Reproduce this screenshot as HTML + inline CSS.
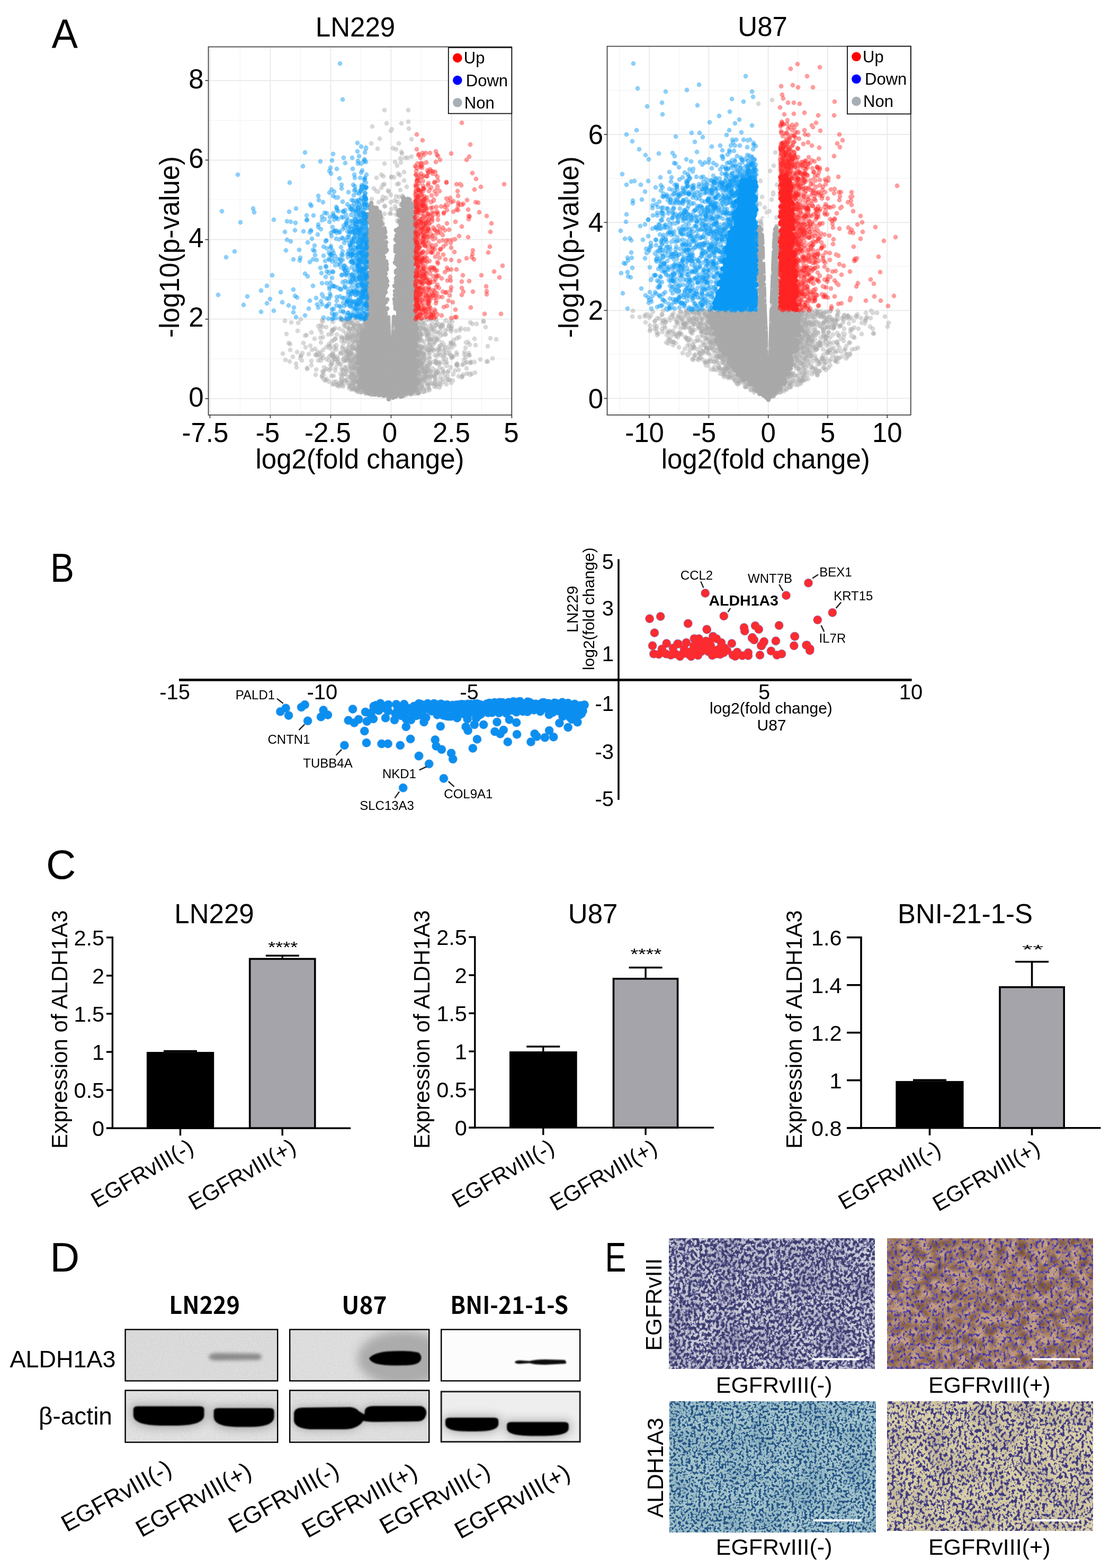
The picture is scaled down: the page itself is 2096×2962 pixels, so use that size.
<!DOCTYPE html>
<html><head><meta charset="utf-8"><title>Figure</title>
<style>html,body{margin:0;padding:0;background:#fff;}svg{display:block;}</style></head>
<body><svg width="2096" height="2962" viewBox="0 0 2096 2962" font-family="'Liberation Sans', Arial, sans-serif" fill="#000">
<defs><filter id="blur1" x="-20%" y="-50%" width="140%" height="200%"><feGaussianBlur stdDeviation="1.2"/></filter>
<filter id="blur2" x="-20%" y="-80%" width="140%" height="260%"><feGaussianBlur stdDeviation="3"/></filter>
<filter id="blur6" x="-30%" y="-100%" width="160%" height="300%"><feGaussianBlur stdDeviation="9"/></filter>
<filter id="grain" x="0" y="0" width="100%" height="100%"><feTurbulence type="fractalNoise" baseFrequency="0.35" numOctaves="1" seed="4" result="n"/><feColorMatrix in="n" type="matrix" values="0 0 0 0 0  0 0 0 0 0  0 0 0 0 0  0 0 0 0.18 -0.05" result="a"/><feFlood flood-color="#000"/><feComposite in2="a" operator="in" result="g"/><feMerge><feMergeNode in="SourceGraphic"/><feMergeNode in="g"/></feMerge></filter></defs>
<text x="97.5" y="90.9" font-size="78" text-anchor="start" textLength="49.5" lengthAdjust="spacingAndGlyphs">A</text>
<rect x="393.5" y="88.5" width="572.8" height="695.5" fill="#fff"/>
<line x1="453.4" y1="88.5" x2="453.4" y2="784" stroke="#f3f3f3" stroke-width="1.2"/>
<line x1="567.4" y1="88.5" x2="567.4" y2="784" stroke="#f3f3f3" stroke-width="1.2"/>
<line x1="681.4" y1="88.5" x2="681.4" y2="784" stroke="#f3f3f3" stroke-width="1.2"/>
<line x1="795.4" y1="88.5" x2="795.4" y2="784" stroke="#f3f3f3" stroke-width="1.2"/>
<line x1="909.4" y1="88.5" x2="909.4" y2="784" stroke="#f3f3f3" stroke-width="1.2"/>
<line x1="393.5" y1="677.9" x2="966.3" y2="677.9" stroke="#f3f3f3" stroke-width="1.2"/>
<line x1="393.5" y1="527.7" x2="966.3" y2="527.7" stroke="#f3f3f3" stroke-width="1.2"/>
<line x1="393.5" y1="377.5" x2="966.3" y2="377.5" stroke="#f3f3f3" stroke-width="1.2"/>
<line x1="393.5" y1="227.3" x2="966.3" y2="227.3" stroke="#f3f3f3" stroke-width="1.2"/>
<line x1="396.4" y1="88.5" x2="396.4" y2="784" stroke="#ebebeb" stroke-width="2"/>
<line x1="510.4" y1="88.5" x2="510.4" y2="784" stroke="#ebebeb" stroke-width="2"/>
<line x1="624.4" y1="88.5" x2="624.4" y2="784" stroke="#ebebeb" stroke-width="2"/>
<line x1="738.4" y1="88.5" x2="738.4" y2="784" stroke="#ebebeb" stroke-width="2"/>
<line x1="852.4" y1="88.5" x2="852.4" y2="784" stroke="#ebebeb" stroke-width="2"/>
<line x1="966.4" y1="88.5" x2="966.4" y2="784" stroke="#ebebeb" stroke-width="2"/>
<line x1="393.5" y1="753.0" x2="966.3" y2="753.0" stroke="#ebebeb" stroke-width="2"/>
<line x1="393.5" y1="602.8" x2="966.3" y2="602.8" stroke="#ebebeb" stroke-width="2"/>
<line x1="393.5" y1="452.6" x2="966.3" y2="452.6" stroke="#ebebeb" stroke-width="2"/>
<line x1="393.5" y1="302.4" x2="966.3" y2="302.4" stroke="#ebebeb" stroke-width="2"/>
<line x1="393.5" y1="152.2" x2="966.3" y2="152.2" stroke="#ebebeb" stroke-width="2"/>
<path d="M696.8 603.7 L689.8 619.1 L683.1 648.5 L678.6 693.0 L680.8 729.0 L688.2 738.8 L714.3 743.9 L738.4 751.1 L762.4 743.9 L782.6 738.6 L784.6 722.7 L783.7 611.2 L780.0 603.7 L780.0 389.9 L774.2 380.3 L766.8 375.0 L761.1 379.7 L756.0 400.7 L752.4 430.4 L749.7 482.8 L748.8 565.3 L746.9 625.9 L738.4 661.1 L729.9 625.9 L728.0 565.3 L727.1 482.8 L724.4 438.2 L716.4 408.9 L707.2 388.2 L702.0 386.4 L696.8 400.7 L696.8 603.7Z" fill="#a9a9a9"/>
<path d="M699 389h0m1 6h0m1 2h0m0-13h0m1 6h0m5 8h0m1-1h0m0-4h0m3 0h0m42 6h0m2-2h0m1 0h0m3-12h0m2 3h0m1-14h0m0 5h0m6-2h0m2-1h0m3 11h0m0-10h0m4 8h0m0 6h0m1 0h0m5-1h0m-90 25h0m0-10h0m3 2h0m0 0h0m0 12h0m1-2h0m0 19h0m0-28h0m0 31h0m0-2h0m2-34h0m1 11h0m2 4h0m0-10h0m11-2h0m0-2h0m0-4h0m1 4h0m0 10h0m2-8h0m0-5h0m1 1h0m0-1h0m1 33h0m0-27h0m1 11h0m0-8h0m0 0h0m1 14h0m1-1h0m5 14h0m0-5h0m1 7h0m0-2h0m21-2h0m3 3h0m1-33h0m1 27h0m1-25h0m0 11h0m3 10h0m2-20h0m16 20h0m1-19h0m1-5h0m1 33h0m1-6h0m0-27h0m0 33h0m0-17h0m0-17h0m1-3h0m1 9h0m1 28h0m0-30h0m1 32h0m0 0h0m0-22h0m1 11h0m-91 30h0m1 2h0m1-15h0m0 13h0m0 4h0m0-20h0m1 29h0m0-25h0m0 28h0m0 5h0m1-31h0m3-7h0m1 4h0m1-5h0m20 15h0m1 8h0m0 16h0m0-8h0m0 4h0m0 1h0m1-6h0m0-4h0m1-20h0m0 29h0m1-8h0m0-5h0m0-14h0m1 28h0m1-3h0m0-8h0m0 9h0m0-26h0m1 10h0m1 15h0m0-1h0m17-20h0m0 18h0m0 5h0m0-10h0m1-11h0m0 10h0m1 8h0m0-27h0m1 1h0m0 30h0m1-9h0m0-6h0m0 13h0m1-23h0m1 20h0m0 1h0m1-5h0m0 12h0m0-33h0m1 27h0m0-11h0m1-22h0m19 10h0m1 19h0m0-17h0m4 18h0m0-23h0m0-6h0m1 15h0m1 18h0m0-14h0m0 11h0m0 6h0m0-22h0m0 11h0m1 4h0m-90 36h0m1-24h0m2 34h0m0-21h0m1-12h0m0 35h0m0-22h0m1 23h0m0-4h0m0 0h0m0-12h0m0-12h0m1 26h0m0-30h0m0 3h0m1 8h0m0 6h0m0-10h0m0-5h0m1 29h0m1-5h0m20-31h0m2 10h0m0 21h0m1-27h0m2 18h0m1 13h0m0-20h0m1-3h0m0 8h0m1-3h0m0 7h0m0-7h0m0 10h0m16-13h0m1 1h0m1-8h0m0 26h0m0-3h0m1-28h0m0 27h0m1 5h0m1-15h0m0 11h0m2-5h0m1 9h0m0-1h0m0-8h0m21-26h0m1 10h0m0 17h0m0-18h0m1 11h0m0 2h0m0-6h0m1 20h0m0-9h0m1 3h0m0-14h0m0 5h0m0 12h0m0-23h0m2-9h0m0 16h0m1 11h0m1-18h0m-90 58h0m0-7h0m0-14h0m2-8h0m0 23h0m0 16h0m1-39h0m0 13h0m0 23h0m2-35h0m0-1h0m0 5h0m1 3h0m1 23h0m1-29h0m0 32h0m23 5h0m1-27h0m0 23h0m1-17h0m0-16h0m0 5h0m1 22h0m1 3h0m1-9h0m0-17h0m2 5h0m0 8h0m14 1h0m1 17h0m0-7h0m1-9h0m1-9h0m0-6h0m1 0h0m0 9h0m0-11h0m1 19h0m0-9h0m1 7h0m1 13h0m0-26h0m1 14h0m1-17h0m21 19h0m1 12h0m0-7h0m0-23h0m0 6h0m1 27h0m1-16h0m1 5h0m0 8h0m1-17h0m0 14h0m0-31h0m1 37h0m0-13h0m1-18h0m1 13h0m1-4h0m-91 40h0m0 20h0m1-27h0m0-1h0m1-9h0m1 15h0m0 20h0m0-26h0m1 13h0m0-16h0m1 15h0m0 5h0m1-23h0m0 28h0m0-5h0m0-9h0m0-17h0m1 27h0m24-4h0m1 16h0m2-16h0m0 2h0m0 0h0m1-14h0m0 21h0m0 7h0m0-13h0m3-20h0m0 17h0m13 16h0m1-34h0m1 9h0m0-4h0m0 3h0m1 2h0m0 8h0m0-17h0m0 14h0m1-9h0m0-2h0m4-4h0m0 34h0m0-11h0m0 10h0m1-26h0m23 5h0m1 17h0m0-28h0m0 22h0m1 5h0m0-31h0m0 18h0m1-16h0m0 22h0m0 9h0m1-3h0m1-29h0m1 33h0m0-28h0m0 14h0m1 0h0m0 2h0m0 4h0m-101 50h0m2-7h0m0-2h0m2-3h0m3 12h0m0-14h0m1 15h0m0-12h0m0 2h0m2-2h0m0-12h0m0-6h0m1 0h0m1 13h0m0-10h0m1-1h0m2 1h0m0-8h0m1 6h0m3-10h0m24 4h0m1 4h0m0 10h0m0-2h0m1 10h0m0-21h0m1 25h0m0 6h0m0-12h0m3-14h0m1 14h0m0-24h0m0 30h0m0-11h0m0 10h0m0 10h0m0-6h0m1-22h0m0-9h0m0 1h0m1 15h0m2 17h0m7-3h0m2-31h0m0 8h0m1-6h0m0 3h0m1 22h0m2-4h0m0-9h0m1-14h0m1 24h0m1-6h0m0-11h0m23-5h0m1 2h0m1 2h0m0-2h0m0-1h0m0 3h0m2 17h0m1-12h0m0 1h0m0-2h0m0 9h0m1-7h0m0 8h0m2-17h0m0 17h0m0-12h0m1 5h0m0-1h0m0 11h0m1 9h0m0 2h0m0-8h0m0-10h0m1 12h0m1-8h0m0 12h0m-110 40h0m1-16h0m1 14h0m1-3h0m0-5h0m1-9h0m0 24h0m1-10h0m0-23h0m0 14h0m0 6h0m1-23h0m0 37h0m1-7h0m1-10h0m47-15h0m0 3h0m2-4h0m1 5h0m1-10h0m1 3h0m0 7h0m2-10h0m2 1h0m2 8h0m0-9h0m1 2h0m1-3h0m0 2h0m1 5h0m0-3h0m34 12h0m0-5h0m1 14h0m0-3h0m1 13h0m0-3h0m2-25h0m1 18h0m0-11h0m0-12h0m0 25h0m1-14h0m0-12h0m1 26h0m1 3h0m0-30h0m0 26h0m-111 20h0m0-3h0m1 13h0m0 3h0m0 3h0m1-17h0m1 15h0m0 18h0m1-20h0m1 15h0m0-8h0m0-20h0m0 17h0m1-7h0m1 15h0m1-29h0m95 29h0m0-19h0m2 26h0m0-14h0m1 1h0m0 5h0m1-2h0m0 1h0m0-24h0m1 2h0m0-6h0m0 16h0m2 21h0m0-35h0m1 10h0m-111 29h0m3 10h0m2-4h0m0-7h0m0 4h0m2 5h0m0 3h0m3 1h0m0 0h0m7 8h0m2-1h0m0 3h0m2-3h0m7-3h0m3 8h0m1-1h0m3-3h0m5 3h0m0 2h0m1-3h0m7 4h0m1-4h0m1 2h0m0 1h0m1-1h0m6 5h0m0 4h0m8-3h0m1-1h0m4-1h0m8-6h0m2 6h0m0-7h0m0 5h0m1-7h0m2 8h0m1-3h0m0-1h0m4-1h0m1 0h0m3-4h0m2 2h0m2 0h0m3 2h0m0-2h0m0-5h0m1 1h0m3-12h0m0 8h0m1 3h0m1 1h0m0-6h0m0 7h0m0-4h0m0 4h0m1-8h0m0-8h0m2-1h0m0 6h0m3-5h0" stroke="#a9a9a9" stroke-opacity="1" stroke-width="8.8" stroke-linecap="round" fill="none"/>
<path d="M730 233h0m-13 29h0m55-19h0m-30 37h0m4 26h0m4 7h0m15-15h0m-45 32h0m19 4h0m11 14h0m5-17h0m-40 51h0m39-10h0m-41 55h0m1-2h0m6 0h0m40-15h0m0 28h0m5-14h0m4-18h0m12 17h0m-82 51h0m12-33h0m7 35h0m2-6h0m6 2h0m1 3h0m31-29h0m6-5h0m0 34h0m-69 13h0m21 13h0m3 3h0m2-7h0m30-5h0m2-8h0m4 31h0m11-24h0m-70 50h0m8 16h0m9-6h0m1-4h0m4 5h0m6-32h0m24 26h0m5 11h0m4-6h0m8-11h0m4 16h0m-74 11h0m5 29h0m63-13h0m-135 39h0m16-17h0m2 34h0m6-1h0m10-27h0m2 20h0m9-1h0m2 6h0m1-13h0m1-4h0m0 11h0m9-4h0m2-23h0m3 22h0m5 6h0m1-19h0m1-12h0m1 26h0m0 8h0m2-18h0m0 14h0m1-9h0m3-11h0m1 26h0m1-7h0m1-2h0m0-6h0m1 17h0m1-11h0m1 5h0m1-12h0m0 15h0m0 2h0m9-19h0m1-4h0m0-1h0m1 10h0m2-17h0m2 24h0m2 2h0m0-10h0m2-6h0m1 20h0m0-23h0m3-13h0m1 14h0m2-14h0m0 12h0m1 15h0m0-22h0m8 31h0m2 1h0m2-27h0m2 17h0m2 5h0m0-28h0m3 1h0m4 7h0m3 6h0m5-16h0m0 7h0m5 30h0m1-25h0m1-11h0m1 34h0m3-3h0m1-17h0m1 1h0m0 8h0m0-13h0m1 24h0m1-27h0m4 13h0m1 3h0m1 5h0m2-18h0m0 5h0m9-2h0m0 6h0m12 2h0m7 13h0m2-10h0m7-8h0m4-5h0m1 18h0m4-1h0m8-15h0m18 21h0m25-25h0m34 27h0m-378 22h0m19 16h0m30-6h0m9-24h0m10 9h0m10-11h0m6 34h0m0-39h0m3 20h0m2 14h0m9-16h0m1 8h0m6-2h0m4-18h0m1 30h0m3-8h0m2 7h0m1-1h0m1-20h0m1 25h0m4-34h0m1 14h0m0-19h0m3 31h0m2-11h0m1 15h0m1-8h0m0-14h0m2 20h0m0 0h0m2 4h0m0 0h0m1-31h0m0 15h0m2 9h0m1-13h0m1 16h0m0-9h0m2-17h0m1 11h0m1-9h0m2-1h0m1 20h0m0-10h0m0-4h0m1-11h0m2 7h0m0 11h0m1 12h0m0-29h0m1 22h0m0 13h0m1-3h0m2-17h0m1-16h0m2 36h0m4 0h0m2-1h0m1-13h0m1 10h0m0-3h0m1-11h0m2 1h0m0-14h0m1 25h0m1-2h0m1-28h0m0 22h0m2 2h0m0 0h0m2-8h0m4 5h0m0 1h0m1-2h0m1-18h0m0 26h0m1-5h0m0-22h0m3 24h0m1-26h0m2 14h0m1-10h0m0 23h0m2-17h0m3 5h0m1-13h0m1 17h0m1 8h0m0-22h0m2 3h0m0-5h0m0 2h0m0 20h0m1 5h0m0-1h0m0-14h0m0 14h0m1-26h0m1 9h0m0 16h0m1-13h0m0 0h0m1 17h0m0-34h0m1 1h0m0 34h0m0 2h0m0-37h0m1 3h0m1 30h0m1-25h0m1 20h0m1-3h0m1-6h0m1-19h0m3 1h0m1 0h0m1 2h0m0 31h0m1 0h0m2-19h0m1-4h0m1 9h0m1-13h0m0 21h0m1-13h0m1 7h0m2-12h0m0 3h0m0-8h0m4 8h0m6 11h0m1-4h0m3 2h0m3-3h0m1 6h0m1 1h0m1-11h0m2 1h0m12 6h0m2-20h0m0 12h0m0-5h0m2 2h0m4-9h0m3 3h0m4 15h0m6 2h0m0 5h0m19 1h0m4 8h0m4-34h0m23 5h0m3-1h0m2 21h0m-338 16h0m23-2h0m31 0h0m20 0h0m3 9h0m20-2h0m3 11h0m1 4h0m0 1h0m3 15h0m1-12h0m11-11h0m0-13h0m0-1h0m1 32h0m2-18h0m4-8h0m1 27h0m5-18h0m1-7h0m1 0h0m0 8h0m2-14h0m1 0h0m2 25h0m0-7h0m1-1h0m3 10h0m1-14h0m1-2h0m0 17h0m3 5h0m4-29h0m0-2h0m3 27h0m1 1h0m2 1h0m0-29h0m1 15h0m5-17h0m0 0h0m0 6h0m1 3h0m2-12h0m1 8h0m0 8h0m0 20h0m1-22h0m2-5h0m4 7h0m0 3h0m7 19h0m0-29h0m4 17h0m1-8h0m0-5h0m3-5h0m1-7h0m0 30h0m0-23h0m0 15h0m2 7h0m0-29h0m1 9h0m2-11h0m5 27h0m1-4h0m1 12h0m3-4h0m0-29h0m4 32h0m3-26h0m0 17h0m1-21h0m0-3h0m2 1h0m1 4h0m2 2h0m3 9h0m4 21h0m3-10h0m1 3h0m1-7h0m0 9h0m2 6h0m1-25h0m1-14h0m4 5h0m1 2h0m1 17h0m1-1h0m1-20h0m1 24h0m0 11h0m1-26h0m4 8h0m1-19h0m2 11h0m1-5h0m0 11h0m1-13h0m0 1h0m3 17h0m3-1h0m2 10h0m0-20h0m2 11h0m6 0h0m1 7h0m8-5h0m13-8h0m15-3h0m5 13h0m7-20h0m11 21h0m7-24h0m0 12h0m-253 30h0m12-2h0m4-2h0m10-2h0m7 4h0m1 1h0m4-1h0m4 8h0m1 2h0m3 5h0m2 1h0m1-11h0m1 2h0m5 10h0m4-5h0m0-14h0m1 0h0m1 1h0m2 16h0m1-9h0m3 5h0m1-4h0m1 4h0m4-6h0m4 0h0m0 1h0m3-6h0m0-4h0m1 14h0m1-13h0m1 11h0m0 12h0m8-22h0m1 8h0m1 12h0m1-14h0m1 20h0m2-14h0m0 0h0m2 6h0m1-18h0m7-2h0m2 28h0m0-19h0m1-5h0m2 2h0m0-3h0m4 22h0m3-1h0m4 2h0m1-5h0m3-20h0m2 3h0m4 10h0m0 13h0m5-14h0m3 6h0m1-8h0m0-7h0m4 13h0m0-14h0m2 9h0m2 5h0m1 2h0m0-16h0m1 6h0m2 7h0m0 1h0m4 0h0m2-13h0m0 4h0m0 9h0m3 3h0m1-5h0m0-13h0m0 20h0m8-2h0m7-12h0m2 4h0m21-7h0" stroke="#a9a9a9" stroke-opacity="0.45" stroke-width="8.8" stroke-linecap="round" fill="none"/>
<path d="M771 208h0m-18 63h0m24 25h0m-14 45h0m-61 35h0m9-15h0m3 1h0m20 0h0m5 33h0m6-16h0m6 19h0m26 0h0m-66 26h0m3-17h0m4 17h0m4-11h0m4-9h0m12 0h0m16 28h0m1 4h0m-44 35h0m14-13h0m1-2h0m0 17h0m0-32h0m27 18h0m2 4h0m2 11h0m8-28h0m3 2h0m6 26h0m-57 41h0m35-28h0m7-6h0m1 33h0m2 3h0m3-14h0m1 14h0m-66 41h0m10-14h0m7-14h0m3 8h0m1-5h0m2 1h0m3-7h0m27 28h0m4-1h0m2 4h0m3-36h0m1 0h0m4-1h0m3 25h0m8 13h0m-62 15h0m4-6h0m2 26h0m2-17h0m45-9h0m-228 63h0m66-3h0m22-5h0m25-6h0m0-4h0m3 5h0m2 8h0m7-16h0m0 11h0m0 14h0m2-22h0m3 11h0m3 11h0m2-31h0m1 0h0m1 28h0m1-18h0m3 17h0m2 0h0m0-7h0m0-3h0m2 8h0m2-26h0m4 25h0m3 11h0m1-21h0m3-6h0m2 24h0m3 0h0m0-16h0m1-4h0m1 8h0m1 4h0m2-4h0m1-17h0m3 11h0m0-14h0m2 19h0m1 0h0m5-21h0m0 25h0m3 0h0m3 7h0m1 2h0m2-11h0m1-24h0m2 36h0m3 1h0m0-20h0m0 5h0m2 4h0m3-11h0m0 17h0m1-5h0m3-22h0m1 1h0m3-6h0m1 21h0m0-7h0m3 21h0m1-5h0m1-30h0m5 18h0m0-9h0m1-6h0m2 13h0m1 15h0m5-28h0m1 0h0m0 13h0m0-8h0m1 25h0m1-10h0m1-24h0m3 16h0m1 20h0m0-12h0m1-3h0m4 12h0m0 4h0m3-10h0m4-14h0m0 17h0m2 8h0m1-6h0m1-18h0m1 12h0m3-4h0m1-11h0m6 15h0m1 3h0m9-7h0m3-2h0m6-6h0m9 12h0m1-10h0m19 4h0m-318 48h0m14-18h0m21 21h0m2-4h0m6-11h0m6 13h0m20-1h0m2 6h0m11 4h0m13-5h0m22-30h0m7 22h0m1 6h0m4-1h0m1-2h0m2-9h0m0-14h0m1 27h0m7-11h0m2 12h0m0 4h0m1-3h0m0-30h0m1 6h0m1-1h0m0-5h0m2 20h0m1-23h0m1 21h0m0-1h0m1-4h0m1-17h0m0 23h0m0 10h0m0-16h0m4 8h0m1-18h0m0 19h0m3-13h0m0 19h0m0 0h0m1-29h0m2 25h0m0-23h0m1 26h0m4-24h0m5-5h0m0 19h0m2 0h0m0 0h0m0 15h0m1-3h0m1-1h0m0-26h0m2 28h0m1-5h0m1 6h0m3-30h0m3 24h0m1-11h0m5 5h0m1-15h0m1 25h0m0-9h0m0 11h0m1 2h0m0-37h0m3 6h0m0 5h0m1 20h0m1 3h0m1-11h0m1-7h0m0 5h0m1-10h0m1 19h0m1 3h0m1-4h0m0-11h0m1-9h0m0-3h0m2 31h0m1-20h0m1 20h0m5-27h0m2 1h0m0 5h0m0-9h0m2 25h0m1-13h0m0 16h0m3-3h0m2-10h0m2 2h0m1-19h0m4 18h0m0-5h0m2-5h0m1 17h0m0-25h0m2 19h0m1 5h0m0-15h0m2 8h0m0 8h0m2 6h0m0 1h0m0 1h0m2-26h0m2 12h0m0-11h0m3 9h0m0 12h0m0-14h0m2-18h0m4 17h0m0 13h0m2 7h0m0-36h0m1 22h0m1 0h0m1-8h0m2-14h0m5 19h0m1-9h0m22 20h0m5-14h0m7 14h0m3-17h0m11-9h0m2 28h0m1-19h0m4-4h0m40 0h0m32 25h0m7-36h0m-398 39h0m20 7h0m21 10h0m17 1h0m17 21h0m27-31h0m7 12h0m4 6h0m1-25h0m4 1h0m0 19h0m0-21h0m3 17h0m0 15h0m2-24h0m0 8h0m4 11h0m4 5h0m5-31h0m1 31h0m2-29h0m0 21h0m0-24h0m0 34h0m1-34h0m1 35h0m0-4h0m1-25h0m1 15h0m1-13h0m2 8h0m1 17h0m1-4h0m1 6h0m1-31h0m0 0h0m0 31h0m1-8h0m0-17h0m2 28h0m1-15h0m0-13h0m1 4h0m1 18h0m0-16h0m1-10h0m1 7h0m0 10h0m0-20h0m0 13h0m0 0h0m2 7h0m0-2h0m1-3h0m3-17h0m2 26h0m0-23h0m2 32h0m1-23h0m0 0h0m2 10h0m2 6h0m0 10h0m0-35h0m3-4h0m0 21h0m1-1h0m1-11h0m0 29h0m1-18h0m0-10h0m0 6h0m2-9h0m2 3h0m0 5h0m2 0h0m2 23h0m1-32h0m1 27h0m2-28h0m0 13h0m4 5h0m1 3h0m1 2h0m2 7h0m1-1h0m4 3h0m3-4h0m0-14h0m0-16h0m0 29h0m1-32h0m1 25h0m0-23h0m1 22h0m0 2h0m1-23h0m1 33h0m2-24h0m0-3h0m0 5h0m2 8h0m3 6h0m1 5h0m1-30h0m0 25h0m0-23h0m1 12h0m1 4h0m1-20h0m2 14h0m0 16h0m2-3h0m0 4h0m1-14h0m2-1h0m1-17h0m0 6h0m1 2h0m1-2h0m0 7h0m1 4h0m0 5h0m0 10h0m1 3h0m2-6h0m0-23h0m1 5h0m1 23h0m2-13h0m1-20h0m0 31h0m1-29h0m1 24h0m0-26h0m1 7h0m0 25h0m1-3h0m2 1h0m0-30h0m0 20h0m1-12h0m1 26h0m0-23h0m1 18h0m0-26h0m3 4h0m0 30h0m1-28h0m3 26h0m2-19h0m1 20h0m2-3h0m0-6h0m1 4h0m2-21h0m1 17h0m0-11h0m5 22h0m0-34h0m2 17h0m6 8h0m2 7h0m5-15h0m17 16h0m1-8h0m2-9h0m15-11h0m4 9h0m6 14h0m4-33h0m10 26h0m2 2h0m31-25h0m-284 44h0m11-4h0m14 5h0m6 6h0m2-4h0m1 4h0m3-13h0m2 14h0m4-1h0m0-6h0m5 9h0m2-8h0m0-2h0m1 8h0m1-13h0m2 12h0m0 6h0m3 0h0m4 3h0m0-23h0m1 12h0m4-9h0m1 21h0m5-21h0m4 18h0m0-13h0m0 1h0m1 10h0m0 2h0m0-5h0m0-2h0m1 9h0m4-11h0m0 12h0m2-12h0m2 7h0m0-7h0m2 12h0m0-18h0m1 11h0m0-8h0m2 1h0m5-3h0m2 1h0m0 15h0m2 0h0m0-6h0m1 4h0m0-16h0m0 14h0m2 3h0m1-14h0m0-1h0m1 10h0m1-8h0m3-1h0m1 0h0m2 21h0m0-15h0m4 2h0m4-12h0m1 16h0m1-16h0m1 0h0m1 1h0m2 11h0m1-9h0m0 7h0m2 5h0m2-10h0m1-1h0m2-8h0m4 22h0m1-15h0m4 15h0m8-10h0m1-2h0m3 12h0m0-4h0m1-3h0m1-8h0m1 7h0m3-3h0m10 7h0m0-16h0m2 3h0m2 9h0m6-10h0" stroke="#a9a9a9" stroke-opacity="0.45" stroke-width="8.8" stroke-linecap="round" fill="none"/>
<path d="M756 359h0m7-34h0m-64 70h0m3 4h0m20-20h0m16 3h0m8 8h0m13-2h0m4-4h0m14-3h0m2 9h0m-54 48h0m11-35h0m14 14h0m7 7h0m9-6h0m3 9h0m-62 23h0m8 18h0m8-22h0m0 18h0m1 1h0m1 9h0m34-18h0m11 5h0m6-6h0m-67 56h0m48 5h0m4-19h0m0 9h0m2-20h0m4 14h0m10-10h0m4 6h0m-85 47h0m6-6h0m18-14h0m7 20h0m28-21h0m1 8h0m9 26h0m1-18h0m0 11h0m-73 17h0m0 33h0m19-19h0m4 19h0m6-20h0m3 20h0m26-18h0m6-10h0m4 14h0m-199 40h0m1-15h0m25 18h0m17 10h0m3-33h0m19 19h0m6-4h0m13-16h0m9 34h0m4-6h0m2 7h0m2 0h0m9-28h0m0 1h0m3 10h0m4 10h0m0 1h0m2-17h0m2 6h0m3 5h0m3 1h0m0 3h0m0-20h0m2 20h0m1 4h0m2-11h0m0-15h0m1 21h0m0-20h0m1-6h0m0-3h0m0 9h0m0 5h0m4 16h0m0-9h0m2 10h0m1-10h0m3-12h0m1 8h0m1 9h0m1-14h0m4 19h0m0-14h0m1 3h0m3-8h0m1 2h0m1 24h0m1-12h0m12 6h0m2-12h0m0 2h0m1-18h0m1 7h0m1-10h0m1 34h0m0-7h0m3-7h0m2-10h0m1-8h0m2 19h0m5 6h0m5-9h0m1-13h0m5-6h0m1 16h0m4 6h0m1-8h0m6 20h0m1 3h0m3-11h0m1-12h0m2-8h0m1 9h0m3-11h0m1 17h0m7 14h0m1-16h0m0-14h0m5 14h0m1-14h0m6 29h0m2 4h0m1-35h0m2 28h0m1 0h0m5 4h0m3-15h0m12 13h0m9-10h0m12-8h0m1-9h0m24 15h0m6 0h0m-331 52h0m8-9h0m12-17h0m22 11h0m1 11h0m32-1h0m1 6h0m9 3h0m5-10h0m5 11h0m2-7h0m3-6h0m5 2h0m2-8h0m5-2h0m0 9h0m1-14h0m2 5h0m1 21h0m8-33h0m1 7h0m0 11h0m1-11h0m2 3h0m2 15h0m1-10h0m1-14h0m7 24h0m0-15h0m3-15h0m0 7h0m4 30h0m0-25h0m1-5h0m0 7h0m1-2h0m0 22h0m0 4h0m3-8h0m0-8h0m3 1h0m0 4h0m0 5h0m3-8h0m0 11h0m5-23h0m0-7h0m2 25h0m1 2h0m0-25h0m0 14h0m4-11h0m1 18h0m0 6h0m1-12h0m0 0h0m1 11h0m0 4h0m0-5h0m1 0h0m3 5h0m0-2h0m0-9h0m0 4h0m4-12h0m2 15h0m1-9h0m0-10h0m1-12h0m1 25h0m2-13h0m1-8h0m2 3h0m0 27h0m1-20h0m3 1h0m1 20h0m0-34h0m1 7h0m0 26h0m2-20h0m1-8h0m3 27h0m2-3h0m1-18h0m2 16h0m4-14h0m1-2h0m2-7h0m3 20h0m0 0h0m0 8h0m1-4h0m3-20h0m1 5h0m0 3h0m1 2h0m0 3h0m1-15h0m1 15h0m1-20h0m4 14h0m2-13h0m1-4h0m2 30h0m0-22h0m1 21h0m1 3h0m0-10h0m1-14h0m1 4h0m0 15h0m1-27h0m0-1h0m3 16h0m2 16h0m2-4h0m0 10h0m2-2h0m0-20h0m10 10h0m3-26h0m0 22h0m3-12h0m6-9h0m11 5h0m3 17h0m0-13h0m9 10h0m5-11h0m4 23h0m6-7h0m15-1h0m2-8h0m0 18h0m-271 36h0m3-3h0m11-9h0m4-12h0m2-5h0m2 28h0m14 6h0m1-20h0m0 15h0m3-31h0m3 1h0m1 12h0m1 4h0m6-17h0m3 13h0m0-13h0m1 28h0m0 3h0m2 6h0m3-24h0m3 2h0m0-12h0m2 31h0m1-1h0m5-30h0m1-1h0m2 35h0m4 1h0m0-25h0m1-4h0m2 20h0m0-4h0m1-1h0m1-11h0m1 26h0m1-6h0m3-2h0m0-31h0m1 5h0m0 6h0m1 16h0m0-18h0m1-9h0m2 3h0m0 10h0m3 18h0m0-10h0m4-2h0m0-3h0m2 8h0m0-3h0m1 11h0m1-27h0m1 0h0m1 29h0m1-24h0m1 0h0m1 12h0m0 16h0m1-24h0m3-7h0m1 18h0m1-17h0m1 16h0m0 14h0m1-8h0m0-22h0m1 13h0m1-21h0m1 11h0m0-6h0m2 16h0m0-4h0m0 13h0m1-23h0m1 19h0m2-16h0m1 16h0m0-24h0m1 1h0m1 3h0m1 1h0m1 11h0m2 4h0m3-3h0m1 7h0m2 1h0m2 5h0m0-25h0m2-1h0m0 25h0m0-28h0m1-3h0m0 39h0m1-28h0m0 4h0m3-6h0m1 16h0m0-9h0m0-7h0m2 9h0m1-10h0m0 0h0m1 13h0m0-19h0m1 8h0m1 3h0m0 12h0m0 11h0m0-13h0m0-10h0m4-10h0m1 1h0m2-3h0m2 2h0m1 4h0m0 10h0m2 10h0m0 8h0m0-28h0m3 6h0m0 9h0m1-4h0m0 15h0m2-23h0m1-3h0m4 27h0m0-11h0m1-2h0m2-20h0m0-1h0m1 37h0m1-31h0m0 28h0m0-8h0m2-8h0m0-7h0m2 0h0m0 20h0m2-9h0m0-17h0m3 10h0m3 12h0m2-3h0m18-4h0m1-16h0m0 23h0m7-22h0m5 31h0m1-14h0m0-17h0m2-2h0m1 29h0m3-28h0m4 33h0m8 2h0m8-30h0m10 22h0m-252 10h0m19 9h0m22 2h0m2-5h0m2 7h0m3-1h0m2 4h0m3-17h0m3 2h0m2 11h0m0-7h0m3 14h0m4-3h0m0-7h0m10 9h0m2-3h0m2 6h0m0-15h0m0-1h0m0 7h0m7-2h0m0-8h0m6 6h0m0 7h0m4-4h0m1-7h0m7 2h0m1 5h0m2 16h0m1-11h0m4-6h0m1 18h0m0-1h0m1-12h0m0 5h0m3-6h0m2-2h0m2 10h0m0 0h0m1 5h0m0-17h0m2-5h0m4 11h0m3 1h0m3-17h0m1 25h0m4-21h0m4 15h0m6-10h0m0 5h0m0 6h0m2-7h0m3-6h0m3 15h0m1-21h0m3 22h0m1-15h0m7 13h0m1-11h0m1-10h0m0 2h0m1 14h0m1-8h0m1-4h0m1 3h0m4-7h0m5 3h0m4 3h0m11-3h0m4 7h0m8-4h0m11-1h0m9-3h0" stroke="#a9a9a9" stroke-opacity="0.45" stroke-width="8.8" stroke-linecap="round" fill="none"/>
<path d="M726 208h0m45 22h0m-70 41h0m37-24h0m2-3h0m37 19h0m-29 19h0m11 8h0m11 8h0m-47 51h0m29-21h0m1 19h0m15 6h0m-46 23h0m1-4h0m3 17h0m22-18h0m5 28h0m2-1h0m-40 33h0m8-9h0m1 7h0m1 3h0m29-18h0m0-11h0m5 3h0m1 1h0m4 27h0m-12 42h0m1-21h0m4-5h0m21 14h0m-57 39h0m2-2h0m2-9h0m27 9h0m13-12h0m5 27h0m7-24h0m-80 40h0m20-1h0m2 15h0m39 10h0m5-24h0m1 5h0m-65 35h0m10 21h0m9-24h0m0 22h0m4-12h0m11 20h0m21-28h0m14 9h0m1-1h0m12-17h0m-243 44h0m71 11h0m1-10h0m16 24h0m10 1h0m6-29h0m8 13h0m5 18h0m2-14h0m1-12h0m3 26h0m2-27h0m0 20h0m3 1h0m2 1h0m0 9h0m1-35h0m0 13h0m0 18h0m2-6h0m1 2h0m4-3h0m8-7h0m0-3h0m2 1h0m1-1h0m1 21h0m1-10h0m0-20h0m5 25h0m0 0h0m6 5h0m1-17h0m2 6h0m3-25h0m1 15h0m1 0h0m2 17h0m1-15h0m2 9h0m0 8h0m4-6h0m3-19h0m3 12h0m1 3h0m0 10h0m2-7h0m4-18h0m5 10h0m1 16h0m1 1h0m2-17h0m1 2h0m0-14h0m4-1h0m0 7h0m1 23h0m4-32h0m2 29h0m0-34h0m1 38h0m0-1h0m0-28h0m2-6h0m1 28h0m0-24h0m3 24h0m0-23h0m1-1h0m0 30h0m5-26h0m3 13h0m0-8h0m1 22h0m0-33h0m0 22h0m1-2h0m2 6h0m0-27h0m1 10h0m0 15h0m3-19h0m6-5h0m3 8h0m1 12h0m6 10h0m0-1h0m1-2h0m2 0h0m0 5h0m13-4h0m8-16h0m10-9h0m16-3h0m0 26h0m1-27h0m6 4h0m4 17h0m18-6h0m18-11h0m25-3h0m-368 42h0m23 24h0m42-11h0m14-7h0m5 15h0m0-3h0m1-23h0m1 12h0m0 3h0m2 20h0m1-38h0m13 14h0m2-6h0m5 11h0m1 14h0m0 6h0m1-39h0m4 11h0m0-10h0m2 1h0m1 37h0m5-32h0m4 27h0m0-2h0m2-11h0m0 6h0m0-18h0m4 22h0m0-5h0m4-12h0m0 14h0m1 3h0m5 3h0m1-22h0m1 12h0m0-13h0m1 12h0m2-15h0m0 30h0m2-12h0m1-9h0m3 16h0m0-19h0m2 2h0m1-16h0m0 11h0m1 28h0m0-7h0m1-18h0m1-4h0m0 22h0m1-26h0m4 1h0m1 31h0m1-4h0m0-15h0m3-1h0m7-5h0m4 15h0m1 1h0m0-20h0m1 13h0m0-5h0m1-15h0m0 23h0m4-22h0m0 35h0m1-22h0m1-12h0m0 29h0m0-22h0m0 8h0m5 8h0m0 11h0m2-23h0m0 5h0m1 5h0m0-24h0m0 31h0m1-1h0m1-11h0m6-18h0m0-1h0m0 15h0m0-15h0m1 1h0m0-2h0m0 0h0m0 34h0m2-7h0m1-7h0m1 13h0m0-12h0m1 18h0m0-18h0m2-7h0m2-13h0m0 2h0m4 30h0m0 3h0m2-6h0m6-5h0m1 11h0m1-27h0m2 10h0m0-11h0m1 31h0m2-6h0m1 5h0m1-9h0m1 10h0m0-29h0m1 12h0m3-10h0m5 3h0m1 10h0m3 14h0m0-24h0m3 14h0m0 9h0m1-32h0m6-4h0m3 15h0m1 4h0m0-20h0m1 12h0m0 7h0m8 2h0m12-8h0m1 17h0m1-19h0m5 26h0m1-8h0m3 8h0m5-23h0m5-7h0m33 23h0m11-31h0m-336 54h0m28-4h0m8 18h0m16-14h0m1 4h0m12-2h0m1 14h0m8-16h0m3-7h0m1-4h0m7 32h0m2-6h0m6-14h0m1 5h0m1 18h0m2-6h0m1 3h0m3-2h0m1-1h0m0 6h0m1-1h0m3-10h0m1-22h0m2 12h0m0-7h0m1 6h0m1-5h0m0 10h0m4-17h0m2 13h0m1 11h0m1-3h0m0 2h0m1-5h0m0 1h0m2-6h0m4 12h0m1 3h0m1-19h0m3-13h0m3 36h0m3-32h0m0 10h0m1 0h0m1 14h0m1-20h0m2 25h0m0-2h0m1-13h0m1-16h0m4 15h0m0 17h0m1-21h0m2 20h0m1-3h0m0-29h0m0 21h0m1 5h0m1-24h0m4 23h0m0-20h0m0 33h0m0-24h0m6 9h0m2 7h0m0-27h0m2-3h0m0 32h0m1-12h0m1 4h0m1 6h0m1-6h0m0-8h0m1 17h0m0-20h0m0-12h0m0 3h0m1 3h0m2 22h0m1-1h0m1-4h0m1-12h0m1 19h0m1-3h0m5-21h0m0 13h0m2-21h0m1 12h0m2 8h0m1 9h0m0-7h0m2 7h0m1-16h0m0 24h0m1-12h0m0-21h0m2 9h0m4 17h0m2-15h0m1 8h0m3-5h0m1-6h0m2-4h0m0 10h0m2 17h0m2-12h0m1-5h0m3 16h0m2-9h0m0 4h0m4-28h0m2 19h0m2-12h0m2 30h0m3-38h0m1 26h0m1 11h0m2-32h0m1 1h0m1 29h0m0-32h0m0 12h0m2 10h0m0-12h0m0 18h0m3-19h0m1-3h0m2 26h0m0-28h0m1 25h0m1-27h0m1 4h0m11 24h0m1-31h0m0 3h0m6 3h0m16 15h0m43-17h0m33-3h0m-291 38h0m0 4h0m7 3h0m1-2h0m6 0h0m0-3h0m1-3h0m3 10h0m20-6h0m1-2h0m7 18h0m1-6h0m2-4h0m1 11h0m3-17h0m4 1h0m4 18h0m5-8h0m3-6h0m1 5h0m2 12h0m1-16h0m2 8h0m2 7h0m1-5h0m1-10h0m5 9h0m0 6h0m1-13h0m1 10h0m1-9h0m0 11h0m1-12h0m1 1h0m1 11h0m0 0h0m0-10h0m1 1h0m2-13h0m2 7h0m4-4h0m2 3h0m2-7h0m4 11h0m1 6h0m1 2h0m3-18h0m1 27h0m0-16h0m1-6h0m0-1h0m6-2h0m0-1h0m3 25h0m3-19h0m1 3h0m1 11h0m5-5h0m2 9h0m1-9h0m1 3h0m0-21h0m2 6h0m0-1h0m1 19h0m1-2h0m4 3h0m1-3h0m4-15h0m1-4h0m5 12h0m2 8h0m2-19h0m1-3h0m20 16h0m9-7h0m10 2h0m7-10h0" stroke="#a9a9a9" stroke-opacity="0.45" stroke-width="8.8" stroke-linecap="round" fill="none"/>
<path d="M713 281h0m-2 55h0m9 19h0m4-22h0m3 57h0m2-16h0m4-14h0m5 8h0m10 27h0m9-8h0m4-15h0m-63 62h0m15-13h0m10 16h0m24-31h0m16 31h0m11-20h0m-63 54h0m4 5h0m4-18h0m0 10h0m1 1h0m3-2h0m28-6h0m7 3h0m-45 33h0m4 0h0m36 22h0m2-23h0m3 0h0m1 6h0m15-18h0m-77 64h0m10 5h0m8-21h0m58 7h0m-73 50h0m13-4h0m4 1h0m7-9h0m26-15h0m1 10h0m6-3h0m-189 34h0m11 30h0m22-17h0m9 21h0m6-19h0m4 14h0m7-6h0m14-5h0m3 15h0m2 1h0m2-12h0m5-18h0m5 29h0m2-14h0m1-15h0m6 13h0m2 14h0m8-18h0m10 15h0m1-17h0m0 14h0m2-7h0m0-14h0m4 9h0m2 3h0m1-6h0m1-13h0m1 37h0m1-16h0m0-6h0m2-3h0m3-5h0m2 18h0m0-23h0m3 33h0m1-11h0m3 1h0m3-3h0m1-21h0m0 0h0m1 27h0m2-8h0m0 3h0m1-11h0m2 12h0m3-14h0m2 21h0m3-22h0m1 23h0m3-30h0m1 28h0m1-5h0m2-20h0m3 25h0m0 2h0m3-27h0m0 16h0m2 17h0m0-27h0m4-1h0m4 23h0m1-16h0m3 18h0m1-29h0m8 17h0m0-15h0m2 25h0m0-9h0m4 3h0m0-25h0m1 23h0m1-3h0m2-4h0m1 8h0m6 12h0m2-29h0m0 10h0m11 12h0m1-11h0m2-9h0m3 19h0m2-2h0m0-25h0m0 19h0m9-16h0m0 5h0m4 17h0m3-13h0m1-11h0m4 25h0m3-12h0m4-4h0m1 4h0m10 5h0m17 17h0m54-21h0m-317 47h0m0 6h0m5-5h0m4 5h0m12-21h0m1 23h0m35-10h0m1-8h0m2 17h0m2-12h0m5-4h0m5-1h0m2-12h0m0 35h0m1-34h0m1 8h0m0 15h0m2-7h0m2 9h0m0 4h0m0-15h0m2 20h0m6-34h0m1 32h0m0-6h0m0-3h0m1 8h0m1-28h0m3-3h0m1 23h0m0-5h0m1 9h0m0-17h0m1 23h0m1-33h0m1 26h0m1 6h0m1-4h0m0-1h0m2-20h0m1 21h0m0-22h0m1-10h0m1 16h0m1-6h0m0 11h0m1 0h0m2 14h0m1-15h0m1 16h0m1-34h0m4 26h0m0-1h0m4-2h0m0-10h0m1 0h0m2 7h0m3 8h0m0-17h0m2-13h0m0 24h0m1-23h0m1 30h0m2 7h0m0-37h0m2 37h0m1-12h0m2-20h0m0 12h0m1 12h0m1-9h0m1 18h0m0-17h0m1 8h0m1-5h0m1 11h0m0-13h0m0-17h0m0 26h0m1-32h0m2 29h0m2-21h0m0 17h0m0-13h0m0 22h0m5-28h0m0 20h0m2 10h0m0-25h0m1-7h0m4 5h0m3-7h0m2 4h0m1 26h0m1-32h0m2 31h0m4-19h0m1-2h0m0 17h0m1 3h0m1-18h0m2 3h0m1-11h0m1-3h0m1 22h0m4 2h0m0 0h0m1-19h0m0 6h0m2-8h0m1 28h0m8 0h0m2-4h0m1 5h0m6 4h0m0-16h0m2 0h0m2-14h0m0 27h0m2-13h0m1-20h0m2 17h0m9-18h0m3 21h0m2-7h0m13 13h0m13-18h0m30 1h0m1 1h0m20 28h0m-327 16h0m26-14h0m2 29h0m3-8h0m6 14h0m0-19h0m10-10h0m11-4h0m22 7h0m2-5h0m2 9h0m0 8h0m1 1h0m1-3h0m2-20h0m0 26h0m0-10h0m1 10h0m1 2h0m1-13h0m2-10h0m2 22h0m2-9h0m1-1h0m4 1h0m2-6h0m2-5h0m1 28h0m2-21h0m2 16h0m1-25h0m0 28h0m0-15h0m3-5h0m0 15h0m1-20h0m1 25h0m1 4h0m3-32h0m2 1h0m1 30h0m0-12h0m1-17h0m0 12h0m1 7h0m1-20h0m1 28h0m2-7h0m0-6h0m2 16h0m1-1h0m2-30h0m0 2h0m0-7h0m0 28h0m2-21h0m0-2h0m1 28h0m1-7h0m1-21h0m0 12h0m5-5h0m2-8h0m0 22h0m0-3h0m3 2h0m0 1h0m1-23h0m3-2h0m1 28h0m1-23h0m1 31h0m1-5h0m0 3h0m1-27h0m2 6h0m1-10h0m0-5h0m4 0h0m1 38h0m0-5h0m0-33h0m1 16h0m2-15h0m1 36h0m1-1h0m1 3h0m1-25h0m0-8h0m2 12h0m0 1h0m0-17h0m2 37h0m2-26h0m1 10h0m5-7h0m4 14h0m1-17h0m1 19h0m1-13h0m0-13h0m1 13h0m3 4h0m0 0h0m4-17h0m1 11h0m2-5h0m0 15h0m1 9h0m0-26h0m1 9h0m1 13h0m3-7h0m2-25h0m3 7h0m2 26h0m2 2h0m5-35h0m1 19h0m0-19h0m6 15h0m1-8h0m1 25h0m4-16h0m0-12h0m5-2h0m9 24h0m0 8h0m0 5h0m5-14h0m2-1h0m35-15h0m15-5h0m-253 37h0m26 9h0m4 4h0m0-9h0m4-4h0m4 15h0m1-3h0m1-1h0m0 1h0m5-11h0m1-1h0m4 3h0m3 2h0m1 12h0m1-16h0m3 17h0m0-7h0m1 2h0m1 6h0m2-7h0m2-9h0m1 21h0m0-1h0m2-12h0m0 0h0m2 2h0m1-2h0m3-8h0m1 20h0m1-3h0m1-19h0m3 25h0m4-11h0m2-10h0m0 0h0m2 11h0m3-1h0m1 3h0m1-19h0m1 12h0m3 0h0m3 0h0m2-8h0m1-1h0m0-2h0m1 27h0m0-27h0m1 24h0m0 3h0m1-20h0m0 8h0m1-7h0m5 7h0m2 11h0m0-8h0m1-5h0m1-4h0m0 7h0m3-9h0m2-4h0m2 19h0m3-8h0m0 7h0m3-11h0m2 10h0m0-18h0m16 5h0m1-1h0m4-1h0m0 9h0m4-15h0m7 7h0m1 8h0m2 5h0m1-4h0m12-11h0m9-5h0m0 6h0" stroke="#a9a9a9" stroke-opacity="0.45" stroke-width="8.8" stroke-linecap="round" fill="none"/>
<path d="M703 239h0m55-6h0m-32 76h0m30-10h0m1 1h0m0 7h0m1-20h0m-52 69h0m20-8h0m13-13h0m5 0h0m-31 62h0m37-16h0m10-11h0m0 3h0m6 26h0m-67 23h0m7-12h0m9-3h0m1 18h0m37-4h0m6 10h0m10 3h0m-70 40h0m3-28h0m15 23h0m0 4h0m8-1h0m0-25h0m27-5h0m1 20h0m3 15h0m18-9h0m5-15h0m1 19h0m-58 45h0m32-22h0m8 16h0m21-27h0m-86 71h0m22-28h0m5 26h0m27 5h0m2-19h0m0-11h0m6 19h0m23 1h0m-87 51h0m63-14h0m1-22h0m5 11h0m15 4h0m-229 31h0m26 25h0m28-12h0m2-8h0m23-6h0m16 31h0m5-27h0m3-8h0m0 26h0m5-21h0m2 2h0m1 9h0m0 18h0m7-23h0m1 1h0m1 3h0m1-2h0m5 17h0m0-23h0m1 23h0m0-3h0m1-7h0m3 1h0m4 13h0m0-24h0m2 4h0m1-2h0m1 4h0m2-3h0m0-8h0m1 28h0m0 0h0m0-17h0m0-17h0m1 20h0m2-22h0m0 33h0m0 3h0m1 1h0m6-14h0m0-8h0m1-13h0m0 9h0m0 27h0m1-32h0m0 19h0m2 13h0m2 0h0m0-16h0m0-16h0m2 27h0m3-22h0m1 12h0m1-6h0m1 13h0m3-14h0m2 6h0m5-5h0m2-13h0m1 26h0m1 2h0m3 4h0m5-3h0m1-4h0m2-15h0m4-10h0m0 33h0m0-36h0m2 3h0m1 21h0m0-25h0m1 36h0m1-8h0m4-4h0m1 0h0m3-12h0m2 7h0m1 16h0m1-5h0m6-21h0m0 0h0m1-3h0m0 24h0m2-28h0m1 1h0m3 21h0m2-11h0m1-1h0m2 17h0m2-21h0m3 29h0m2-20h0m4-15h0m1 25h0m0 11h0m4-7h0m8-8h0m4 2h0m1 8h0m0-5h0m3-14h0m17-2h0m18 3h0m5 6h0m9 3h0m7-1h0m32-12h0m13-4h0m-327 45h0m3 8h0m5-21h0m15 36h0m12-22h0m2 4h0m2 13h0m6 2h0m4-21h0m0 2h0m8 12h0m2-22h0m4 34h0m1-17h0m4 14h0m2-7h0m7-1h0m8 8h0m2-33h0m1 14h0m1 4h0m0-15h0m1 32h0m1-32h0m2 22h0m0-5h0m1 14h0m1-21h0m0 22h0m3-5h0m2 7h0m0-27h0m1 5h0m1-9h0m2 1h0m1 11h0m2-16h0m1 10h0m0 10h0m2 11h0m3-23h0m3-8h0m0 20h0m2 8h0m1-1h0m1 3h0m3-3h0m7 2h0m1-23h0m2-9h0m2 4h0m2 25h0m2-15h0m0 23h0m6-4h0m0-13h0m1 1h0m0-6h0m0 18h0m1-17h0m0-9h0m0 10h0m1 12h0m1-19h0m0 20h0m5-17h0m1 14h0m1 8h0m1-2h0m5-23h0m2 14h0m0 8h0m2 2h0m3-10h0m0 1h0m2 9h0m0-9h0m2-4h0m0 1h0m3-19h0m2 34h0m1-37h0m3 22h0m1 14h0m1-3h0m1-18h0m1 7h0m2-18h0m4 11h0m6 15h0m2-17h0m0 13h0m1-13h0m5-13h0m0 29h0m3-7h0m3 13h0m4-6h0m7-3h0m2 10h0m4-18h0m6 12h0m0-24h0m5 22h0m2-27h0m11 18h0m11 11h0m4 2h0m9-3h0m14 0h0m10 1h0m34-17h0m-333 28h0m21 20h0m1 13h0m4 2h0m19-17h0m10 6h0m7-24h0m1 36h0m12-14h0m5 14h0m1-9h0m1-21h0m1 31h0m0-24h0m1-2h0m0 20h0m1-6h0m1-8h0m1-14h0m4 25h0m0-20h0m1 2h0m0 0h0m1 24h0m0-10h0m1-13h0m3 7h0m1-2h0m1 8h0m0-8h0m0-18h0m1 34h0m1-26h0m0 23h0m3-5h0m1-26h0m2 16h0m2-5h0m0 26h0m3-11h0m0-12h0m0-13h0m1 12h0m0 0h0m0 0h0m0 16h0m4 0h0m1-11h0m0 9h0m0-11h0m2-16h0m0 16h0m4 10h0m2 8h0m0-34h0m1 7h0m4-6h0m0 23h0m1 8h0m0-15h0m8 8h0m2 3h0m0 2h0m1-17h0m4 8h0m4-10h0m0 10h0m0-21h0m2 38h0m2-37h0m0 4h0m1 15h0m2 0h0m1 7h0m0 1h0m0-12h0m1-12h0m3 30h0m6-13h0m1-18h0m1 20h0m4-6h0m0 18h0m1-6h0m0-8h0m1 3h0m0-16h0m1 6h0m1 20h0m1-12h0m1 5h0m0 9h0m1-27h0m0 0h0m0 17h0m1-22h0m3 30h0m0 3h0m2-8h0m1-27h0m0 18h0m0 9h0m0-8h0m1-18h0m1 9h0m2-3h0m1 21h0m1-30h0m3 27h0m6-17h0m2 12h0m1-16h0m0 10h0m1 22h0m4 1h0m2-17h0m2 11h0m5-15h0m1 3h0m3 9h0m6 1h0m4-8h0m1-16h0m2 16h0m3-18h0m1 10h0m1 0h0m12-4h0m0-4h0m1 3h0m5 28h0m10-18h0m4-12h0m1 3h0m2 20h0m9-23h0m4-2h0m2 20h0m10 0h0m0-22h0m5 0h0m1 20h0m-253 24h0m3-1h0m8-3h0m4 9h0m3 2h0m1 1h0m4-1h0m5-12h0m0 2h0m0 0h0m2-3h0m1 15h0m4-15h0m0-2h0m2 6h0m1 4h0m8 13h0m4-13h0m5-1h0m2 7h0m1 6h0m0-12h0m2 14h0m4-11h0m4 4h0m0-3h0m1 0h0m3-3h0m2 4h0m1-11h0m0 2h0m0 7h0m4-11h0m1 11h0m4 6h0m0-10h0m3-7h0m1 19h0m2 2h0m2-22h0m0 8h0m1 8h0m3-12h0m2 21h0m2 0h0m1-20h0m1 1h0m0 2h0m1 13h0m0-6h0m1 8h0m1-13h0m5 3h0m3 3h0m1-1h0m1 0h0m1 9h0m1-20h0m6 18h0m0-13h0m0-7h0m1 22h0m1-2h0m0-1h0m5-22h0m2 5h0m0 19h0m2-19h0m0 0h0m3 16h0m1-16h0m0 7h0m1 5h0m4 0h0m2 6h0m11-10h0m25-8h0" stroke="#a9a9a9" stroke-opacity="0.45" stroke-width="8.8" stroke-linecap="round" fill="none"/>
<path d="M647 188h0m28 82h0m7 7h0m-33 21h0m-4 51h0m38 4h0m2 4h0m2-4h0m4 1h0m-60 8h0m5 31h0m24-2h0m4-13h0m6 14h0m2-1h0m1 5h0m5-1h0m0-14h0m3-3h0m7-6h0m-146 46h0m4-18h0m3 19h0m9 2h0m21-5h0m8 19h0m14-6h0m7-20h0m15 1h0m6-7h0m9 11h0m3 25h0m12-34h0m2 6h0m12 26h0m0 2h0m4-23h0m2 9h0m1-2h0m0 5h0m0-3h0m2-6h0m2-13h0m1 28h0m1-16h0m2-1h0m0 20h0m0-36h0m5 21h0m1-13h0m1 5h0m1-7h0m1 3h0m-142 46h0m76 9h0m3 8h0m7-22h0m1-11h0m4 12h0m10 7h0m12 7h0m0 4h0m7-2h0m0-17h0m4 6h0m0-7h0m1 19h0m2-28h0m1 32h0m3-25h0m0-8h0m1 24h0m0-5h0m3 11h0m2-24h0m1 5h0m1-4h0m2 2h0m2 11h0m1-6h0m-78 49h0m6 13h0m0-2h0m0-25h0m2-8h0m10 3h0m9 5h0m2 5h0m2 25h0m1-28h0m3 16h0m1-5h0m6-16h0m5 9h0m2 10h0m2 13h0m1-22h0m3-14h0m0 31h0m4-10h0m1-20h0m2 28h0m0-16h0m3-2h0m1-13h0m0 14h0m1 16h0m2 7h0m3-32h0m0 32h0m1-34h0m0 24h0m2-26h0m1 4h0m1 18h0m-280 54h0m210-11h0m31-26h0m10 13h0m2-12h0m3 30h0m10-27h0m1 2h0m3-2h0m1 11h0m1-11h0m1 22h0m2-21h0m0 33h0m1-9h0m1 0h0m2-14h0m0-15h0m1 16h0m0 23h0m0-24h0m1 0h0m-200 54h0m52-12h0m31 19h0m9-28h0m42 16h0m27-9h0m8 0h0m5-5h0m2 11h0m0-12h0m3 8h0m2 9h0m2-14h0m4 27h0m1-3h0m1-26h0m0-10h0m6 13h0m0 3h0m0 4h0m0-20h0m2 39h0m1-16h0m1 1h0m1-6h0m0-14h0m-48 39h0m27-3h0m14 0h0m5 1h0" stroke="#0a9af5" stroke-opacity="0.47" stroke-width="8.8" stroke-linecap="round" fill="none"/>
<path d="M622 323h0m4 35h0m19-2h0m24-26h0m1 22h0m10-16h0m3 17h0m3 0h0m-267 46h0m167-13h0m72-23h0m9 33h0m1-27h0m1-9h0m3 39h0m1-20h0m9-5h0m5 5h0m0 18h0m1-26h0m0 14h0m2-20h0m1 10h0m2 13h0m-136 47h0m16 2h0m28-13h0m30-9h0m3-4h0m14-11h0m3 30h0m5 7h0m5-8h0m3-1h0m0 11h0m1-21h0m4 10h0m2 6h0m1-30h0m1 26h0m2-29h0m2 18h0m0-14h0m0 31h0m3-29h0m1-3h0m1 15h0m3-18h0m0 4h0m1 21h0m0 8h0m1-10h0m0-20h0m3 14h0m1 8h0m-97 38h0m6-21h0m25-3h0m23 11h0m10 23h0m4-7h0m1-1h0m0 0h0m3-8h0m0 4h0m3-13h0m3 27h0m3-8h0m1-10h0m3 3h0m1 2h0m0-9h0m1 13h0m3 10h0m0-21h0m3-9h0m1-1h0m1 33h0m3-23h0m0-16h0m0 28h0m1-2h0m-126 21h0m9 30h0m15-27h0m25 14h0m9-23h0m8 20h0m5-1h0m6-9h0m1-10h0m7 36h0m4-37h0m0 35h0m7-32h0m1 10h0m2 2h0m0 2h0m0-17h0m7 14h0m0-5h0m1 8h0m1-12h0m2 18h0m1-11h0m0 22h0m3-10h0m1 4h0m0-14h0m1-14h0m1 13h0m5 16h0m1 7h0m0-10h0m0 13h0m2-23h0m0 9h0m1-24h0m-179 39h0m113 5h0m25 6h0m10 25h0m2-26h0m1 23h0m10 0h0m1-20h0m1 24h0m1-33h0m1 32h0m2-25h0m0-8h0m1 33h0m2-17h0m1 17h0m0-3h0m2-14h0m3 16h0m0-7h0m2 6h0m-137 27h0m6-19h0m60 12h0m15-6h0m13 22h0m1-12h0m5-9h0m7-1h0m4 14h0m1 8h0m3-18h0m1 0h0m0 14h0m2 12h0m5-33h0m1 8h0m1 24h0m0-33h0m0 9h0m3 11h0m4 12h0m1-4h0m3-15h0m-62 24h0m31-1h0m25 0h0m3 1h0" stroke="#0a9af5" stroke-opacity="0.47" stroke-width="8.8" stroke-linecap="round" fill="none"/>
<path d="M572 314h0m4-26h0m48 29h0m5-26h0m37 28h0m10-10h0m12-8h0m3 5h0m-144 39h0m135-19h0m1 24h0m5-10h0m-59 30h0m10 29h0m13-2h0m11-2h0m6-10h0m5-21h0m2 28h0m1-14h0m3-15h0m0 28h0m9-3h0m1 2h0m1-13h0m2 16h0m-239 27h0m26-19h0m99 6h0m1 8h0m12-8h0m38 0h0m1 30h0m4-26h0m1 25h0m18-13h0m6 14h0m3-31h0m6 3h0m0 27h0m2-12h0m5 10h0m0-12h0m3 8h0m0-11h0m0 8h0m3-9h0m0 8h0m1 3h0m0-18h0m3 6h0m4 9h0m2-21h0m0 24h0m-150 24h0m52 21h0m22-20h0m14 24h0m29-30h0m1 14h0m0-3h0m1 19h0m2-25h0m0 25h0m3-5h0m0 0h0m5-32h0m2 26h0m3 12h0m0-15h0m6 10h0m4-22h0m1 20h0m1-30h0m1 27h0m1-1h0m0-9h0m-95 23h0m12 34h0m15-25h0m5-3h0m1 25h0m19-31h0m7 24h0m22 12h0m2-27h0m1 28h0m1-21h0m0 17h0m4-5h0m2 2h0m0-29h0m1 22h0m2 12h0m1-29h0m2 31h0m0-25h0m0 20h0m-188 26h0m77-18h0m48 18h0m8 3h0m6 3h0m4-13h0m15 0h0m6-9h0m1 10h0m1 13h0m1 10h0m1-16h0m13-9h0m0 5h0m0 19h0m2-7h0m0-10h0m2-3h0m0-5h0m1 21h0m0-26h0m0-3h0m-230 53h0m123 7h0m18-2h0m7-6h0m9-11h0m14 31h0m19-32h0m5 33h0m1 1h0m0-28h0m2-1h0m4 29h0m9 0h0m0-14h0m2-8h0m2 2h0m1 6h0m0-17h0m7 9h0m1-15h0m5 1h0m3 15h0m0 7h0m1 11h0m0 1h0m-59 6h0m21 1h0m24-1h0" stroke="#0a9af5" stroke-opacity="0.47" stroke-width="8.8" stroke-linecap="round" fill="none"/>
<path d="M642 120h0m49 159h0m-26 19h0m24 5h0m2-22h0m-50 56h0m26 12h0m3-13h0m11 23h0m10-5h0m1-24h0m-90 48h0m20-14h0m12 9h0m2 24h0m2-24h0m24 22h0m5-16h0m11 7h0m3 10h0m1-35h0m2 32h0m3-15h0m1-8h0m3 13h0m-69 36h0m26-8h0m22 26h0m0-23h0m2 4h0m0-5h0m11 23h0m0-3h0m1 1h0m2-25h0m1 2h0m0-7h0m3 6h0m0 29h0m-125 33h0m26 0h0m20-6h0m10 11h0m5-31h0m20 3h0m10-1h0m11 10h0m0 15h0m1-24h0m1-1h0m1-2h0m7-1h0m1 2h0m0 15h0m0 4h0m2-12h0m0 24h0m0-23h0m2-14h0m2 4h0m1-2h0m0 18h0m1-9h0m1 21h0m1-2h0m2-27h0m0 16h0m1-9h0m1 16h0m-138 23h0m44 1h0m13-8h0m17 11h0m1 20h0m13-15h0m2 6h0m4 2h0m14-26h0m1 2h0m1 36h0m1-39h0m1 13h0m10 7h0m0 8h0m0 3h0m1-19h0m1 7h0m1 4h0m1-15h0m2 0h0m4 20h0m2-11h0m0-8h0m2 10h0m2-4h0m-135 64h0m66-4h0m6-14h0m13 5h0m2 1h0m7-4h0m6-10h0m1 23h0m1-1h0m5-5h0m0-9h0m8-16h0m0 3h0m0 29h0m3-4h0m1-14h0m0 1h0m1-13h0m2 1h0m3 23h0m0-12h0m3 6h0m0 7h0m2-24h0m0 31h0m2-14h0m1-21h0m2-4h0m0 5h0m-225 35h0m50 27h0m16-16h0m66 4h0m19 3h0m12 6h0m12-24h0m1 28h0m0-8h0m12-9h0m2-11h0m0 31h0m4-13h0m3-6h0m2 24h0m7-2h0m3-21h0m1-6h0m8 25h0m1 0h0m0-30h0m1 36h0m1-4h0m2-33h0m1 34h0m1-23h0m0-8h0m-72 38h0m23-2h0m40 3h0m1-2h0m4 2h0m0 0h0" stroke="#0a9af5" stroke-opacity="0.47" stroke-width="8.8" stroke-linecap="round" fill="none"/>
<path d="M627 303h0m9 16h0m16-11h0m26-13h0m4 14h0m4-3h0m3-18h0m-18 70h0m13-36h0m4 25h0m1-9h0m0 19h0m2-12h0m-132 49h0m29-5h0m22-7h0m37-1h0m9 5h0m8 3h0m2 10h0m10-1h0m0-6h0m2-26h0m6 20h0m1 0h0m4-21h0m1 7h0m2 14h0m-154 52h0m47 1h0m2-2h0m30-34h0m16 33h0m8 2h0m4-28h0m2 23h0m2-7h0m2-1h0m3-6h0m4 10h0m1 0h0m10 2h0m2-8h0m2-4h0m4 15h0m1-30h0m2 28h0m2-13h0m0-2h0m5-14h0m4 8h0m1 22h0m0-11h0m-249 53h0m181-7h0m20-1h0m14 12h0m1-36h0m4 16h0m7-18h0m5 14h0m3 22h0m2-37h0m4 26h0m0 12h0m0-24h0m1 1h0m1 22h0m0-34h0m3 24h0m1-24h0m0 25h0m2 11h0m0-11h0m-126 24h0m19 3h0m20 11h0m9-13h0m3 20h0m17-20h0m3-3h0m14 21h0m6-1h0m7-30h0m0 14h0m2-7h0m6-5h0m1 7h0m4 12h0m1 4h0m2-12h0m0-2h0m2 16h0m2-23h0m0 30h0m1-19h0m1 20h0m1-19h0m0 23h0m1-10h0m1-25h0m0 27h0m1-17h0m1-10h0m-198 65h0m61-2h0m54-12h0m7-12h0m2 12h0m5 7h0m23-22h0m12 32h0m8 3h0m1-28h0m1 0h0m0 26h0m7-2h0m5 1h0m1-32h0m2 15h0m3 5h0m0-14h0m0 13h0m1-1h0m0 21h0m1-36h0m0 29h0m0-23h0m1 18h0m4-5h0m1-19h0m-189 50h0m6-8h0m44 25h0m5 9h0m57-20h0m5-15h0m11 30h0m3-1h0m1-32h0m5 17h0m17-7h0m2 7h0m1 17h0m1 3h0m1-21h0m1-8h0m9 13h0m1 15h0m0-21h0m3 17h0m1-14h0m1 9h0m2 0h0m0 8h0m1-14h0m0-15h0m0 1h0m2 20h0m1-24h0m4 12h0m-62 27h0m57-3h0" stroke="#0a9af5" stroke-opacity="0.47" stroke-width="8.8" stroke-linecap="round" fill="none"/>
<path d="M605 305h0m70-19h0m1 18h0m-227 26h0m176-2h0m56 31h0m8-23h0m3 18h0m-214 40h0m123-24h0m34 21h0m13 8h0m26-16h0m14 3h0m1-10h0m0 11h0m1 6h0m1-17h0m-174 39h0m89 18h0m2-17h0m5-14h0m0 12h0m15 15h0m2-20h0m0 27h0m24-14h0m3-6h0m4 22h0m2-17h0m0-3h0m1 14h0m3-12h0m5-20h0m2 30h0m2-17h0m2 23h0m5-9h0m3-25h0m1 28h0m0-6h0m0-15h0m1 3h0m1 9h0m2 11h0m-151 41h0m41-15h0m8-7h0m26 5h0m1-1h0m1 14h0m30 6h0m7-21h0m7 9h0m4-8h0m11 13h0m1-27h0m2 8h0m1 17h0m1-15h0m1 25h0m1-8h0m1-8h0m5 15h0m0-13h0m0 6h0m2 4h0m1-22h0m-265 36h0m199-5h0m23 21h0m3 10h0m3 6h0m9-37h0m5 28h0m1-10h0m3 8h0m2-4h0m2 8h0m1-4h0m1 2h0m1 0h0m2-20h0m3-4h0m0 31h0m2-26h0m1 8h0m2-17h0m2 11h0m-162 60h0m61-12h0m17 16h0m16 3h0m0-25h0m8 7h0m19-1h0m1 2h0m5 4h0m4-21h0m0 0h0m0-5h0m3 30h0m5-30h0m2 8h0m2 20h0m2-9h0m1 5h0m2-4h0m0-14h0m0 29h0m3-29h0m2-1h0m1 14h0m1 1h0m0 11h0m1 1h0m3-29h0m1 25h0m0-24h0m1 13h0m0 2h0m-94 24h0m9 6h0m4-9h0m17 32h0m8-15h0m12-14h0m1 9h0m0 16h0m8-21h0m2 24h0m3-30h0m5 34h0m5-25h0m2 6h0m3-1h0m0 22h0m1 1h0m1-5h0m4-32h0m0 7h0m2-3h0m4 11h0m2-4h0m1 18h0m2-30h0m-82 40h0m42 2h0m3 1h0m4-1h0m29 0h0" stroke="#0a9af5" stroke-opacity="0.47" stroke-width="8.8" stroke-linecap="round" fill="none"/>
<path d="M888 273h0m-88 20h0m4-4h0m19-3h0m-38 67h0m1 3h0m1-13h0m1 9h0m5-11h0m1-2h0m1-11h0m4 14h0m1 14h0m18-32h0m8 31h0m0-21h0m0 18h0m17-7h0m53 13h0m56-10h0m-167 31h0m0 5h0m1-21h0m0 7h0m0-3h0m1 5h0m0 0h0m1-4h0m0 1h0m2-9h0m1 33h0m1 4h0m3-35h0m6 14h0m16 16h0m13-31h0m14 36h0m38-19h0m21 5h0m-118 18h0m4-1h0m2 18h0m4 17h0m1-13h0m3 11h0m0-14h0m0-7h0m1 12h0m2-16h0m6 9h0m1-12h0m19 22h0m28-27h0m29 8h0m-100 67h0m1-5h0m3 2h0m0-25h0m0 9h0m1 5h0m5-6h0m3 3h0m1 19h0m1-29h0m2-3h0m4 32h0m1-11h0m2 6h0m3-6h0m2 10h0m4-24h0m4-2h0m7 6h0m3 15h0m4-17h0m12 0h0m3 5h0m-64 41h0m1-14h0m3 33h0m4-27h0m3 16h0m1-20h0m7 0h0m5 5h0m1 13h0m0 11h0m7-10h0m11-20h0m16 23h0m6-19h0m40-11h0m-107 76h0m2-5h0m2-6h0m3-12h0m1-12h0m3 24h0m2-22h0m1 2h0m1 2h0m1 25h0m1-31h0m1 4h0m1 33h0m4-26h0m7 1h0m3 15h0m0 9h0m2-25h0m-36 55h0m1-27h0m1 6h0m4 17h0m0-2h0m1-19h0m0 17h0m5 13h0m0-4h0m2 4h0m1 0h0m0-6h0m4 13h0m2-6h0m1-32h0m1 23h0m4-14h0m0-2h0m2 14h0m0 16h0m2-35h0m3 33h0m2-35h0m1 2h0m26 5h0m8 3h0m-59 30h0" stroke="#ff2424" stroke-opacity="0.45" stroke-width="8.8" stroke-linecap="round" fill="none"/>
<path d="M791 291h0m3 24h0m29-9h0m-36 35h0m3 17h0m11-1h0m4-24h0m4-7h0m5-3h0m13 18h0m-41 40h0m1 10h0m1-15h0m0 2h0m1 11h0m1 8h0m1-16h0m0-12h0m1 11h0m4-13h0m1 19h0m1 5h0m1-4h0m0-26h0m0 23h0m4-8h0m1 17h0m10-11h0m0 0h0m10-15h0m0 32h0m0-8h0m18-4h0m3 1h0m11-8h0m6 16h0m2-35h0m4 25h0m4 1h0m-88 24h0m5 14h0m2-12h0m2 1h0m3 16h0m0-27h0m0 19h0m4 17h0m1-14h0m3 12h0m4-33h0m1 28h0m7-31h0m10-1h0m10 30h0m12 4h0m-64 17h0m1-2h0m2 9h0m1 0h0m4 10h0m4 9h0m7-12h0m11 12h0m7-6h0m22-17h0m9 14h0m15-22h0m55 31h0m-136 12h0m1-8h0m0 6h0m0 28h0m0 4h0m2-37h0m0 22h0m3-10h0m5-4h0m2 13h0m4-18h0m3 10h0m9 15h0m5-4h0m75-16h0m-111 44h0m1 4h0m0 14h0m2 6h0m0-27h0m0-9h0m4 21h0m2 11h0m1 1h0m2-22h0m1-6h0m3-3h0m1-2h0m2 10h0m3-3h0m3 6h0m1 8h0m14-1h0m0-22h0m1 34h0m27-11h0m20-11h0m-86 55h0m0-24h0m1 12h0m0 16h0m1 8h0m2-18h0m1-10h0m2-1h0m0 25h0m12 3h0m4-30h0m1-1h0m1 12h0m10 6h0m8-24h0m33 38h0m53-6h0m-129 8h0" stroke="#ff2424" stroke-opacity="0.45" stroke-width="8.8" stroke-linecap="round" fill="none"/>
<path d="M798 265h0m-14 49h0m7 45h0m18-13h0m53 2h0m37-10h0m-114 41h0m1 20h0m1-4h0m3-9h0m5-5h0m3 7h0m0 11h0m21-20h0m0-2h0m14 13h0m10-15h0m3 4h0m19-9h0m10 15h0m-89 38h0m0-23h0m1 28h0m1-1h0m0 10h0m1-3h0m1 2h0m3 3h0m4-7h0m7-11h0m1 16h0m11-23h0m1-7h0m1-3h0m6-1h0m7 31h0m7-32h0m22 17h0m25-5h0m20-13h0m-119 71h0m0-23h0m0 28h0m0-1h0m1-9h0m1-25h0m0 17h0m3 8h0m10-20h0m1 16h0m2-7h0m13 14h0m0 7h0m10 2h0m4-8h0m2-30h0m3 3h0m19 9h0m4-1h0m34 21h0m-108 15h0m0 12h0m1 18h0m1-19h0m0-4h0m2 7h0m0 7h0m0-16h0m2 18h0m0-30h0m2 13h0m2 2h0m10 21h0m22-19h0m17 8h0m-59 31h0m5-16h0m2 36h0m1 0h0m2-3h0m3-18h0m6 8h0m6 15h0m0-5h0m1-7h0m1-13h0m6-12h0m5 37h0m6-15h0m7 7h0m7 1h0m6 6h0m23-14h0m2-24h0m12 11h0m7 20h0m26 5h0m24-32h0m-158 52h0m2 21h0m1-19h0m0-4h0m1 16h0m1-20h0m1 10h0m1-18h0m3 25h0m2-20h0m1 2h0m1 5h0m0 17h0m2-14h0m1 5h0m4-13h0m0 7h0m8 19h0m9-22h0m11 23h0" stroke="#ff2424" stroke-opacity="0.45" stroke-width="8.8" stroke-linecap="round" fill="none"/>
<path d="M787 254h0m11 35h0m14 0h0m15 6h0m54 7h0m-95 49h0m0-21h0m0-7h0m3 16h0m1-8h0m2 15h0m7 10h0m1-24h0m7 1h0m0-11h0m1 28h0m6 4h0m94-1h0m-124 14h0m1 14h0m0-8h0m1 18h0m0 1h0m2-12h0m0 17h0m10-8h0m1-11h0m2-7h0m0 26h0m3-7h0m1 8h0m8-5h0m2-24h0m25 22h0m10-17h0m2 8h0m13 7h0m19 7h0m-99 20h0m0 2h0m0 4h0m11-8h0m1 2h0m0 2h0m2-9h0m0 9h0m2 11h0m1-17h0m1 5h0m1 9h0m5-4h0m0 10h0m4-13h0m3-1h0m10 19h0m18-15h0m28 6h0m47-20h0m7 30h0m-141 18h0m2-16h0m2 24h0m6-21h0m3 1h0m3 14h0m7-11h0m1 11h0m6 5h0m2 4h0m20-1h0m-50 53h0m0-30h0m0 4h0m1 26h0m0-6h0m1-14h0m1 20h0m1-33h0m0 0h0m1 16h0m1 17h0m0-24h0m1 20h0m1 3h0m2-20h0m1 4h0m2 6h0m1-18h0m1 25h0m1-22h0m0 10h0m22 8h0m12-30h0m3 33h0m22-5h0m5-16h0m14-5h0m68 14h0m-164 39h0m1-18h0m1 29h0m1-23h0m1-3h0m1 32h0m0-13h0m2-17h0m0 1h0m1 16h0m0-23h0m1 9h0m3 7h0m2 7h0m1-12h0m12-4h0m6 29h0m8-20h0m15 15h0m10-23h0m21 27h0m3-6h0m-90 26h0m1 1h0m1-13h0m1 11h0m0-11h0m0 3h0m3 15h0m3 11h0m3-27h0m2-5h0m3 23h0m3 5h0m4-16h0m14 24h0m1-30h0m2 26h0m9-33h0m-46 39h0m25 0h0m0 1h0" stroke="#ff2424" stroke-opacity="0.45" stroke-width="8.8" stroke-linecap="round" fill="none"/>
<path d="M872 232h0m-86 84h0m1 1h0m0-35h0m1 27h0m1 8h0m4-7h0m1-12h0m3 19h0m2-8h0m6-2h0m26-5h0m55-6h0m-101 34h0m5 29h0m19-33h0m3-6h0m9 24h0m22 0h0m26 4h0m2 2h0m21-23h0m-107 68h0m3-24h0m4 16h0m0-13h0m2 22h0m4-7h0m1-3h0m2 13h0m2-14h0m18-24h0m77 21h0m-114 28h0m3-6h0m2 17h0m0-20h0m0 4h0m2 13h0m4 14h0m2 1h0m7-5h0m2-7h0m3 13h0m1-20h0m1 22h0m0-13h0m7 7h0m2 2h0m4 5h0m14-34h0m49 6h0m-102 31h0m1 3h0m0 15h0m1 19h0m2-10h0m1 3h0m0-28h0m5 22h0m2 14h0m1-18h0m1 15h0m0-24h0m1 11h0m8-13h0m3-1h0m0-4h0m4-1h0m8 20h0m1-22h0m3-1h0m15 21h0m16 15h0m-73 38h0m2 1h0m0-24h0m1-3h0m0 20h0m7-14h0m2 24h0m1-27h0m1 2h0m1 26h0m1-11h0m4 2h0m2 1h0m3-2h0m6-4h0m6-20h0m4 10h0m107 18h0m-147 8h0m1 25h0m4 4h0m0-3h0m4 2h0m3-1h0m6 11h0m0-7h0m2-27h0m2 10h0m1-1h0m2 1h0m10 15h0m4-27h0m9 3h0m11 4h0m64-10h0m10 30h0m-134 15h0m0 19h0m0-10h0m1 2h0m1-6h0m0 11h0m2 2h0m0-6h0m1 19h0m10-14h0m4 5h0m0-22h0m5 3h0m1 16h0m2 8h0m1-31h0m5 32h0m3-4h0m1 0h0m22-11h0m102 15h0m-161 10h0m35-2h0m32 0h0" stroke="#ff2424" stroke-opacity="0.45" stroke-width="8.8" stroke-linecap="round" fill="none"/>
<path d="M790 293h0m5 15h0m1 5h0m29-21h0m27-2h0m-67 59h0m3-13h0m1-1h0m8-1h0m2 17h0m12 8h0m6-31h0m3 17h0m2-20h0m0 4h0m-37 58h0m0-26h0m5 34h0m1-23h0m3-11h0m1 8h0m1 0h0m2 17h0m0-6h0m1-2h0m1 3h0m0 7h0m5 6h0m1-21h0m1 5h0m3-17h0m55 22h0m0 14h0m-81 28h0m1 12h0m1-9h0m1 7h0m1-33h0m0 29h0m1-4h0m6-7h0m0 2h0m12 15h0m1-29h0m5 0h0m2 2h0m5 24h0m7-27h0m0 8h0m0-11h0m13 31h0m88-13h0m-143 20h0m1 11h0m0 10h0m1 12h0m2-26h0m1 2h0m2 28h0m5-22h0m2-16h0m0 7h0m2 3h0m3-8h0m13 3h0m67 2h0m41 18h0m-141 19h0m2 13h0m1-8h0m3 14h0m6 7h0m0-25h0m1 3h0m2 23h0m0 4h0m1 1h0m22-6h0m19-21h0m11 19h0m39-23h0m-106 37h0m0 8h0m1 27h0m0-9h0m1 1h0m1 0h0m1-3h0m0-16h0m1 17h0m0-3h0m1-13h0m0 12h0m0-11h0m1 1h0m3 0h0m0 21h0m3-32h0m3 2h0m7 34h0m1-12h0m7 7h0m6-26h0m6-7h0m22 2h0m1 26h0m67-8h0m-131 32h0m1 26h0m0-35h0m1 18h0m1 17h0m6-23h0m1 8h0m12-11h0m5 16h0m4 3h0m20-12h0m21 19h0m1-14h0m29-4h0m-93 21h0m15-2h0m4 0h0" stroke="#ff2424" stroke-opacity="0.45" stroke-width="8.8" stroke-linecap="round" fill="none"/>
<path d="M738.4 636.6 L740.0 587.8 L741.1 482.6 L743.0 430.1 L745.7 407.5 L731.1 407.5 L733.8 430.1 L735.7 482.6 L736.8 587.8Z" fill="#fff"/>
<rect x="393.5" y="88.5" width="572.8" height="695.5" fill="none" stroke="#333" stroke-width="1.6"/>
<line x1="396.4" y1="784" x2="396.4" y2="790" stroke="#333" stroke-width="1.6"/>
<line x1="510.4" y1="784" x2="510.4" y2="790" stroke="#333" stroke-width="1.6"/>
<line x1="624.4" y1="784" x2="624.4" y2="790" stroke="#333" stroke-width="1.6"/>
<line x1="738.4" y1="784" x2="738.4" y2="790" stroke="#333" stroke-width="1.6"/>
<line x1="852.4" y1="784" x2="852.4" y2="790" stroke="#333" stroke-width="1.6"/>
<line x1="966.4" y1="784" x2="966.4" y2="790" stroke="#333" stroke-width="1.6"/>
<line x1="387.5" y1="753.0" x2="393.5" y2="753.0" stroke="#333" stroke-width="1.6"/>
<line x1="387.5" y1="602.8" x2="393.5" y2="602.8" stroke="#333" stroke-width="1.6"/>
<line x1="387.5" y1="452.6" x2="393.5" y2="452.6" stroke="#333" stroke-width="1.6"/>
<line x1="387.5" y1="302.4" x2="393.5" y2="302.4" stroke="#333" stroke-width="1.6"/>
<line x1="387.5" y1="152.2" x2="393.5" y2="152.2" stroke="#333" stroke-width="1.6"/>
<text x="671" y="68.5" font-size="51" text-anchor="middle" >LN229</text>
<text x="387.4" y="835" font-size="51" text-anchor="middle" >-7.5</text>
<text x="505.4" y="835" font-size="51" text-anchor="middle" >-5</text>
<text x="618.9" y="835" font-size="51" text-anchor="middle" >-2.5</text>
<text x="735.9" y="835" font-size="51" text-anchor="middle" >0</text>
<text x="852.4" y="835" font-size="51" text-anchor="middle" >2.5</text>
<text x="965.4" y="835" font-size="51" text-anchor="middle" >5</text>
<text x="384.5" y="767.5" font-size="51" text-anchor="end" >0</text>
<text x="384.5" y="617.3" font-size="51" text-anchor="end" >2</text>
<text x="384.5" y="467.1" font-size="51" text-anchor="end" >4</text>
<text x="384.5" y="316.9" font-size="51" text-anchor="end" >6</text>
<text x="384.5" y="166.7" font-size="51" text-anchor="end" >8</text>
<text x="679.5" y="884.5" font-size="51" text-anchor="middle" >log2(fold change)</text>
<text transform="translate(337.5,466.4) rotate(-90)" font-size="51" text-anchor="middle">-log10(p-value)</text>
<rect x="846.8" y="89.9" width="119.5" height="124.6" fill="#fff" stroke="#111" stroke-width="1.8"/>
<circle cx="863.8" cy="109.4" r="8.8" fill="#ff0000"/>
<text x="875.8" y="120.4" font-size="31" text-anchor="start" >Up</text>
<circle cx="863.8" cy="151.6" r="8.8" fill="#0000ff"/>
<text x="879.8" y="162.6" font-size="31" text-anchor="start" >Down</text>
<circle cx="863.8" cy="193.8" r="8.8" fill="#a7afb6"/>
<text x="876.8" y="204.8" font-size="31" text-anchor="start" >Non</text>
<rect x="1146.5" y="87.5" width="573.3" height="696.4" fill="#fff"/>
<line x1="1170.0" y1="87.5" x2="1170.0" y2="783.9" stroke="#f3f3f3" stroke-width="1.2"/>
<line x1="1282.2" y1="87.5" x2="1282.2" y2="783.9" stroke="#f3f3f3" stroke-width="1.2"/>
<line x1="1394.5" y1="87.5" x2="1394.5" y2="783.9" stroke="#f3f3f3" stroke-width="1.2"/>
<line x1="1506.9" y1="87.5" x2="1506.9" y2="783.9" stroke="#f3f3f3" stroke-width="1.2"/>
<line x1="1619.2" y1="87.5" x2="1619.2" y2="783.9" stroke="#f3f3f3" stroke-width="1.2"/>
<line x1="1146.5" y1="669.5" x2="1719.8" y2="669.5" stroke="#f3f3f3" stroke-width="1.2"/>
<line x1="1146.5" y1="503.3" x2="1719.8" y2="503.3" stroke="#f3f3f3" stroke-width="1.2"/>
<line x1="1146.5" y1="337.1" x2="1719.8" y2="337.1" stroke="#f3f3f3" stroke-width="1.2"/>
<line x1="1146.5" y1="170.9" x2="1719.8" y2="170.9" stroke="#f3f3f3" stroke-width="1.2"/>
<line x1="1226.1" y1="87.5" x2="1226.1" y2="783.9" stroke="#ebebeb" stroke-width="2"/>
<line x1="1338.4" y1="87.5" x2="1338.4" y2="783.9" stroke="#ebebeb" stroke-width="2"/>
<line x1="1450.7" y1="87.5" x2="1450.7" y2="783.9" stroke="#ebebeb" stroke-width="2"/>
<line x1="1563.0" y1="87.5" x2="1563.0" y2="783.9" stroke="#ebebeb" stroke-width="2"/>
<line x1="1675.3" y1="87.5" x2="1675.3" y2="783.9" stroke="#ebebeb" stroke-width="2"/>
<line x1="1146.5" y1="752.6" x2="1719.8" y2="752.6" stroke="#ebebeb" stroke-width="2"/>
<line x1="1146.5" y1="586.4" x2="1719.8" y2="586.4" stroke="#ebebeb" stroke-width="2"/>
<line x1="1146.5" y1="420.2" x2="1719.8" y2="420.2" stroke="#ebebeb" stroke-width="2"/>
<line x1="1146.5" y1="254.0" x2="1719.8" y2="254.0" stroke="#ebebeb" stroke-width="2"/>
<path d="M1434.6 434.8 L1432.2 445.6 L1432.2 590.4 L1341.7 590.4 L1340.3 598.7 L1346.7 622.4 L1357.7 647.0 L1371.0 671.5 L1386.5 693.7 L1404.2 714.9 L1419.6 728.8 L1435.0 741.0 L1450.5 750.3 L1461.5 742.1 L1476.5 725.4 L1489.6 697.2 L1499.6 660.3 L1507.4 619.1 L1509.3 590.4 L1469.2 590.4 L1469.2 445.6 L1466.8 434.8 L1462.5 470.4 L1459.2 536.7 L1456.5 603.2 L1453.7 660.4 L1447.7 660.4 L1444.9 603.2 L1442.2 536.7 L1438.9 470.4 L1434.6 434.8Z" fill="#a9a9a9"/>
<path d="M1431 434h0m1 1h0m2-6h0m0 10h0m3-6h0m27 0h0m2-2h0m3 8h0m-41 8h0m0 1h0m1 11h0m0-12h0m1-7h0m0 3h0m1 30h0m0 4h0m1-36h0m0 27h0m2-7h0m1-9h0m2-4h0m1 18h0m1-8h0m0-14h0m0 3h0m0 28h0m1-22h0m0 6h0m0-5h0m1 16h0m1-1h0m1 9h0m0 0h0m0-1h0m18-17h0m0 17h0m1-10h0m0-9h0m1 3h0m0-6h0m0-10h0m0 7h0m0 22h0m1-33h0m1 26h0m0 4h0m1-15h0m0 13h0m0 2h0m0-23h0m1 24h0m1-21h0m1 0h0m1 23h0m0-7h0m1-10h0m0-17h0m0 11h0m1 5h0m1 14h0m0 5h0m-45 10h0m1 29h0m0-24h0m0 18h0m1-6h0m0-22h0m1 36h0m0-5h0m1-19h0m1 10h0m1 13h0m1-5h0m0 0h0m0-14h0m1 18h0m0-31h0m1 29h0m1-4h0m1-8h0m1-15h0m1 15h0m0 6h0m1 0h0m1-7h0m0 14h0m14-8h0m1-12h0m1 5h0m1-13h0m0 6h0m0 18h0m0-25h0m0 15h0m1 14h0m0 0h0m0-14h0m1 13h0m0-7h0m0 2h0m0 5h0m0 5h0m0-24h0m1 17h0m2-10h0m0-17h0m0 32h0m0-9h0m2 12h0m0-10h0m1-25h0m2 17h0m1 14h0m0 2h0m0-6h0m1-11h0m0 1h0m0 4h0m0-6h0m1 4h0m-44 25h0m2 9h0m1 13h0m0-27h0m2-1h0m0 17h0m0-12h0m3-1h0m2 8h0m0-6h0m2 8h0m1-7h0m0 21h0m0-12h0m1 21h0m1-34h0m0 26h0m2-4h0m0 6h0m0-5h0m0 0h0m9 6h0m1-23h0m0 3h0m0 1h0m0-9h0m0 26h0m0-9h0m1-18h0m1 2h0m1 2h0m0-6h0m2 37h0m0-29h0m1 7h0m1 0h0m0-14h0m0 36h0m0-39h0m1 21h0m1 14h0m0-14h0m2 14h0m0 3h0m0 0h0m1-20h0m0-8h0m0 26h0m2-8h0m1-16h0m0 12h0m0 15h0m1-28h0m0 13h0m0 6h0m-135 47h0m3 2h0m2 0h0m1-11h0m1 6h0m8-1h0m5-2h0m3-3h0m1 6h0m4-4h0m5-2h0m0 1h0m4 1h0m0 3h0m5-3h0m1 1h0m3 4h0m0-7h0m6 3h0m10-1h0m2-2h0m1 2h0m0-2h0m2 5h0m7-6h0m2 0h0m0 7h0m6-3h0m1-4h0m8-27h0m1 33h0m0-17h0m1-5h0m0 20h0m2-19h0m1-6h0m0 4h0m2 2h0m0-3h0m1 1h0m0-7h0m1 21h0m2-1h0m1-17h0m1 2h0m1 2h0m1 12h0m0-14h0m1 29h0m1-1h0m0-16h0m1 19h0m1-21h0m1 6h0m0 8h0m0-6h0m0-7h0m0 7h0m0-3h0m7-23h0m0 35h0m1-26h0m0-5h0m0 1h0m1 22h0m0-22h0m1-4h0m2 21h0m1 9h0m4-18h0m1 18h0m2-15h0m0-1h0m0-2h0m1-4h0m0 24h0m0-14h0m0 5h0m1-21h0m0-3h0m1 7h0m1 9h0m0-2h0m6 20h0m0-4h0m1 5h0m3-9h0m2 3h0m0 5h0m7-6h0m0 6h0m3 0h0m1-7h0m0 2h0m4 4h0m1-2h0m8 7h0m4-8h0m-173 18h0m2-1h0m3 6h0m2 4h0m0-4h0m1 6h0m3 11h0m5 3h0m87-2h0m0-25h0m2 0h0m2 2h0m1 24h0m1-2h0m1 8h0m0-20h0m1 18h0m2-5h0m0 3h0m1-32h0m0 24h0m0 5h0m1 6h0m0-1h0m0-21h0m0-15h0m2 25h0m0-23h0m0 0h0m1 23h0m0-7h0m2-15h0m0 23h0m0 2h0m1-21h0m0 25h0m0-20h0m0 12h0m39 12h0m4-2h0m1-3h0m0-26h0m1 13h0m0 12h0m0-8h0m1-3h0m1-10h0m0 6h0m0 9h0m1-21h0m1 30h0m1-9h0m1-6h0m-159 25h0m1 2h0m0 0h0m2-2h0m3-1h0m1 10h0m2 7h0m1 0h0m1-10h0m1 6h0m1 8h0m1 0h0m0 5h0m1-12h0m2 9h0m1 4h0m1-3h0m0 0h0m74-19h0m2 1h0m3 1h0m2-5h0m1-1h0m2-1h0m3-1h0m34 30h0m1 3h0m1 5h0m3-22h0m1-15h0m1 22h0m2-12h0m1 1h0m0 2h0m0 2h0m1 5h0m1-15h0m0 6h0m0-8h0m1-2h0m0 7h0m-128 33h0m2 3h0m1-1h0m2 6h0m1 1h0m1-8h0m1 7h0m1 3h0m0 4h0m3 2h0m2-6h0m0-2h0m2 16h0m2-10h0m0 0h0m0 6h0m1-3h0m1 1h0m0 2h0m2 6h0m0-1h0m3 4h0m1-2h0m0 7h0m1-3h0m0-6h0m1 8h0m6-3h0m5 5h0m63-4h0m2 1h0m3-12h0m0 4h0m3-16h0m1 12h0m1-6h0m0 9h0m2-16h0m2 5h0m0-4h0m2-4h0m0-8h0m-79 44h0m0 1h0m1-2h0m1-2h0m3 4h0m2 1h0m3 2h0m4 10h0m1-1h0m4 7h0m1-1h0m2-3h0m4 6h0m0 1h0m3-3h0m2 7h0m3-4h0m1 2h0m0 6h0m3-5h0m1-3h0m4-3h0m1 1h0m2-7h0m0 4h0m2-2h0m4-4h0m1-9h0m1 0h0m3-2h0m0 9h0m1-8h0m2-1h0m2-3h0m3 0h0m0 1h0m0 1h0m1-3h0" stroke="#a9a9a9" stroke-opacity="1" stroke-width="8.8" stroke-linecap="round" fill="none"/>
<path d="M1437 420h0m29 8h0m-10 20h0m4-7h0m0 23h0m5-19h0m-23 41h0m6 0h0m4 32h0m6-23h0m1-7h0m1-2h0m11 13h0m-30 41h0m-246 47h0m57 0h0m28 12h0m4-10h0m6 4h0m3 2h0m6 1h0m30-9h0m1 2h0m10-1h0m0 3h0m3-4h0m3 1h0m0 7h0m1-2h0m2 1h0m2 3h0m9-8h0m14 7h0m7-6h0m1-2h0m2 1h0m2-2h0m2 8h0m2-4h0m7 0h0m1 2h0m1 3h0m12-1h0m0-2h0m5-6h0m10 11h0m0-10h0m4 8h0m3 0h0m2-5h0m2-5h0m2 12h0m3-4h0m2-2h0m1-6h0m1-1h0m1 13h0m0-16h0m26 17h0m2-2h0m7 0h0m2-10h0m2 7h0m3 4h0m0-9h0m0 7h0m18 3h0m21 0h0m5-3h0m10-6h0m11 7h0m1-6h0m26 4h0m13 2h0m-375 12h0m17 6h0m0-8h0m4 14h0m3 9h0m7-9h0m7-13h0m10 19h0m11-19h0m6-8h0m3 32h0m1-30h0m3 10h0m4-1h0m12 19h0m3-29h0m2 22h0m14-21h0m0 24h0m4 0h0m1 3h0m0-16h0m0 5h0m0 21h0m1-20h0m0 20h0m5-33h0m1-3h0m1 20h0m2-18h0m1-4h0m1 0h0m1 7h0m4 23h0m4-20h0m2 26h0m0-35h0m0 9h0m4 5h0m2-16h0m2 27h0m1-3h0m0 0h0m2-16h0m3 14h0m0 4h0m5 12h0m1-25h0m4 15h0m1-8h0m2-11h0m1 21h0m1-15h0m1 20h0m0-27h0m2 5h0m2 2h0m0 17h0m0 0h0m2-20h0m2-9h0m6 21h0m2-13h0m0 26h0m1-5h0m2-18h0m1 2h0m2 20h0m2-9h0m3-18h0m0 5h0m1-6h0m1 9h0m2 4h0m1-12h0m0 7h0m1 11h0m0-13h0m3 16h0m3-13h0m0 2h0m2 10h0m4-23h0m1 26h0m1-13h0m0 19h0m4-26h0m0 20h0m2-15h0m0 18h0m1-9h0m4 10h0m3-19h0m4 8h0m1-10h0m3 6h0m3 0h0m1-3h0m1-7h0m1 19h0m1-25h0m1 22h0m1 0h0m2-27h0m3 29h0m2 9h0m1-14h0m0-4h0m1-10h0m1 6h0m5-9h0m1 27h0m3-32h0m1-2h0m6 21h0m1 8h0m1-15h0m2 22h0m2-30h0m1 2h0m1 12h0m6 17h0m4-36h0m3 25h0m1-18h0m2 16h0m2 13h0m1-19h0m1-1h0m4-8h0m0 26h0m1-12h0m1-23h0m3 34h0m1-8h0m0 9h0m1 1h0m4-23h0m3-13h0m2 13h0m3 16h0m0-1h0m16-17h0m7-7h0m2 24h0m4-10h0m1-14h0m5 14h0m14-3h0m5-11h0m0 33h0m10-26h0m3 16h0m2 8h0m4 1h0m1-17h0m8 2h0m29 9h0m-388 11h0m0 8h0m5-4h0m22 22h0m4-8h0m14 19h0m6-8h0m8 5h0m10-23h0m0 12h0m3-1h0m5-4h0m6 0h0m1-11h0m1 9h0m7 18h0m0-25h0m3 9h0m1-8h0m2 4h0m2 7h0m2-21h0m2 7h0m0-8h0m1 23h0m1 5h0m1 2h0m1-20h0m1 2h0m0-12h0m0 23h0m1 1h0m2 10h0m0-24h0m1 27h0m0-24h0m2 18h0m1-5h0m0-10h0m4-11h0m1 29h0m0-2h0m2-28h0m0-1h0m4 29h0m1-20h0m0 25h0m0-23h0m2 0h0m0 14h0m1-6h0m2 15h0m1-10h0m2-21h0m0 25h0m3-9h0m0 10h0m4-28h0m2-1h0m1 25h0m1 6h0m1-4h0m2 9h0m2-35h0m1-1h0m0 27h0m2-21h0m1 18h0m3-24h0m0 14h0m1-14h0m1 29h0m0-6h0m0-1h0m5-23h0m1 18h0m3 9h0m0-8h0m0 16h0m2-17h0m1-13h0m2 2h0m1 27h0m7-2h0m4-9h0m2 7h0m1 0h0m3-7h0m0-15h0m3 23h0m2-7h0m5-10h0m4 21h0m3-4h0m1 5h0m0-26h0m2 20h0m1-29h0m2 33h0m0-30h0m2 33h0m3-24h0m0-3h0m2 22h0m4-11h0m1-12h0m5 10h0m3-3h0m0 5h0m1-1h0m2-21h0m4 20h0m1-13h0m6-5h0m2 0h0m5 10h0m1 4h0m1 1h0m2 6h0m2-21h0m1 30h0m5-33h0m1 3h0m1 30h0m0-24h0m1 3h0m1 6h0m3 4h0m5-4h0m6-6h0m0-3h0m4 29h0m6-1h0m19-2h0m0-10h0m3-17h0m0-2h0m19 23h0m1 4h0m4-5h0m15-11h0m-280 25h0m3 1h0m5 15h0m10 1h0m7-2h0m0 10h0m1-27h0m7 17h0m3-11h0m0-1h0m1 27h0m1-10h0m1-16h0m1 25h0m2-28h0m0-3h0m2 13h0m2 18h0m5-23h0m1-3h0m3 14h0m3-3h0m0 10h0m1-24h0m0 33h0m1-27h0m2 3h0m2 5h0m1 6h0m1-22h0m1 8h0m0 24h0m1-8h0m12-23h0m0 0h0m0 11h0m1 4h0m3-13h0m0 29h0m0-29h0m3 7h0m1 14h0m0-1h0m3-12h0m1 12h0m1 6h0m2-7h0m0-7h0m3-10h0m2 21h0m0 4h0m2 4h0m3-34h0m0 11h0m0 15h0m3-10h0m4 5h0m1-16h0m1 31h0m2-1h0m1-35h0m1 36h0m0-33h0m1 14h0m1 10h0m0-10h0m0-4h0m2-1h0m2-3h0m2 19h0m7 9h0m1-9h0m0-6h0m1-5h0m1-5h0m1 27h0m1-15h0m3 5h0m2-13h0m4-9h0m3 3h0m1 14h0m7 1h0m1 4h0m1 2h0m4 0h0m3-15h0m2 21h0m2 2h0m3-15h0m3 8h0m8-30h0m16 16h0m2 11h0m12-14h0m22-13h0m-186 42h0m16 7h0m3-4h0m1 1h0m2 3h0m4-4h0m7-6h0m0 13h0m9 9h0m5-13h0m0 4h0m5 9h0m0-3h0m2 1h0m5-12h0m1 11h0m2-15h0m3-3h0m8 22h0m2-18h0m3 5h0m3 6h0m3-7h0m2-4h0m1 10h0m0-9h0m1 9h0m2-16h0m9 4h0m3-1h0" stroke="#a9a9a9" stroke-opacity="0.45" stroke-width="8.8" stroke-linecap="round" fill="none"/>
<path d="M1443 426h0m9 10h0m-1 14h0m10 25h0m-16 42h0m2-36h0m7 16h0m5-14h0m6 34h0m-30 15h0m5-11h0m7 31h0m-162 47h0m11-12h0m17 2h0m6 0h0m0 1h0m13 5h0m12-4h0m1 1h0m0 1h0m6 6h0m0 0h0m10-4h0m10 4h0m1-2h0m17-1h0m4-4h0m6 5h0m5-5h0m0 3h0m3 0h0m11 1h0m9-7h0m2 10h0m2-15h0m4 9h0m1 1h0m0 0h0m3-21h0m1-6h0m0 25h0m1-5h0m1 6h0m4-4h0m3-25h0m4 29h0m1-1h0m13-6h0m0 0h0m4 6h0m1 7h0m3-3h0m2-9h0m2 0h0m4 1h0m8 3h0m2 2h0m2 1h0m2-4h0m2 6h0m7-3h0m2-2h0m3-1h0m2 4h0m10 2h0m4-9h0m8 11h0m5-11h0m0 7h0m1-1h0m9-5h0m18-1h0m13 10h0m1 2h0m-341 2h0m10 26h0m4-11h0m4 17h0m2-4h0m4-24h0m6 20h0m4-8h0m2 18h0m1-26h0m7 11h0m0 9h0m8-17h0m1 7h0m2 19h0m5-36h0m0 2h0m1 17h0m3-13h0m5 5h0m2-3h0m3-6h0m0 3h0m3 6h0m0-1h0m1 4h0m7 4h0m1-17h0m6-1h0m2 23h0m1 5h0m1-14h0m0 3h0m1-17h0m1 22h0m4 8h0m6-29h0m0 2h0m1-5h0m5 17h0m1 7h0m0 1h0m0-15h0m1 2h0m2 17h0m1 0h0m3 8h0m0-8h0m1-14h0m0-5h0m4 8h0m1 20h0m2-9h0m6-2h0m3-23h0m1 32h0m0-17h0m1-6h0m0 17h0m1-9h0m2-16h0m2 26h0m3-8h0m1-1h0m7-3h0m3 5h0m0 13h0m1-1h0m1-16h0m0 14h0m0-31h0m1 27h0m2 2h0m0-21h0m6 21h0m0-22h0m1 9h0m0-13h0m2 13h0m0-9h0m4 18h0m1-15h0m1-2h0m1 5h0m6 9h0m2-24h0m1 17h0m1-3h0m2 20h0m2-24h0m0 24h0m2 3h0m0-14h0m3-2h0m1-16h0m6-2h0m1 25h0m2-12h0m2 2h0m0 13h0m1-27h0m0 25h0m2-29h0m5 18h0m3 1h0m1-15h0m1 10h0m1-14h0m1 17h0m0-12h0m0-5h0m4 4h0m2-4h0m1 3h0m5 8h0m1-8h0m2 4h0m0 25h0m1-12h0m0 5h0m1-26h0m2 0h0m0 13h0m1-6h0m1 28h0m0-9h0m2-5h0m0-5h0m1 7h0m5-19h0m3 23h0m1-19h0m3 24h0m0-18h0m8 4h0m4 7h0m2 13h0m0-12h0m1 0h0m1-22h0m0 6h0m1 18h0m2-17h0m5-3h0m5 26h0m6-30h0m5 5h0m4 6h0m2 22h0m2-19h0m8-18h0m2 35h0m11-22h0m10-11h0m7-1h0m2 29h0m3 1h0m9-29h0m5 20h0m17-21h0m1 9h0m6 1h0m1-6h0m9 12h0m33 0h0m-378 36h0m1-9h0m8 14h0m13 9h0m1-24h0m3 25h0m3 11h0m7-22h0m0-14h0m2 24h0m1-20h0m4 4h0m2-5h0m6 4h0m4 13h0m0-14h0m2 12h0m2-2h0m0 5h0m2 9h0m2 2h0m2-35h0m1 33h0m1-23h0m5-8h0m2 28h0m3-8h0m0 3h0m2 6h0m0 7h0m1 0h0m1-8h0m2-23h0m2 24h0m0-28h0m3 7h0m3 16h0m2-13h0m1 3h0m4 19h0m0-5h0m2 5h0m7-29h0m2 31h0m0-36h0m1 19h0m5-15h0m1 27h0m0 5h0m1-14h0m1-10h0m0-10h0m3 28h0m0 2h0m2-2h0m4-28h0m2 26h0m0-7h0m2 17h0m1-38h0m2 20h0m0-7h0m3 21h0m0-17h0m0 16h0m1-24h0m0 11h0m3-19h0m1 6h0m0-8h0m3 31h0m5-4h0m1-4h0m2-9h0m2 17h0m2-15h0m1-10h0m0 32h0m0-32h0m1 2h0m1 11h0m2-3h0m0-5h0m7 24h0m2-28h0m4 27h0m0-33h0m0 9h0m7 10h0m0 19h0m1-18h0m2-8h0m2 24h0m0-4h0m0 0h0m2-1h0m3-14h0m1 11h0m3-24h0m3 9h0m2-11h0m3 0h0m0 31h0m0-26h0m2 30h0m0-16h0m3-1h0m2-13h0m1 22h0m1-17h0m0-13h0m2 17h0m2 11h0m1 6h0m2-2h0m3 1h0m3-24h0m2-9h0m4 25h0m1 7h0m0-29h0m3-1h0m4 16h0m3-3h0m7-10h0m0 8h0m5 24h0m2-7h0m7-3h0m5-6h0m7-4h0m22 2h0m2-5h0m7 16h0m4-10h0m-277 23h0m1-1h0m7-2h0m3 18h0m1 0h0m13-3h0m10-8h0m0 14h0m1 2h0m3-19h0m1 12h0m1 16h0m2 1h0m0 1h0m2-31h0m1 1h0m0 9h0m0-8h0m3 29h0m3-30h0m2 4h0m3 14h0m4 2h0m0-7h0m6 1h0m1-6h0m6 7h0m1 10h0m2-22h0m3-2h0m0 17h0m1-8h0m2 3h0m1 11h0m0-24h0m1 4h0m1-3h0m2 19h0m1-12h0m4 26h0m1-30h0m2 16h0m1 7h0m0-1h0m1-24h0m0-4h0m0-1h0m3 26h0m1 8h0m2-6h0m4-21h0m5-6h0m1 19h0m2-5h0m3 23h0m1-14h0m0-12h0m1-6h0m1 25h0m3-17h0m4 8h0m2 14h0m2-1h0m1-24h0m0-12h0m0 34h0m0-12h0m3-8h0m9 6h0m1 1h0m1-2h0m3 6h0m1 0h0m0-8h0m2-17h0m1 25h0m1-14h0m2 23h0m0-29h0m1 9h0m1 22h0m0-23h0m1 19h0m1-30h0m2 24h0m4-19h0m1-4h0m1 8h0m5 19h0m8-26h0m3 35h0m0-39h0m3 24h0m1-4h0m9-12h0m12 17h0m4-21h0m17 11h0m-168 29h0m24 0h0m1 7h0m4 6h0m1-16h0m1 0h0m3 6h0m0-3h0m1 1h0m1-4h0m2 6h0m1 10h0m7-2h0m5 12h0m0-10h0m0-11h0m6 1h0m1 19h0m0-11h0m0-3h0m1 10h0m3 0h0m1-17h0m0 15h0m1 8h0m1-28h0m1 22h0m5 0h0m11-4h0m2 1h0m1-13h0m11 1h0m2 3h0m18-5h0m0-3h0" stroke="#a9a9a9" stroke-opacity="0.45" stroke-width="8.8" stroke-linecap="round" fill="none"/>
<path d="M1432 196h0m12 196h0m19 42h0m-4 30h0m2 2h0m5 9h0m2-17h0m-39 50h0m4 11h0m4-22h0m13 5h0m7 2h0m4-12h0m5 25h0m7-13h0m-16 43h0m8 5h0m-247 43h0m32-1h0m19 4h0m34-5h0m3-3h0m2-2h0m8 9h0m3-3h0m10-1h0m2-6h0m5 6h0m2 6h0m3-1h0m1-9h0m2 6h0m4-4h0m4 6h0m6-5h0m6-2h0m3 4h0m4 3h0m6 2h0m10-12h0m1 5h0m12-3h0m3 6h0m10-5h0m3 3h0m15-4h0m1 10h0m8-7h0m4-18h0m2 11h0m7 0h0m1 0h0m3-2h0m3-10h0m3 12h0m4-2h0m6 7h0m0-2h0m3-1h0m3 5h0m3 0h0m1-5h0m4 8h0m22 3h0m1-6h0m5 2h0m17-3h0m2-1h0m4 3h0m12 0h0m14-4h0m4-1h0m15 3h0m18 5h0m15 1h0m-390 3h0m15 33h0m9-22h0m11 17h0m4-28h0m11 32h0m3-27h0m2-1h0m0 1h0m0 7h0m2 20h0m1-28h0m10 8h0m0 25h0m4-22h0m3 3h0m1-9h0m3-4h0m5 6h0m2-9h0m4 0h0m4 17h0m2-19h0m1 0h0m0 10h0m4 24h0m2-6h0m2 5h0m0-12h0m1 13h0m2-15h0m7 12h0m3-18h0m0 5h0m1 12h0m0-7h0m1 16h0m4-15h0m0 1h0m3 7h0m1-4h0m4 1h0m3-2h0m0-13h0m4-8h0m3 8h0m0 20h0m1-27h0m1 15h0m0 4h0m3 13h0m1-22h0m3 15h0m1-30h0m1 0h0m1 18h0m0-11h0m4 12h0m4 7h0m1-25h0m0 34h0m1-4h0m3-16h0m1-7h0m1-7h0m2 6h0m0-9h0m1 8h0m1 4h0m2 5h0m4-8h0m7 20h0m1-12h0m0-13h0m1 32h0m4 1h0m1-18h0m6-11h0m2 20h0m2 5h0m1 1h0m1 0h0m2-21h0m3 16h0m5-8h0m3 10h0m3-13h0m0-12h0m3 31h0m1-28h0m0 28h0m4-13h0m1-19h0m4 29h0m8-21h0m3-8h0m0 27h0m2-11h0m5-17h0m0 13h0m1-1h0m8 4h0m2-12h0m2 24h0m1-1h0m5-23h0m0 1h0m1 19h0m4-7h0m3 5h0m5-2h0m0 10h0m0-16h0m1 20h0m1-30h0m1 28h0m0-21h0m1-13h0m3 25h0m5 4h0m4-13h0m0 20h0m1-1h0m8-27h0m2 0h0m1-1h0m2 1h0m1 2h0m1-3h0m12 11h0m1 9h0m0 10h0m1-6h0m1-28h0m2 14h0m16-13h0m2 2h0m1 4h0m6 22h0m2-19h0m6-6h0m7-8h0m7 21h0m38-21h0m4 20h0m30-11h0m-402 38h0m22 21h0m1 2h0m3-3h0m2-26h0m6 16h0m1-12h0m3-2h0m25 14h0m4-2h0m0-12h0m1 13h0m0-11h0m2 32h0m0-34h0m1 7h0m3-11h0m1 9h0m6 23h0m6-30h0m0 12h0m1-14h0m0 37h0m4 1h0m0-25h0m2-13h0m2 28h0m0-6h0m4 4h0m3 9h0m1-6h0m0-3h0m7-2h0m2-16h0m1 6h0m3-9h0m0-5h0m2 3h0m1 14h0m1-1h0m2 18h0m3-7h0m2-9h0m1-6h0m0 9h0m1 8h0m0-2h0m2-2h0m2 9h0m2-30h0m2 1h0m1 19h0m0 12h0m1-26h0m2 18h0m1-2h0m2-9h0m0 6h0m1 13h0m1-20h0m1 23h0m1-8h0m3-5h0m0-6h0m2-9h0m4 26h0m0-30h0m1 15h0m1-12h0m1 14h0m1-3h0m1-18h0m3 19h0m1 15h0m0-26h0m2-7h0m1-1h0m2 8h0m3 16h0m1-25h0m1 9h0m5 8h0m1 6h0m2-19h0m2 12h0m1 19h0m1-32h0m0 24h0m1-3h0m1-9h0m0-14h0m1 24h0m2-6h0m1-3h0m0-2h0m0 12h0m2 7h0m1-28h0m1 32h0m0-9h0m0-7h0m3-14h0m3-5h0m1 30h0m8-15h0m8 14h0m1 3h0m3-32h0m1 32h0m5-29h0m3 12h0m0 16h0m1-18h0m3 2h0m1 17h0m2-10h0m1 11h0m1-19h0m1-14h0m0 2h0m3 21h0m2-6h0m12-7h0m0-7h0m1-6h0m0 7h0m1 29h0m3-18h0m5-12h0m10-7h0m7 22h0m4-3h0m3 2h0m2 3h0m8-13h0m2 26h0m3-37h0m10 29h0m1 8h0m5-29h0m-294 32h0m10 0h0m12 5h0m2 5h0m4 1h0m13-7h0m6 7h0m2 2h0m5 6h0m2 3h0m2 10h0m5-20h0m1 1h0m2 19h0m1-27h0m2 11h0m8-13h0m0 1h0m9 11h0m3-3h0m0-7h0m0 5h0m2 9h0m1 10h0m4 7h0m1-7h0m1-14h0m1-13h0m2 10h0m0 0h0m0-10h0m1-1h0m0 27h0m7-7h0m0 18h0m4-24h0m1 19h0m0-15h0m2-3h0m3 15h0m1-17h0m10-12h0m1-1h0m0-1h0m4 17h0m0 19h0m1-32h0m1 9h0m1 23h0m2-1h0m4-27h0m2 7h0m2-11h0m0 13h0m0 11h0m0-25h0m1 16h0m2-15h0m0 33h0m1-17h0m3-13h0m7-3h0m1 8h0m0 21h0m2-26h0m4 24h0m2-13h0m1 8h0m6-15h0m4 7h0m1-8h0m1 15h0m5 13h0m1-37h0m1 8h0m1 20h0m2-13h0m4-13h0m0 13h0m0 2h0m2-12h0m5 1h0m13 5h0m4 2h0m18-11h0m3-1h0m4 1h0m3 16h0m22-15h0m-184 37h0m8 4h0m1-4h0m3 9h0m2-4h0m11 2h0m2 13h0m1-8h0m0 4h0m2-7h0m4-8h0m2 19h0m1-21h0m6 22h0m4 5h0m3-26h0m0 23h0m0-11h0m6 13h0m7 3h0m0-3h0m1 1h0m4-13h0m8 7h0m2-14h0m0-6h0m15 10h0m14-11h0" stroke="#a9a9a9" stroke-opacity="0.45" stroke-width="8.8" stroke-linecap="round" fill="none"/>
<path d="M1464 288h0m-11 111h0m7-32h0m0-3h0m-20 49h0m8-12h0m-10 53h0m10-14h0m2 10h0m4-6h0m6 10h0m2-10h0m9 29h0m-34 35h0m14 1h0m5 10h0m7-19h0m1 1h0m-18 41h0m8-6h0m1-14h0m-247 77h0m10-1h0m4-4h0m7 2h0m4-7h0m17 6h0m22-3h0m22 6h0m2-11h0m2 3h0m7-1h0m6 5h0m10-6h0m0 8h0m11-2h0m16 0h0m1 0h0m10-6h0m1-1h0m2 3h0m6-2h0m9 6h0m7-1h0m1 0h0m15-6h0m0 3h0m19 3h0m20-7h0m7 11h0m4-8h0m4-20h0m3 25h0m1-11h0m5 7h0m4-19h0m5 20h0m3-2h0m10 6h0m2 3h0m5-8h0m5 9h0m8-3h0m8 3h0m14-6h0m0-1h0m17-2h0m6 6h0m3 1h0m4-5h0m10 6h0m78-11h0m3 4h0m8 0h0m15 7h0m-444 27h0m10-19h0m3 10h0m17-7h0m16 22h0m0-29h0m10 28h0m6-26h0m1 10h0m0 5h0m4-6h0m4-7h0m7 22h0m1-9h0m2 6h0m2-12h0m5-11h0m3 14h0m1-12h0m1 0h0m2 15h0m2-13h0m1 19h0m1-14h0m5 0h0m3 18h0m0-6h0m0 16h0m6-18h0m4 10h0m2-22h0m1-4h0m3 0h0m9 21h0m3-6h0m0 1h0m2-19h0m3 12h0m1 8h0m2-15h0m3 7h0m3 11h0m2 14h0m0-39h0m1 26h0m5 5h0m2-5h0m1 13h0m0-15h0m2-1h0m0-16h0m1 23h0m1-22h0m1-2h0m3 31h0m4-20h0m1 13h0m5-19h0m7 1h0m3-5h0m1 3h0m1 10h0m0-6h0m3-6h0m5 21h0m1 5h0m1-19h0m2 13h0m2 7h0m2 4h0m1-24h0m2 17h0m0 2h0m4-4h0m1 8h0m1-20h0m1-14h0m4 9h0m1 15h0m3 0h0m1-26h0m1 31h0m0-16h0m3 18h0m0-14h0m0-19h0m1 11h0m0 0h0m1 19h0m3-31h0m0 36h0m1-33h0m3 34h0m2-35h0m1 4h0m0 23h0m0-1h0m3-25h0m0-1h0m3 10h0m2 18h0m2 1h0m6-24h0m2 7h0m2-13h0m1-1h0m5 33h0m0-31h0m3-2h0m0 7h0m4 5h0m1 6h0m4 3h0m1 5h0m5-17h0m1 1h0m2 28h0m0-18h0m0 4h0m2-12h0m1 21h0m5-22h0m0-1h0m1 20h0m1-4h0m1-17h0m4 14h0m1-6h0m2 8h0m4 8h0m2-11h0m2 10h0m4-4h0m9-5h0m2-15h0m3 28h0m2-19h0m5 1h0m4-17h0m3 19h0m3-18h0m18 18h0m19 17h0m23-37h0m13 29h0m-378 22h0m11 4h0m14-16h0m12 11h0m13 16h0m6-4h0m0-16h0m15 24h0m1-23h0m5-5h0m5 30h0m2 1h0m2-1h0m5-16h0m0 7h0m1 9h0m0-26h0m1 16h0m0-14h0m2-6h0m1-2h0m5 3h0m2 22h0m1-20h0m6 5h0m0 22h0m1-30h0m1 2h0m0 3h0m0-8h0m1 39h0m1-30h0m1 6h0m2 12h0m1-6h0m0 15h0m2 3h0m0-33h0m1 16h0m0-2h0m2 10h0m2-9h0m1 5h0m4-20h0m1 3h0m5 14h0m1-15h0m2 28h0m3-7h0m1-9h0m1 4h0m0-22h0m6 27h0m2-15h0m0 12h0m4-24h0m1 12h0m3-5h0m0 26h0m1-32h0m3 8h0m0 12h0m0 13h0m0-5h0m2-25h0m0-5h0m0 30h0m4-25h0m5 28h0m0-21h0m3-3h0m2 25h0m4-8h0m0-27h0m4 27h0m2 10h0m0-20h0m2 19h0m2-8h0m3-13h0m0 21h0m1-20h0m1 14h0m1 7h0m0-15h0m0 2h0m4-21h0m2 18h0m0-1h0m1 7h0m4 5h0m1-12h0m5 2h0m0 9h0m1 7h0m0-20h0m1 12h0m1-11h0m1-3h0m2-13h0m1 31h0m3-26h0m1 5h0m1-2h0m0 5h0m2 12h0m1 7h0m0-24h0m3 13h0m4 0h0m1-5h0m1-12h0m2 13h0m1 6h0m2-13h0m6 0h0m3 3h0m2-16h0m1 14h0m4-10h0m0 23h0m6-10h0m6-5h0m7 23h0m9-22h0m3 12h0m2-19h0m3 33h0m5-32h0m11 10h0m3 7h0m1 0h0m1 10h0m5-13h0m10-14h0m10 12h0m-267 24h0m6 1h0m11 0h0m1 15h0m3 8h0m0-23h0m1 11h0m2-5h0m5-8h0m2 23h0m1-9h0m1-11h0m2-3h0m1 26h0m0-11h0m7 21h0m3-34h0m2 22h0m1-13h0m3 3h0m1-4h0m3 19h0m2-31h0m2 21h0m4-13h0m3-3h0m0 11h0m0-12h0m2 11h0m1-15h0m0 31h0m3-9h0m0-6h0m1-9h0m0 22h0m0 6h0m3-23h0m3 14h0m1 0h0m5 11h0m2-23h0m0 8h0m2-22h0m2 5h0m0 34h0m1-9h0m2-9h0m1-10h0m4 20h0m0 0h0m5-11h0m1-18h0m0 24h0m6-18h0m2 1h0m0 19h0m2-25h0m1 10h0m1 10h0m3 8h0m1-18h0m2-9h0m0 7h0m2 25h0m1-6h0m0 4h0m1 4h0m2-32h0m5 24h0m1-27h0m1 32h0m1-14h0m1-11h0m5-8h0m18 22h0m0-21h0m4 15h0m0-11h0m1 30h0m4-15h0m0 8h0m1-17h0m1 24h0m0-25h0m8 11h0m4 3h0m0 1h0m1-11h0m3 5h0m0-19h0m4 19h0m1-20h0m1 1h0m1 6h0m4 13h0m9-20h0m2 4h0m19-3h0m-190 38h0m22 3h0m7 14h0m13-15h0m1 10h0m2 3h0m3-9h0m2 2h0m1-6h0m0 5h0m3-7h0m0 18h0m2-5h0m2 14h0m0-25h0m3 24h0m2-23h0m1 27h0m0-11h0m6 4h0m3 5h0m0-26h0m4 17h0m4 2h0m1-2h0m1-19h0m1 14h0m1-2h0m1 9h0m11-14h0m2-4h0m5 0h0m0 9h0m7-12h0" stroke="#a9a9a9" stroke-opacity="0.45" stroke-width="8.8" stroke-linecap="round" fill="none"/>
<path d="M1458 189h0m3 124h0m-25 29h0m18-19h0m-15 49h0m18 5h0m-9 62h0m18-28h0m-18 43h0m9 6h0m0-18h0m2 22h0m-21 52h0m1-27h0m11-1h0m12 17h0m-25 27h0m1 2h0m1 11h0m2-21h0m3 1h0m2 31h0m15 0h0m2-8h0m-269 50h0m75-3h0m17-6h0m10 2h0m21-1h0m0-2h0m20 0h0m17 0h0m6 1h0m1 6h0m8-2h0m13 3h0m2-8h0m2 3h0m13 3h0m2-6h0m15 8h0m0 3h0m3-5h0m21-10h0m2-1h0m3 2h0m1-11h0m0 20h0m5-34h0m2 35h0m5-19h0m3 8h0m1 11h0m4-10h0m0 0h0m1 14h0m2-3h0m7-9h0m1 5h0m7 5h0m7 2h0m6-10h0m6 3h0m2 5h0m4-5h0m4 0h0m2-4h0m2 8h0m4-3h0m3-3h0m9-1h0m11 6h0m7 4h0m42 0h0m1-4h0m6 3h0m18 1h0m17-8h0m2 8h0m-409 23h0m8 0h0m9-20h0m7 5h0m4-3h0m0 16h0m8 5h0m2 12h0m1-2h0m13 2h0m11-25h0m12-10h0m4 22h0m10 13h0m7-9h0m0 6h0m0-23h0m11 9h0m4 9h0m4-10h0m1 10h0m1 0h0m4 7h0m2 1h0m6-27h0m1 5h0m1 20h0m2-4h0m4-4h0m6-23h0m0-3h0m0 17h0m1 11h0m4-27h0m0 21h0m1-2h0m5-14h0m1 11h0m1-8h0m0-5h0m0 19h0m4-11h0m1 22h0m1-23h0m1-8h0m2 27h0m0-28h0m3 35h0m0-4h0m1-33h0m0 15h0m0 3h0m0-17h0m1 37h0m0-35h0m2 23h0m0-14h0m5 1h0m1 6h0m4 14h0m3-8h0m0-11h0m1 9h0m2-2h0m1 11h0m0-8h0m4 9h0m3-31h0m1 24h0m1-25h0m3 12h0m2 6h0m0-14h0m5-3h0m1 22h0m1-9h0m10-1h0m0 4h0m6 16h0m4-20h0m8 18h0m0-23h0m2-9h0m2 16h0m1-11h0m1 33h0m3-14h0m17 5h0m3 5h0m1-19h0m1-13h0m0 17h0m0 3h0m1-9h0m4 2h0m3-9h0m1 19h0m2-11h0m1 22h0m1-21h0m2 5h0m2-21h0m1 24h0m0-21h0m3 6h0m1-5h0m0 26h0m1 0h0m2-14h0m3 19h0m3-26h0m5 4h0m2 21h0m1 0h0m2-4h0m2 1h0m4-3h0m11 6h0m0-7h0m0-16h0m1 12h0m5-15h0m2 8h0m2-4h0m0 16h0m3 9h0m4-26h0m1 21h0m2-13h0m3-7h0m1-6h0m6 11h0m22-17h0m-349 47h0m14-1h0m38 9h0m1 16h0m6-28h0m6 33h0m0-21h0m11 3h0m4-18h0m0 27h0m2-20h0m6 12h0m1 3h0m4-4h0m5-4h0m1 13h0m2-24h0m2 31h0m0 3h0m2-2h0m5 3h0m3-10h0m3 11h0m0-33h0m0 29h0m1-34h0m1 27h0m1-27h0m2 28h0m2 4h0m0 3h0m2-4h0m3-29h0m0 8h0m0 7h0m1-14h0m2-3h0m1 18h0m3-1h0m1 1h0m1-18h0m1 32h0m4-15h0m0 15h0m1 5h0m0-11h0m3-17h0m2 23h0m1-4h0m1-2h0m0-22h0m1 18h0m4-8h0m3 4h0m1-2h0m1 9h0m1 13h0m2-13h0m1-7h0m1 3h0m5 3h0m9-13h0m4-11h0m7 16h0m0 16h0m0-6h0m4-20h0m2 2h0m0 13h0m1-9h0m2 12h0m1-12h0m4-13h0m2 12h0m1 22h0m0-15h0m4-8h0m2 16h0m0-16h0m1 14h0m0 5h0m3-12h0m0-12h0m1 6h0m3 16h0m5-12h0m1 18h0m1-7h0m2-6h0m1-19h0m2 35h0m4-13h0m0-5h0m1-7h0m0 7h0m5 7h0m3-3h0m0 10h0m4-19h0m1 19h0m2-26h0m2 2h0m6 30h0m3-7h0m0-6h0m3-3h0m0-12h0m1-4h0m6-3h0m9 17h0m4-12h0m9 11h0m5-15h0m5 5h0m3 16h0m1-16h0m12-4h0m-247 39h0m27 21h0m7 2h0m5-9h0m3-12h0m1 7h0m1 13h0m2 4h0m4-20h0m0 12h0m2-18h0m1 31h0m4-6h0m0-26h0m0 1h0m3 10h0m1 18h0m0-29h0m3 18h0m0-9h0m1 14h0m1 9h0m1-10h0m1 0h0m3 5h0m1-10h0m5 9h0m2-19h0m1 25h0m0-10h0m3-15h0m2 26h0m1-27h0m0-9h0m4 15h0m0-15h0m2 10h0m1-5h0m1-2h0m1 8h0m1 15h0m0-9h0m1-7h0m0 21h0m3-3h0m3-28h0m1 2h0m2 18h0m1-5h0m0-3h0m2 15h0m5 9h0m1-35h0m0 31h0m0-28h0m1 28h0m1-13h0m3 5h0m4 12h0m2 0h0m1-22h0m3-11h0m2 2h0m2 18h0m1-22h0m6 29h0m0 0h0m11-25h0m1 15h0m1 1h0m0-14h0m2 25h0m1-19h0m1-6h0m0 16h0m1-14h0m1 19h0m13-27h0m2 37h0m1-39h0m6 39h0m0-10h0m2-19h0m1-3h0m3 20h0m3 2h0m11-15h0m8-14h0m13 15h0m1-7h0m9-6h0m-173 44h0m1-4h0m21 5h0m8-7h0m0 1h0m2 16h0m4-14h0m1-3h0m2 7h0m3 14h0m2-7h0m0 7h0m5-13h0m0 19h0m1-7h0m1-7h0m3 10h0m3 6h0m2-25h0m0-2h0m2 23h0m0 1h0m9-20h0m3-5h0m0 21h0m1-11h0m0 0h0m0 8h0m4-6h0m14 1h0m18-7h0" stroke="#a9a9a9" stroke-opacity="0.45" stroke-width="8.8" stroke-linecap="round" fill="none"/>
<path d="M1467 349h0m-32 36h0m-1 33h0m3 5h0m2 12h0m28-8h0m-33 52h0m3-24h0m5 19h0m1-26h0m8 10h0m1-14h0m12 6h0m9 24h0m-22 43h0m1-20h0m1-12h0m12-4h0m5 34h0m-31 23h0m1-17h0m21 0h0m7 8h0m-187 67h0m30-5h0m9 1h0m1-4h0m2 2h0m7 2h0m2 6h0m4-2h0m1 1h0m3-2h0m0-7h0m3 10h0m3-5h0m2 2h0m13 3h0m12-7h0m2 5h0m1-1h0m7 2h0m1-5h0m4 7h0m1-10h0m1 2h0m3 8h0m2-2h0m3 1h0m5-4h0m1 1h0m4-8h0m7 4h0m1-1h0m15-3h0m3 4h0m4-4h0m3 7h0m5-28h0m2 33h0m0-11h0m1 5h0m1 1h0m5-1h0m7-8h0m0 5h0m0-3h0m3-2h0m5-2h0m6 13h0m6-9h0m2 5h0m4-1h0m11 4h0m4-4h0m9 4h0m3-3h0m7 0h0m7 6h0m9 1h0m6-7h0m0-5h0m1 8h0m2 3h0m5-4h0m7-5h0m6 10h0m17-12h0m19 10h0m18-3h0m-392 21h0m13 13h0m12-23h0m29 24h0m8-20h0m4 9h0m8 21h0m3-13h0m4-20h0m0-5h0m3 5h0m7 4h0m2 10h0m4-4h0m0 9h0m0 1h0m11-13h0m1-7h0m2-5h0m3 38h0m2-33h0m2 17h0m2-20h0m6 30h0m4-26h0m1 17h0m3 9h0m0-32h0m2 16h0m7 17h0m2-26h0m5-6h0m0 13h0m1 9h0m1 8h0m1-32h0m0 37h0m3-34h0m3 23h0m0 12h0m2-11h0m0-9h0m9 8h0m0 1h0m4 5h0m5-6h0m0 4h0m4-10h0m3-9h0m0 11h0m4-10h0m3-8h0m1-3h0m9 10h0m0 0h0m3 1h0m0 19h0m0-6h0m2-4h0m3 5h0m10 6h0m2-11h0m0 16h0m1-17h0m1 8h0m3-23h0m3 24h0m0 8h0m2-19h0m2 21h0m2-3h0m3-36h0m0 8h0m1 24h0m1-14h0m3 0h0m1 12h0m2-6h0m0-7h0m1 11h0m3-17h0m1-4h0m1-6h0m1 37h0m0-17h0m1 3h0m1 13h0m0-22h0m2-11h0m0 30h0m3-25h0m0-6h0m1 24h0m2-12h0m1 15h0m0-30h0m1 11h0m8 12h0m3-9h0m1-1h0m1 13h0m4-5h0m2 8h0m2-3h0m1-21h0m3 13h0m2 5h0m0-7h0m2 6h0m0-18h0m0 9h0m2-13h0m4 32h0m0-21h0m4-3h0m3 3h0m1-1h0m1 11h0m1-4h0m9-1h0m1-5h0m9-11h0m2 35h0m1-30h0m4 2h0m6-3h0m4 14h0m5-13h0m1 24h0m2 4h0m29-27h0m15 25h0m7-25h0m-370 36h0m2 3h0m5 1h0m29-4h0m2 19h0m0-9h0m9 3h0m1 21h0m5-16h0m0 18h0m5-9h0m3-6h0m2 5h0m1-3h0m1-14h0m4 5h0m4 2h0m3-2h0m1-13h0m1-2h0m8 25h0m1 6h0m6 2h0m1-29h0m2 16h0m1-17h0m1 28h0m0-15h0m3-3h0m3 19h0m5 3h0m3-33h0m1 11h0m5-11h0m0 27h0m3-15h0m6-8h0m1 6h0m4 14h0m4-1h0m1-23h0m1 9h0m1 11h0m1 12h0m1-22h0m1 16h0m1 7h0m0-23h0m0 22h0m1-25h0m1 14h0m0-13h0m5 10h0m1-7h0m0-4h0m0 3h0m5 3h0m2 22h0m1-19h0m0 16h0m1-9h0m2-1h0m2 6h0m6-11h0m1-12h0m0 9h0m3 12h0m4 1h0m4 4h0m3-27h0m1 7h0m6 5h0m0-15h0m1 33h0m1-10h0m2 2h0m0 5h0m2-10h0m0 12h0m5-32h0m1 21h0m0-5h0m1 10h0m2-25h0m0 5h0m0 13h0m1 0h0m4-15h0m0 28h0m6-4h0m1 4h0m3-25h0m1-5h0m0 15h0m8-18h0m7 18h0m2-15h0m1 7h0m0 8h0m1-5h0m0 11h0m6-20h0m3-5h0m1 23h0m1-9h0m1-11h0m6 0h0m0 33h0m3-38h0m2 15h0m0 24h0m0-19h0m0 10h0m1-18h0m0 1h0m1 25h0m8-6h0m12-20h0m4-4h0m5-8h0m1 24h0m1 2h0m10 6h0m7 6h0m2-15h0m2 13h0m10-32h0m-255 40h0m11 9h0m3 6h0m1-18h0m5 14h0m1-8h0m5-3h0m1 1h0m4 10h0m2-2h0m2 9h0m5-15h0m3-3h0m6 0h0m1 34h0m2-34h0m1 6h0m1 7h0m0 20h0m3 0h0m2-27h0m0-4h0m2 14h0m0-3h0m2 0h0m0-16h0m3 18h0m0 0h0m2-13h0m0 1h0m2-3h0m2 12h0m1-3h0m1-8h0m1 22h0m1-5h0m3-16h0m1-3h0m2 16h0m1-4h0m2 22h0m0-22h0m0-7h0m1 16h0m2-18h0m5-3h0m1-1h0m0 16h0m7-1h0m2 20h0m4-32h0m1 11h0m2 13h0m2-24h0m9 14h0m0 12h0m0-4h0m4-12h0m3 24h0m1-18h0m1-18h0m0 4h0m2 15h0m1 10h0m3-7h0m1-17h0m0 20h0m2-28h0m0 15h0m1 16h0m3 4h0m0-5h0m10 0h0m1 1h0m2-2h0m0-29h0m7 10h0m8 6h0m0-5h0m1 2h0m2 22h0m4 2h0m2-21h0m0-1h0m5-9h0m3 30h0m0-31h0m3-4h0m8 23h0m3-8h0m4 12h0m3-7h0m1-13h0m20 2h0m-174 30h0m10 1h0m4 10h0m11 5h0m5-12h0m2 14h0m2-10h0m7 1h0m0-9h0m0 13h0m8 12h0m1-25h0m5 28h0m3-18h0m0 20h0m6-5h0m3-24h0m1 17h0m2-3h0m1-4h0m1 1h0m8-5h0m1 4h0m4-2h0m6-9h0m0 16h0m8-10h0m3-1h0m11 2h0m5-5h0" stroke="#a9a9a9" stroke-opacity="0.45" stroke-width="8.8" stroke-linecap="round" fill="none"/>
<path d="M1424.2 580.7 L1424.2 343.0 L1418.1 337.3 L1404.1 340.6 L1397.3 354.9 L1391.8 396.0 L1380.5 446.0 L1369.3 495.9 L1358.0 545.6 L1352.1 580.7 L1424.2 580.7Z" fill="#0a9af5"/>
<path d="M1397 350h0m1 5h0m2-12h0m0 3h0m1-5h0m0 12h0m0 5h0m3-14h0m1 2h0m3-6h0m4 1h0m2 1h0m2-6h0m5 15h0m1-6h0m2-1h0m1 12h0m0 2h0m0-8h0m1-5h0m0-2h0m2 10h0m0 0h0m-38 27h0m2 19h0m2-4h0m1-2h0m0 2h0m0-19h0m2-8h0m1 17h0m0-5h0m1-14h0m1-5h0m21 26h0m0-16h0m1 1h0m0 10h0m0-10h0m1 9h0m0 8h0m1-28h0m0-1h0m1 11h0m0 27h0m1-20h0m1-3h0m0-2h0m1 23h0m-50 43h0m3-2h0m2-5h0m2 4h0m1-25h0m1-8h0m1 7h0m0-5h0m1 11h0m0-6h0m2-10h0m0 8h0m0 13h0m1-13h0m0 8h0m1-10h0m0 4h0m1-9h0m25 30h0m1-24h0m0-1h0m2 10h0m0-11h0m1 7h0m1 10h0m0 9h0m0-13h0m1-17h0m0 6h0m0 24h0m1-7h0m0 7h0m-55 45h0m1-9h0m2 7h0m2-14h0m0-7h0m0 18h0m1 2h0m0 0h0m1-15h0m1-12h0m0 4h0m2 16h0m3-23h0m2 0h0m33 22h0m1-16h0m0 14h0m1 11h0m0-7h0m1 9h0m1-16h0m1 16h0m2-4h0m1-31h0m1 22h0m0 10h0m-64 35h0m2-14h0m0 0h0m1 0h0m1-3h0m1 3h0m0 11h0m0-6h0m1-8h0m1 16h0m1-10h0m1 4h0m0-11h0m1 0h0m1 3h0m1-11h0m0 5h0m43 8h0m1-7h0m0 26h0m0 3h0m0 1h0m1-11h0m0-11h0m0 20h0m0-35h0m0-1h0m1 25h0m0-23h0m1 19h0m0-17h0m0 24h0m0-23h0m1 11h0m1 23h0m0-22h0m1 7h0m0-21h0m1 18h0m1 9h0m0-18h0m-72 61h0m1-16h0m1 18h0m1-5h0m1-17h0m1 26h0m0-38h0m2 14h0m1 7h0m0-5h0m0-7h0m0 3h0m0-5h0m0 5h0m2-3h0m0-2h0m1-8h0m54 18h0m1 11h0m0-18h0m1 9h0m0-14h0m0 21h0m1 12h0m0-36h0m1 27h0m0-1h0m0-23h0m0 30h0m1-2h0m1 1h0m1-17h0m-79 43h0m0-8h0m1 9h0m2 0h0m0-16h0m2 5h0m1-11h0m0 15h0m0-4h0m2 7h0m1-14h0m2 19h0m0-2h0m2 2h0m2-3h0m1-2h0m1 1h0m1 0h0m2 3h0m1-4h0m2 0h0m2 4h0m3-5h0m3 1h0m2-1h0m2 0h0m1 1h0m2 5h0m0-7h0m4 2h0m2 4h0m0-4h0m3-1h0m2 0h0m0 4h0m2-4h0m0 7h0m4-7h0m3 3h0m10 4h0m0-8h0m1 3h0m3 2h0m0-8h0m2-5h0m1-4h0m0 5h0m1 6h0m0 3h0m1-1h0m1-14h0m0-1h0" stroke="#0a9af5" stroke-opacity="1" stroke-width="8.8" stroke-linecap="round" fill="none"/>
<path d="M1222 201h0m29 15h0m145 10h0m-120 32h0m45-7h0m76 24h0m26-1h0m-204 19h0m25-3h0m52 11h0m9 4h0m11-18h0m22 20h0m37 11h0m15-3h0m6-4h0m6-8h0m9-10h0m4 20h0m7-31h0m3 34h0m-215 33h0m90-16h0m6 23h0m4-6h0m5-16h0m13 9h0m5 4h0m1 7h0m9 4h0m3-3h0m2-7h0m1-4h0m1 12h0m3-19h0m6 13h0m0-4h0m1-1h0m0-25h0m3 8h0m8 8h0m3 15h0m1 6h0m3-7h0m0 2h0m2-1h0m7-17h0m0 11h0m4-13h0m0-2h0m2-1h0m3 29h0m0-8h0m1 1h0m5-3h0m4 5h0m2 4h0m2-26h0m1-8h0m3 2h0m0-4h0m3 4h0m0 20h0m1 10h0m2-31h0m2 23h0m2-22h0m0 15h0m1-8h0m3 18h0m-180 10h0m3 11h0m0 27h0m1-6h0m7-21h0m0 23h0m11 2h0m0 3h0m2-6h0m4-9h0m0-8h0m4-3h0m1 9h0m9-3h0m1-13h0m8 16h0m2-17h0m9 4h0m13 20h0m8 8h0m2 0h0m4-20h0m3 21h0m2-8h0m6 0h0m1-4h0m1 3h0m2-16h0m3-3h0m3 5h0m5 9h0m9-10h0m1 21h0m4-12h0m3-23h0m3 7h0m2 17h0m1-13h0m2 23h0m3-30h0m3 6h0m2-6h0m2 6h0m0-10h0m3 4h0m4 0h0m2-2h0m1 31h0m0-5h0m2-28h0m1 25h0m0-6h0m3 7h0m1-24h0m1 23h0m0 3h0m1 0h0m1-4h0m3-13h0m6-9h0m1 6h0m-219 59h0m9-3h0m15-17h0m5 22h0m7-4h0m2 1h0m1 6h0m14 7h0m0-24h0m0-12h0m7 9h0m19-4h0m2-3h0m1 29h0m5-33h0m4 15h0m1-9h0m4 4h0m11 25h0m0-18h0m8 6h0m1 2h0m1-2h0m7-11h0m0-3h0m2 5h0m0 18h0m4-1h0m3 5h0m1-24h0m6 11h0m2 13h0m2-14h0m2 14h0m0-12h0m2 4h0m3-4h0m3 10h0m9-29h0m2 17h0m2 6h0m1-11h0m1-15h0m0 24h0m6-22h0m5 7h0m2 10h0m3-5h0m3-7h0m1 29h0m1-10h0m1-3h0m1-23h0m0 14h0m1-10h0m0 10h0m1 3h0m1-14h0m2 2h0m2-5h0m3 5h0m6 21h0m7-26h0m3 17h0m-238 30h0m41 15h0m16-22h0m1 30h0m5-24h0m9 27h0m1-3h0m6-16h0m1-1h0m3-3h0m3 24h0m11-36h0m3 22h0m11-1h0m1-8h0m4-8h0m0 11h0m4-1h0m14-7h0m4 25h0m13-2h0m2-2h0m3 2h0m2-13h0m0-12h0m0 19h0m1 11h0m2-21h0m0 5h0m0 2h0m1 6h0m1-10h0m1-18h0m0 1h0m3 15h0m3-4h0m4-6h0m8 24h0m4-27h0m3 22h0m1-24h0m1 35h0m1-22h0m1-14h0m0 24h0m2-25h0m4 37h0m1-18h0m0 2h0m3 8h0m3-25h0m8 18h0m0-19h0m1 24h0m2 8h0m4-8h0m0 8h0m1 2h0m0-32h0m1 25h0m1-21h0m1 29h0m6-14h0m0-17h0m3 25h0m2-26h0m1 23h0m0-15h0m1 11h0m1-9h0m-255 60h0m67-22h0m3 14h0m3-19h0m1 11h0m1-2h0m3-13h0m3 19h0m2 11h0m5-11h0m4-18h0m3 17h0m4-18h0m2 14h0m0 7h0m5-23h0m7 31h0m0-15h0m1 12h0m1-10h0m13-15h0m4 7h0m2 21h0m1-21h0m9-2h0m17-11h0m14 14h0m4 3h0m6-10h0m4 7h0m2 13h0m0 1h0m1-20h0m4 30h0m0-7h0m1-30h0m1 6h0m2 8h0m3 23h0m1-31h0m3 27h0m0-33h0m6 20h0m1-10h0m0 22h0m5-27h0m3 9h0m1-13h0m1 23h0m0-1h0m1-15h0m0-5h0m1 30h0m4-21h0m1 11h0m3 9h0m2-10h0m2 16h0m0-35h0m3 22h0m1 6h0m0-14h0m4 15h0m1 2h0m1-7h0m1-21h0m1 7h0m2 22h0m3 1h0m0-30h0m-196 72h0m6-39h0m4 23h0m4-3h0m4-7h0m17 15h0m3-2h0m1-19h0m1 4h0m1 10h0m6 1h0m5-3h0m1-9h0m1-6h0m5 33h0m1-29h0m5 15h0m7-12h0m3 14h0m0-3h0m1-5h0m9-3h0m0 10h0m3-19h0m4 29h0m1-1h0m0-4h0m2-24h0m1-4h0m2 0h0m2 24h0m3-25h0m1 12h0m12 11h0m2 1h0m22 3h0m0-17h0m2 7h0m0 6h0m2 13h0m3-16h0m3-6h0m9 17h0m3-28h0m2 20h0m0-20h0m0-1h0m1 16h0m1-4h0m0 22h0m3 1h0m1 0h0m1-2h0m4 4h0m4-7h0m0-19h0m0 21h0m9-25h0m0-6h0m2 21h0m3 15h0m-201 3h0m40 21h0m22-10h0m2-1h0m13 12h0m14-5h0m8-7h0m4 4h0m1-8h0m5 3h0m2-3h0m20 4h0m0 14h0m3-25h0m3 8h0m1 1h0m7 15h0m3-7h0m5-15h0m1 20h0m3-12h0m1 15h0m3-17h0m1 0h0m2 17h0m9-2h0m4 2h0m16-20h0m1-2h0m2 4h0m0 16h0m3-21h0m4 22h0" stroke="#0a9af5" stroke-opacity="0.47" stroke-width="8.8" stroke-linecap="round" fill="none"/>
<path d="M1196 120h0m101 50h0m107 22h0m-64 39h0m18-12h0m20-8h0m-34 66h0m33-31h0m3 29h0m3-11h0m44 12h0m-220 6h0m115 24h0m4 5h0m21-3h0m16-13h0m2 5h0m13-13h0m4 16h0m5-1h0m13-1h0m7 14h0m13-6h0m3 6h0m3 4h0m-251 10h0m76 25h0m16-11h0m3 16h0m4 0h0m4-10h0m12 10h0m3-33h0m4 26h0m2-11h0m3-21h0m1 16h0m27 15h0m2 6h0m3-10h0m1 1h0m7-7h0m8-3h0m2 8h0m1-6h0m3 9h0m2-12h0m3 21h0m0 0h0m5-10h0m1 2h0m7 4h0m1 0h0m0-10h0m11 8h0m1-30h0m1 13h0m1 7h0m1-1h0m1 17h0m9-25h0m2 12h0m1 5h0m3-28h0m7 8h0m1-6h0m1 30h0m2 4h0m1-26h0m2 1h0m5-4h0m1 21h0m0-6h0m1-22h0m-210 40h0m14 26h0m34-11h0m1 5h0m3 2h0m14 10h0m9 3h0m8-30h0m15-4h0m1 30h0m6-24h0m13 23h0m6-26h0m1 21h0m2-27h0m7 0h0m0 33h0m10-14h0m3 4h0m0 3h0m2-14h0m3 14h0m10-13h0m1-10h0m1 6h0m1 15h0m1 5h0m2-19h0m1-5h0m1 20h0m1 12h0m1-27h0m3-2h0m3 3h0m0 24h0m2-4h0m0-27h0m2 4h0m4 8h0m2 6h0m0-20h0m3 11h0m3 3h0m3-7h0m1 29h0m2-27h0m1-11h0m0 36h0m0-31h0m0 20h0m2-13h0m2 13h0m1-10h0m4 14h0m-189 41h0m9-14h0m3-7h0m5 20h0m4 1h0m32-16h0m1 20h0m1-27h0m5 29h0m1-4h0m3 3h0m2-24h0m0 4h0m3-3h0m7 6h0m0-9h0m4 24h0m11 2h0m2-20h0m4-13h0m2 22h0m5 15h0m0 0h0m1-5h0m2-21h0m1 24h0m2-15h0m5-12h0m11 3h0m5 18h0m1-30h0m4 1h0m0 0h0m1 12h0m2-11h0m2 21h0m5-5h0m8 1h0m1 7h0m2-15h0m1 9h0m1 10h0m1 0h0m2-16h0m4 17h0m3-17h0m6-13h0m2 6h0m0-6h0m0 2h0m1 21h0m3-10h0m1 24h0m2-6h0m1-1h0m4-5h0m-236 27h0m32-8h0m2 26h0m12-19h0m12 9h0m1 10h0m9-6h0m10-26h0m6 31h0m1 8h0m2-31h0m4 6h0m5-11h0m8 34h0m2-5h0m10-21h0m11 14h0m6 13h0m2-5h0m0-26h0m3-5h0m1 17h0m4 15h0m4-32h0m0 26h0m4 8h0m0-9h0m9 3h0m1-20h0m1-8h0m0 6h0m3 25h0m0 2h0m2-35h0m4 3h0m5 9h0m1-8h0m6 18h0m0-6h0m4-16h0m0 24h0m2 13h0m2-31h0m1-1h0m2 16h0m0-4h0m1 5h0m5-13h0m12 21h0m1-4h0m1 6h0m1-4h0m2 10h0m0-7h0m1-20h0m2 1h0m2 16h0m7-15h0m0 19h0m3 7h0m3-31h0m-242 39h0m33 1h0m22 1h0m8 15h0m6-6h0m2 16h0m2 5h0m9-35h0m4-3h0m2 20h0m1 15h0m6-3h0m2-1h0m6-20h0m1 10h0m1 2h0m8-10h0m8-2h0m0 20h0m2-30h0m5 22h0m0-4h0m5 6h0m2-12h0m1-6h0m6 26h0m8-13h0m2-8h0m6 0h0m3 4h0m4-10h0m5 31h0m3-23h0m4 22h0m5-26h0m3 19h0m2 4h0m2 3h0m0-15h0m5 3h0m6 9h0m5-24h0m3 29h0m0-9h0m2-12h0m1 5h0m6-23h0m1 23h0m2-12h0m2-11h0m1 17h0m1-15h0m0 27h0m3-18h0m1 16h0m2-25h0m2 4h0m3-1h0m0 2h0m1-5h0m2-1h0m1 27h0m0 5h0m1-15h0m0-10h0m2 11h0m-200 53h0m12 3h0m2-25h0m6-8h0m21 6h0m1 14h0m7 5h0m3 5h0m3-3h0m11 0h0m9-21h0m10-3h0m3 30h0m8-26h0m1 12h0m1-7h0m0-10h0m3 2h0m1 12h0m2-5h0m5 23h0m2-12h0m11-22h0m6 31h0m0 0h0m7-17h0m5 9h0m2 6h0m1 4h0m4-12h0m5 14h0m3 2h0m2-16h0m1 6h0m1 6h0m2-29h0m3 21h0m2 9h0m4 1h0m3-1h0m0-23h0m0 20h0m2 6h0m4-30h0m0 27h0m1-21h0m0 14h0m1-28h0m4 1h0m1 14h0m2-16h0m0 20h0m0 1h0m1-13h0m1 25h0m1-8h0m2-16h0m0-3h0m1 2h0m1-1h0m3 28h0m1-13h0m1-6h0m0 10h0m0 13h0m-202 13h0m5-2h0m16 8h0m2 0h0m3-12h0m20-1h0m11 5h0m1-8h0m10 11h0m15-9h0m4 9h0m6 12h0m15-13h0m28-7h0m4 16h0m2-19h0m3 24h0m16-3h0m3-7h0m1 5h0m3-14h0m1 11h0m1 0h0m6-11h0m8 9h0m1 1h0m0-3h0m1-8h0m8 19h0m1-25h0m2 1h0m0 2h0m1 15h0m0-1h0m1-3h0m0-2h0m2 12h0m0 0h0m1-16h0m1 13h0" stroke="#0a9af5" stroke-opacity="0.47" stroke-width="8.8" stroke-linecap="round" fill="none"/>
<path d="M1204 167h0m218 16h0m-116 68h0m66 4h0m28-5h0m11 28h0m1-13h0m4-1h0m7 6h0m-92 37h0m13 11h0m20-34h0m7 35h0m6-35h0m9 1h0m3 28h0m9 5h0m1-20h0m16-4h0m3 16h0m1-14h0m2 11h0m3-6h0m3 10h0m-244 38h0m55 5h0m30-19h0m10 18h0m5-14h0m11 17h0m2-14h0m2 2h0m1 7h0m0-22h0m10 27h0m11-8h0m9 10h0m4-4h0m1-15h0m13-7h0m1 12h0m3 1h0m12 2h0m1 7h0m5 4h0m1-28h0m3 3h0m1 17h0m0-30h0m3 17h0m4 2h0m2-11h0m0 16h0m4-1h0m0-7h0m1 8h0m2 7h0m3-29h0m1 11h0m1 10h0m2-14h0m2 18h0m1-19h0m1 14h0m1 4h0m2-10h0m0 4h0m3 6h0m1 5h0m3-4h0m0 1h0m1-28h0m2 24h0m2 15h0m1-24h0m3 0h0m1 23h0m1-36h0m0 20h0m2 7h0m3 9h0m-232 26h0m47 7h0m3-10h0m14-13h0m2 26h0m1-23h0m0 27h0m5-21h0m6-11h0m2 15h0m8 2h0m0 1h0m2-16h0m1-3h0m14 2h0m0 22h0m8-27h0m0 11h0m2 11h0m15 15h0m5-34h0m10 18h0m3-8h0m0-14h0m1 18h0m3-6h0m1 20h0m2-20h0m7 20h0m8-16h0m10-9h0m2 5h0m5-12h0m1 6h0m2 14h0m7 12h0m1-27h0m0-3h0m1 21h0m0-22h0m1 8h0m0 2h0m2-3h0m0-1h0m2 9h0m1 3h0m2 19h0m1-1h0m6-31h0m1 22h0m0-14h0m7-6h0m0 20h0m5-3h0m2 11h0m1-5h0m1-16h0m-171 50h0m0 4h0m16-8h0m1-15h0m1 30h0m3-15h0m3-11h0m1 9h0m1-11h0m5-6h0m2 30h0m3-30h0m2 9h0m2 1h0m11 19h0m8-4h0m9-24h0m5 13h0m3 9h0m1 9h0m0-28h0m1 1h0m9 2h0m0-1h0m4 15h0m1-23h0m3 14h0m2 4h0m4-19h0m1 34h0m3-27h0m1-5h0m4 34h0m0-35h0m7 0h0m3 14h0m5-8h0m2 10h0m3-16h0m3 31h0m7-8h0m2 15h0m2-16h0m0-3h0m0 17h0m1-16h0m1 4h0m5 3h0m1 11h0m1-16h0m1-8h0m0 5h0m0 10h0m1-15h0m0-7h0m2 27h0m1-25h0m0 8h0m1 4h0m2 15h0m0-18h0m2 12h0m1-6h0m5-5h0m1 15h0m1-7h0m0-7h0m1 7h0m-235 49h0m29 1h0m3-3h0m13 4h0m2-16h0m1 13h0m13-32h0m4 9h0m3-10h0m13 0h0m4 23h0m2-11h0m8 24h0m11-10h0m2 1h0m5-2h0m5-20h0m1 8h0m10 5h0m1 7h0m2-4h0m5-1h0m3-13h0m4-8h0m6 21h0m3 5h0m3-2h0m5 7h0m2-7h0m2 8h0m4-26h0m0 29h0m2-27h0m1 5h0m5 15h0m2-12h0m2-9h0m6 6h0m1-6h0m3 25h0m1-24h0m3 6h0m1-15h0m0 17h0m2-15h0m3 31h0m5-6h0m0-26h0m0 4h0m3 32h0m7-34h0m1-2h0m1 6h0m1 23h0m3-13h0m1-9h0m0 14h0m2 6h0m2-18h0m1 19h0m0-21h0m4 21h0m1-14h0m0-10h0m1 26h0m1-18h0m1-5h0m-247 49h0m13 8h0m58-22h0m0 3h0m3 12h0m14-19h0m2 0h0m11 23h0m15 16h0m2-27h0m1-10h0m5 5h0m7 26h0m4-3h0m6-5h0m1-7h0m5-2h0m5 23h0m0-27h0m6 18h0m1-26h0m9-1h0m4 18h0m1 16h0m2-11h0m8-12h0m5-2h0m2 27h0m3-39h0m1 16h0m5 12h0m3 5h0m1-14h0m2 13h0m3 7h0m1 0h0m0-2h0m5-22h0m11 3h0m2 6h0m2 11h0m2-23h0m1 22h0m1-15h0m3 17h0m1-14h0m1-17h0m3 12h0m3-2h0m0 4h0m1-4h0m0 5h0m0-4h0m-250 58h0m61-34h0m8 23h0m0 15h0m2-34h0m15-3h0m1 8h0m2 11h0m2-11h0m11 7h0m6-16h0m9 32h0m2 3h0m5-10h0m2 11h0m1-16h0m1 17h0m7 0h0m19-10h0m3-19h0m3-6h0m4 19h0m2 18h0m1-17h0m6-18h0m2 18h0m1-10h0m8 17h0m2-27h0m5 11h0m5 1h0m2 5h0m3 17h0m7 0h0m1-2h0m10-20h0m0 4h0m4-12h0m0 17h0m0 2h0m3-20h0m6 34h0m2-17h0m1 15h0m0-23h0m2 17h0m0 6h0m1-8h0m2-21h0m4 26h0m1-30h0m0 27h0m2 6h0m1-6h0m1-31h0m0 8h0m-175 49h0m16 2h0m2-2h0m0 4h0m8-10h0m2-3h0m4-4h0m7 10h0m2-12h0m1 17h0m12-18h0m4 7h0m2 16h0m7-6h0m1-16h0m4 11h0m2 3h0m6-9h0m2-1h0m9 5h0m1-10h0m2 0h0m0 19h0m4-8h0m3 8h0m2-6h0m4-4h0m0 9h0m4-10h0m0-4h0m1 15h0m4-11h0m0 7h0m1-2h0m4 0h0m6-10h0m2 13h0m3 5h0m3-5h0m9 5h0m1-10h0m10 4h0m0 8h0m0-2h0m1-7h0m1-2h0m3-11h0m1 5h0m5 5h0" stroke="#0a9af5" stroke-opacity="0.47" stroke-width="8.8" stroke-linecap="round" fill="none"/>
<path d="M1420 237h0m-226 30h0m8-21h0m158 29h0m24-6h0m20-5h0m-130 31h0m35 24h0m56-23h0m5 20h0m3-8h0m8 1h0m2 4h0m9-18h0m7 22h0m3-10h0m12 3h0m4 1h0m1-6h0m0 5h0m4-2h0m0-1h0m2-5h0m-233 41h0m6-1h0m66 15h0m14-5h0m24-14h0m6-14h0m2 31h0m14-20h0m3 22h0m8 1h0m7-17h0m3 9h0m1-9h0m9 15h0m7-10h0m1 9h0m1-3h0m5-10h0m2 14h0m2-27h0m4 21h0m3-4h0m2-19h0m0 18h0m1-12h0m2 6h0m7 9h0m1 8h0m3-35h0m1 37h0m0-4h0m6 1h0m2-21h0m0 14h0m1-16h0m0 18h0m4-14h0m0-8h0m1 21h0m0-12h0m1 12h0m1-27h0m0 25h0m3 10h0m1 2h0m2-22h0m1 0h0m3-2h0m1-15h0m0 4h0m1 20h0m0 9h0m1 1h0m2-24h0m-233 49h0m17-2h0m27 9h0m14-20h0m2 3h0m6 9h0m9-10h0m6-3h0m7 5h0m6 15h0m3 13h0m8-35h0m2 3h0m8 33h0m9-1h0m0-27h0m1 4h0m2-12h0m4 29h0m5-11h0m2-17h0m1 31h0m0-14h0m1-17h0m3 10h0m4 10h0m2-19h0m3 23h0m1 7h0m3-3h0m0-19h0m4-7h0m14 13h0m2-19h0m4 12h0m3 2h0m2 3h0m6-8h0m0 20h0m5-24h0m2 20h0m7-20h0m1 22h0m1-23h0m1 0h0m2 21h0m5-21h0m2 17h0m0 7h0m1-1h0m0-10h0m0 12h0m1-3h0m1-15h0m0-4h0m1 26h0m6-3h0m2-9h0m0-2h0m1-4h0m2 16h0m-203 24h0m8 17h0m9 1h0m0-26h0m9-5h0m7 23h0m8-3h0m0 5h0m0 12h0m1-8h0m4-19h0m5-8h0m2 2h0m7 33h0m6-22h0m9-13h0m10 2h0m3 21h0m11-20h0m1 6h0m1 20h0m1-10h0m1 6h0m1-6h0m1-18h0m4-1h0m2 6h0m8-4h0m4 33h0m6-21h0m5-7h0m9 14h0m1 5h0m2-2h0m6-3h0m4-11h0m2 15h0m2-26h0m9 25h0m9 4h0m3-12h0m2-5h0m2-1h0m1-5h0m2 0h0m0-4h0m2 15h0m1 12h0m0-26h0m1 7h0m2 25h0m1-14h0m2-24h0m3 22h0m2 5h0m1-24h0m0 23h0m-207 44h0m9-11h0m10-6h0m7 15h0m2-12h0m9 16h0m0 2h0m1-7h0m1-10h0m7 14h0m1 8h0m24-18h0m3 12h0m8-27h0m10 22h0m3-4h0m20-6h0m10 7h0m1 14h0m2-4h0m13 1h0m0-34h0m2 10h0m3 23h0m3-5h0m0 5h0m3-29h0m1 29h0m1-7h0m3-26h0m1 15h0m1 7h0m1-2h0m0-16h0m1 30h0m0-3h0m2 4h0m2-32h0m2 26h0m2-11h0m0 18h0m1-25h0m1-11h0m7 27h0m1 10h0m1-28h0m1 4h0m5-8h0m7 18h0m2-5h0m3 10h0m1-26h0m0 32h0m0 3h0m3-29h0m5 3h0m-249 44h0m15-10h0m46 4h0m2-6h0m6 8h0m3 19h0m1-16h0m3 1h0m4-14h0m11 24h0m1 12h0m2-30h0m2 29h0m0-27h0m3-6h0m1 4h0m3 21h0m0-12h0m1 2h0m6 17h0m1-23h0m2 19h0m7-25h0m0 19h0m5-27h0m0 11h0m3-7h0m8 27h0m4-18h0m2 26h0m1-16h0m5-19h0m3 26h0m8-11h0m1 15h0m5 4h0m1-13h0m3-3h0m0-5h0m16-7h0m1-5h0m5 1h0m3 10h0m4 12h0m1-7h0m1-14h0m3-1h0m1 21h0m5-15h0m0-5h0m1 20h0m0-13h0m1-10h0m2 33h0m0-31h0m5 5h0m9-9h0m0 15h0m2 13h0m2 3h0m3-23h0m0-5h0m0 30h0m1-2h0m1-1h0m0-10h0m0-16h0m1 16h0m8 12h0m0 4h0m1-10h0m2-15h0m0 6h0m-235 25h0m53 8h0m1 1h0m25 21h0m2-22h0m4 17h0m2-22h0m4 23h0m0-9h0m14-12h0m2 23h0m5-2h0m7-2h0m4-21h0m4 7h0m8 19h0m6-26h0m1 32h0m1-11h0m1-13h0m4 21h0m5-2h0m2-32h0m5 25h0m1-12h0m4-9h0m2 4h0m7-7h0m0 4h0m3 4h0m1-3h0m0 11h0m2-3h0m4-2h0m2 13h0m9 8h0m1-24h0m7-1h0m1 18h0m5-1h0m2-19h0m0 15h0m2-9h0m6 9h0m7 7h0m4-22h0m1 8h0m0-14h0m1 8h0m0-2h0m1-5h0m2 30h0m2-14h0m-182 21h0m10 10h0m9-6h0m9 19h0m9-2h0m3-9h0m6 4h0m4-14h0m2 6h0m3 13h0m7 3h0m4-23h0m10 1h0m1 20h0m4-21h0m17 21h0m4-17h0m3 8h0m1 5h0m2-16h0m1 10h0m7-6h0m8 13h0m2-2h0m5 4h0m2-18h0m0 21h0m3-19h0m3 15h0m4-15h0m1 12h0m2-12h0m4 11h0m1-14h0m1 16h0m4 7h0m8-14h0m2 3h0m3-7h0m6 15h0m1-3h0m4-7h0m1-6h0" stroke="#0a9af5" stroke-opacity="0.47" stroke-width="8.8" stroke-linecap="round" fill="none"/>
<path d="M1408 144h0m-158 50h0m7-21h0m60 26h0m71 34h0m-205 21h0m144 5h0m61 16h0m2-11h0m-120 25h0m3 19h0m80 4h0m28 5h0m3-4h0m4-8h0m19-5h0m2 1h0m1 12h0m5 1h0m2-15h0m1 18h0m2-1h0m0-19h0m-196 45h0m40-17h0m10 24h0m5 9h0m17-12h0m70 6h0m3 5h0m0-14h0m1-15h0m4 20h0m4-6h0m2-11h0m1 24h0m1-5h0m4-10h0m4-5h0m13-3h0m0 4h0m0 18h0m2-4h0m0-19h0m1 10h0m1-12h0m2 2h0m2 12h0m2-6h0m1-8h0m2 25h0m2-5h0m0-20h0m2 4h0m0 22h0m0-22h0m5 20h0m1-16h0m-161 46h0m15-15h0m10 10h0m5-13h0m3 29h0m14-26h0m0 30h0m5-9h0m17-27h0m2 17h0m0 12h0m1 6h0m1-21h0m2 3h0m2 7h0m6-4h0m1 6h0m2-14h0m3 10h0m2 4h0m6 7h0m2-3h0m0-22h0m7 14h0m0-7h0m2 7h0m1-7h0m1-17h0m0 15h0m4-13h0m3 6h0m2 16h0m0-22h0m1 26h0m8-26h0m1 18h0m1-14h0m0 20h0m2-19h0m3-6h0m0 33h0m1-12h0m0-5h0m5-16h0m1 20h0m4-9h0m1 23h0m1 1h0m2-17h0m2 5h0m2 6h0m0-13h0m1-6h0m2 2h0m1-4h0m3 7h0m1 4h0m1 17h0m0-13h0m-256 52h0m52-21h0m17-13h0m5 29h0m2-29h0m5 2h0m13 34h0m4-35h0m12 29h0m15-1h0m0-20h0m4 12h0m3 16h0m11-28h0m6 5h0m2 18h0m10-9h0m3 13h0m1-38h0m5 16h0m1 22h0m1-11h0m2-14h0m7 19h0m0-10h0m3 10h0m3-2h0m5-30h0m1 2h0m3 32h0m0-11h0m3-2h0m1-18h0m1 12h0m0 12h0m8-5h0m3-9h0m4 19h0m1-32h0m1 33h0m1 4h0m1 0h0m1-14h0m8-23h0m2 11h0m2-5h0m0-4h0m4 12h0m0 24h0m2-31h0m1 27h0m0 3h0m0 0h0m3-27h0m5 14h0m2 13h0m1-24h0m1 12h0m3 2h0m-247 24h0m47 16h0m23-8h0m2 0h0m2-5h0m3-3h0m27 19h0m5-17h0m1-11h0m2 12h0m0 20h0m3-11h0m0-6h0m5 16h0m0-30h0m1 2h0m6 28h0m0 6h0m6-12h0m2-21h0m10 20h0m2-5h0m0-14h0m5 30h0m7-7h0m4-10h0m0-17h0m9 16h0m2-7h0m2 21h0m4-31h0m1 20h0m2-9h0m2-13h0m1 3h0m1 35h0m0-8h0m0-2h0m5 6h0m1-33h0m4 27h0m3-7h0m0 14h0m4-13h0m5 2h0m6 6h0m6-13h0m1-1h0m3 22h0m0-36h0m3-2h0m2 29h0m3 4h0m0-24h0m0 16h0m0-21h0m1 20h0m0-11h0m2 4h0m3-12h0m1 22h0m1 1h0m5-10h0m2-14h0m-243 70h0m1-22h0m41 13h0m33-12h0m2 17h0m9 5h0m11-34h0m3 24h0m2 1h0m2-13h0m2-2h0m0-5h0m3 1h0m1 13h0m4 13h0m4-31h0m3 18h0m2-3h0m4 8h0m12-22h0m1-2h0m6 32h0m3-25h0m1 24h0m9-10h0m1-7h0m1 9h0m1-10h0m0 16h0m1-12h0m3 9h0m6 8h0m2-25h0m1 25h0m3 1h0m6-17h0m0 11h0m5-15h0m4 13h0m0-10h0m2 2h0m0 8h0m1-11h0m1-11h0m0 33h0m1 0h0m0-5h0m1-27h0m4 27h0m4 5h0m1-1h0m5-37h0m4 28h0m2-2h0m1-3h0m3 1h0m2-19h0m3 23h0m12 0h0m3 6h0m-209 43h0m10-29h0m1-2h0m5-7h0m10 20h0m11 12h0m16-31h0m14 37h0m4-20h0m11-13h0m0 8h0m3 16h0m4-20h0m3 25h0m3 1h0m1-30h0m1 30h0m1-32h0m0 10h0m9 23h0m6-24h0m6-8h0m7 35h0m11-24h0m7 5h0m3 15h0m2-32h0m3 13h0m0 1h0m8 9h0m0 5h0m1 1h0m1-22h0m0 2h0m1 21h0m6-28h0m1-3h0m2 24h0m2 12h0m1-1h0m1 0h0m0-30h0m1 2h0m2-6h0m2 19h0m3-20h0m1 16h0m1 6h0m8-3h0m1 3h0m0 3h0m0 5h0m1 2h0m0-9h0m1 2h0m0-14h0m1 18h0m1-25h0m0 11h0m0 7h0m1 15h0m1-2h0m2 1h0m3-27h0m0 11h0m1-3h0m0 3h0m-241 41h0m56-3h0m12-13h0m11 14h0m12-15h0m2 1h0m27 19h0m1-4h0m6-7h0m14 9h0m0-18h0m1-2h0m0 11h0m31 7h0m1-4h0m1-1h0m1 0h0m2-6h0m2 6h0m2 6h0m10-19h0m5 22h0m2-23h0m2 18h0m2-8h0m2-3h0m2 5h0m4 7h0m1 2h0m5-9h0m2-6h0m3 13h0m1-9h0m2 10h0m2-19h0m3 22h0m2-26h0m3 17h0m1-7h0m4-1h0" stroke="#0a9af5" stroke-opacity="0.47" stroke-width="8.8" stroke-linecap="round" fill="none"/>
<path d="M1320 160h0m62 27h0m38-14h0m-108 95h0m-87 33h0m51 8h0m6 7h0m57-15h0m25 14h0m10-23h0m3 15h0m35 9h0m0-12h0m8 5h0m-173 26h0m1 15h0m41-15h0m0 20h0m9-10h0m0 7h0m9-1h0m12 2h0m6 4h0m0-7h0m3-16h0m13 25h0m5-1h0m2-14h0m3 12h0m9-12h0m2 0h0m2 3h0m7-27h0m2 33h0m6-3h0m1-9h0m1 16h0m0-5h0m13-10h0m0 7h0m1-12h0m1-2h0m1 17h0m1-26h0m4-3h0m1 25h0m0-8h0m3 3h0m1 16h0m1-8h0m2-9h0m2-15h0m1-4h0m0 19h0m1-15h0m2 5h0m4-6h0m4 31h0m1-11h0m0-9h0m1 13h0m0-29h0m-194 72h0m2-15h0m15 15h0m4-21h0m19 22h0m7-16h0m4-12h0m5 16h0m3-1h0m1-19h0m4 14h0m6 5h0m4 4h0m7 11h0m2-21h0m6 15h0m4 2h0m0-13h0m1 1h0m10-2h0m6 20h0m4 1h0m0-34h0m1 26h0m3-4h0m1-3h0m0 10h0m6 3h0m0-28h0m9-5h0m1 8h0m2 23h0m1-26h0m7 9h0m1 4h0m0-18h0m4 26h0m2 7h0m2-10h0m2 1h0m0-21h0m3 20h0m3 10h0m5-13h0m1-19h0m0 27h0m1 6h0m1-17h0m4 2h0m5-5h0m1-16h0m1 16h0m1-11h0m1 2h0m1 23h0m0-25h0m0 7h0m1 3h0m2 11h0m2-6h0m1 2h0m0-19h0m3 10h0m0 16h0m-243 28h0m1-14h0m61 19h0m6-8h0m30 2h0m0-7h0m2-5h0m2 5h0m1-2h0m0 27h0m2-25h0m1-6h0m1 23h0m6-4h0m0-24h0m9 6h0m3 10h0m2 22h0m6-12h0m1-6h0m13-20h0m3 28h0m1-20h0m2 22h0m5 2h0m12-24h0m1 30h0m0-12h0m2-17h0m10 23h0m3-29h0m3 33h0m6-15h0m3 6h0m4-21h0m6-4h0m0 19h0m4-20h0m8 32h0m1-8h0m3-10h0m7-2h0m1 22h0m2-5h0m2-14h0m1-16h0m0 17h0m0 2h0m2 3h0m1 17h0m3-21h0m2 2h0m-213 33h0m29 21h0m4-6h0m1 10h0m2-25h0m1 26h0m14-13h0m3-22h0m8 13h0m12 5h0m3 8h0m5-8h0m0-19h0m4 29h0m3-10h0m2-20h0m3 12h0m7-1h0m1 8h0m2-13h0m0-4h0m5 6h0m1 11h0m3 18h0m1-19h0m1 2h0m2 1h0m7 0h0m0 3h0m7-15h0m4-5h0m0-1h0m1 32h0m1-30h0m3 4h0m9 16h0m0 9h0m6-6h0m1-23h0m7 28h0m2-24h0m0-11h0m5 26h0m3-3h0m8-17h0m0 25h0m1-20h0m2 23h0m0-13h0m1-10h0m0 13h0m1-6h0m1 10h0m1-1h0m1-6h0m1 11h0m0-25h0m6 27h0m2 2h0m1-20h0m0-15h0m0 16h0m3 21h0m0-23h0m2 18h0m0-15h0m3-12h0m0 15h0m1 1h0m2-9h0m1 18h0m1-12h0m1-18h0m-180 63h0m7 7h0m7-4h0m13-4h0m4-1h0m6 1h0m6-14h0m1 19h0m8 11h0m2-1h0m8-5h0m2-24h0m3 26h0m16-6h0m3-6h0m0-10h0m4 16h0m1-13h0m2-12h0m7 15h0m5 8h0m1 8h0m0 0h0m12-33h0m3 14h0m2 22h0m1-24h0m2 6h0m3-7h0m5 20h0m6-30h0m3 20h0m7-8h0m3 3h0m3 14h0m1-28h0m0 4h0m1 18h0m4-10h0m5-10h0m1 29h0m2-3h0m0-8h0m3-13h0m2 12h0m0 10h0m0-7h0m1-16h0m2 13h0m1-19h0m1-4h0m-241 42h0m25 23h0m26 7h0m15 4h0m14-24h0m1-11h0m2-1h0m2 10h0m17-9h0m8 25h0m2-8h0m0-1h0m1 22h0m2-27h0m2 17h0m5 10h0m7-8h0m10-21h0m2 15h0m1-21h0m8 10h0m1 0h0m6 15h0m0-17h0m2 18h0m5 1h0m3-1h0m1 6h0m11-24h0m1 24h0m3-28h0m3 6h0m3-1h0m0 24h0m1-31h0m1 22h0m8 4h0m0-18h0m7 10h0m1-11h0m0-12h0m1 15h0m3-7h0m1-9h0m4 2h0m0 31h0m1 1h0m0-8h0m1-12h0m3-11h0m4 10h0m5-8h0m2 6h0m1 15h0m0 13h0m2-33h0m2-3h0m0 1h0m0 15h0m1-1h0m1 12h0m0-18h0m1 17h0m0-15h0m1 21h0m-201 12h0m3-1h0m1 17h0m28 0h0m2 2h0m3-11h0m9-3h0m5-5h0m5-5h0m43 15h0m11 3h0m4 6h0m1-8h0m14-15h0m18 12h0m6 7h0m7 1h0m3 4h0m1-11h0m3 3h0m1 6h0m2 1h0m3-24h0m3-1h0m2 10h0m2 14h0m1-9h0m0-7h0m1-6h0m2 22h0m0-11h0m1 5h0m2-2h0m6-16h0m0 19h0m6-3h0m1 9h0m2-13h0" stroke="#0a9af5" stroke-opacity="0.47" stroke-width="8.8" stroke-linecap="round" fill="none"/>
<path d="M1477.2 580.7 L1502.6 580.7 L1499.5 520.1 L1496.1 453.6 L1493.9 387.2 L1489.5 346.6 L1482.5 333.7 L1477.2 335.7 L1477.2 580.7Z" fill="#ff2424"/>
<path d="M1474 335h0m1 3h0m0 11h0m1 0h0m1-11h0m1-3h0m1 0h0m1 4h0m4-8h0m1 19h0m0-13h0m1 2h0m0-2h0m1 16h0m1 5h0m1-11h0m0-2h0m2-1h0m0-3h0m1 13h0m2 1h0m0-3h0m-20 38h0m0-26h0m0 11h0m2-10h0m1 8h0m0 2h0m1 5h0m1-10h0m0 4h0m0 1h0m1-12h0m1 4h0m0 21h0m0 11h0m0-28h0m0 3h0m5-14h0m3 17h0m1-16h0m0 4h0m1 11h0m0-1h0m0-5h0m1 12h0m3 0h0m2 3h0m0 11h0m-24 13h0m1 14h0m0-3h0m1 16h0m0-34h0m2 7h0m2 28h0m1-36h0m0 18h0m1 16h0m0-11h0m0-17h0m0 15h0m0 16h0m1-20h0m8-17h0m1 5h0m0 26h0m0-5h0m1-14h0m1-11h0m0 6h0m1 25h0m1-33h0m0 11h0m1-8h0m0 14h0m0 9h0m0-13h0m2 18h0m0 1h0m0-16h0m-25 41h0m1 22h0m1-19h0m0 6h0m0-6h0m0 19h0m1-17h0m0 1h0m0-11h0m1-4h0m0-2h0m1 5h0m0-7h0m0 35h0m1-18h0m0 2h0m1-15h0m0-2h0m2 19h0m0 2h0m0 0h0m0-13h0m0-13h0m10 30h0m2-13h0m1-5h0m1-10h0m0 15h0m1 20h0m1-28h0m1 0h0m0-1h0m1 28h0m-27 9h0m2 25h0m0-29h0m0 17h0m1-4h0m0 8h0m0 8h0m2-2h0m0-11h0m1-14h0m1 1h0m0 20h0m1-2h0m0 16h0m13-38h0m1 3h0m0-3h0m0 27h0m0-18h0m0 23h0m0-4h0m1-10h0m0-13h0m0 29h0m1-6h0m0-28h0m0 37h0m0-10h0m1-10h0m1 2h0m1-18h0m0 37h0m0-24h0m2 17h0m0-18h0m-27 54h0m0-14h0m0 20h0m1-21h0m0 8h0m0 7h0m0 6h0m1-18h0m1-12h0m0 5h0m0 20h0m1-20h0m1-1h0m0 24h0m1-3h0m0-6h0m1-16h0m13-5h0m1 22h0m1 9h0m0-21h0m1-5h0m0 11h0m1-17h0m1 11h0m0 24h0m0-33h0m0 12h0m2-14h0m0 8h0m1 1h0m0 10h0m0 3h0m1 16h0m0-11h0m1 5h0m-31 18h0m1-9h0m0 15h0m1 0h0m2 3h0m1 0h0m1-15h0m0 4h0m1-7h0m1 0h0m7 19h0m7-1h0m1 0h0m1-20h0m0 24h0m1-13h0m0-7h0m0 15h0m0-5h0m1-1h0m2 2h0m2 10h0m0-7h0" stroke="#ff2424" stroke-opacity="1" stroke-width="8.8" stroke-linecap="round" fill="none"/>
<path d="M1535 165h0m41 27h0m-96 43h0m39-22h0m-44 38h0m4 18h0m1 7h0m0-6h0m0-18h0m1 25h0m4-26h0m2 2h0m13-12h0m0 16h0m20-3h0m13 21h0m16-28h0m-75 36h0m1 26h0m3 1h0m1 0h0m1-9h0m3-13h0m1 5h0m2 25h0m1-5h0m1-27h0m1 28h0m0 2h0m3-10h0m0-12h0m0 11h0m1-19h0m3 27h0m1-13h0m8 18h0m1-9h0m0 9h0m0-38h0m1 17h0m11 16h0m2-5h0m5 8h0m18 0h0m5 1h0m27-22h0m-101 47h0m0-20h0m1 22h0m1 15h0m0-28h0m1 10h0m0 6h0m1 0h0m0 0h0m0-20h0m3 1h0m0-3h0m3 3h0m0 7h0m1-8h0m2 5h0m1-2h0m0 0h0m5-7h0m3 11h0m4 4h0m4 2h0m6 12h0m1-26h0m1 26h0m2-23h0m1 7h0m1-8h0m3-2h0m6 6h0m3 23h0m9-30h0m16 34h0m141-8h0m-218 37h0m1 4h0m1-25h0m0 22h0m1 1h0m0-20h0m2 21h0m1-14h0m2-4h0m2-3h0m2 7h0m0 17h0m2-33h0m0 9h0m3 22h0m0-19h0m8-2h0m2-9h0m2 32h0m3-27h0m10-3h0m2 1h0m4 31h0m1-13h0m2-2h0m5-2h0m2 10h0m-60 16h0m2 32h0m0-20h0m1 3h0m0-4h0m1-5h0m1-5h0m1 11h0m1 15h0m4 2h0m1-9h0m1 12h0m4-23h0m2 21h0m0-11h0m0 8h0m2-10h0m3-15h0m0 24h0m2-15h0m6-5h0m1-8h0m1 9h0m3 10h0m2 10h0m2-1h0m5-6h0m1-18h0m2-1h0m2 17h0m1-21h0m2 30h0m4-24h0m3 15h0m10-13h0m13-5h0m47 34h0m20-31h0m-149 59h0m1 5h0m1-20h0m0-1h0m1 17h0m0-5h0m0 12h0m2-33h0m0 35h0m3-29h0m1 2h0m2 21h0m4-18h0m0 8h0m5 2h0m0-9h0m6-2h0m2 27h0m0-37h0m1 9h0m1 20h0m0-14h0m0 0h0m1 21h0m0 1h0m1-29h0m2 15h0m2-10h0m1 14h0m1-3h0m4-24h0m9 20h0m5-3h0m2-12h0m11 4h0m22 27h0m-94 36h0m0-6h0m1-15h0m2 23h0m2-30h0m0 6h0m1 17h0m2-3h0m1 13h0m2-36h0m0 23h0m0-7h0m2 6h0m3-17h0m2 25h0m1-23h0m4 2h0m3-1h0m0-1h0m2 2h0m3 14h0m1 6h0m8-21h0m4 19h0m1-5h0m0-15h0m0 2h0m2-6h0m0 26h0m2-24h0m6 3h0m3 3h0m4 3h0m2-14h0m26 27h0m4-19h0m5 22h0m21-11h0m69 12h0m-188 6h0m2 14h0m1 22h0m0-8h0m0-17h0m2-1h0m1 11h0m2 5h0m0-9h0m5 17h0m1-6h0m3-24h0m3 3h0m1 28h0m1-20h0m2 5h0m0 17h0m10-13h0m1 2h0m4 7h0m0-32h0m2 27h0m2-17h0m1-7h0m6 22h0m0-17h0m1 25h0m4-33h0m4 5h0m2 27h0m9-23h0m19-2h0m57 7h0m-146 43h0m8-2h0m0 0h0m0 7h0m1-21h0m1 12h0m0-14h0m3 18h0m1-18h0m1 15h0m4 9h0m16 2h0m4-18h0m4 18h0m0-1h0m1-2h0m3-3h0m8-17h0m7-2h0m23 0h0m11 18h0m6-19h0" stroke="#ff2424" stroke-opacity="0.45" stroke-width="8.8" stroke-linecap="round" fill="none"/>
<path d="M1548 127h0m-71 52h0m20-18h0m-20 71h0m0 1h0m27 2h0m29 2h0m8-5h0m-66 46h0m3-7h0m0-14h0m6 13h0m2-1h0m1 1h0m4-10h0m5-14h0m6 4h0m7 12h0m17-7h0m9-15h0m50 14h0m-111 26h0m0 24h0m1 13h0m1-15h0m2-21h0m0 0h0m1 19h0m1-6h0m2-5h0m1 1h0m1 24h0m1-4h0m3-23h0m0 31h0m0-14h0m2 7h0m1-24h0m1-1h0m1 18h0m0-20h0m3 23h0m3 5h0m1-24h0m1 10h0m10 13h0m11 3h0m0-10h0m0 9h0m4-6h0m12-2h0m5 10h0m-68 31h0m0-26h0m0 13h0m4 20h0m2-18h0m1 6h0m1 1h0m1 0h0m0-1h0m0 5h0m1 12h0m1-5h0m0-3h0m1-28h0m1 9h0m0-10h0m1-1h0m4 36h0m4-1h0m4-27h0m6 11h0m1-12h0m13 16h0m0-15h0m-47 71h0m2-23h0m0-7h0m1 10h0m0-19h0m1 27h0m0 4h0m0-12h0m2 6h0m1 6h0m0-2h0m0-17h0m0 19h0m1-4h0m1-8h0m1-15h0m0 5h0m2 19h0m1-23h0m2 10h0m2-12h0m1 17h0m2-20h0m1 10h0m1 1h0m1 4h0m2 12h0m1 6h0m1-25h0m3 27h0m1-10h0m1-17h0m3 19h0m2 4h0m1 1h0m7 0h0m8 5h0m1-8h0m7-28h0m5 18h0m1 17h0m1 1h0m2-1h0m1-6h0m5-24h0m2 9h0m36-12h0m13 19h0m7-19h0m-134 46h0m0 15h0m3-2h0m0 12h0m0-25h0m1 15h0m0-22h0m1 25h0m0-22h0m0 0h0m2 5h0m2 19h0m2-15h0m1 6h0m1 10h0m2-8h0m0 9h0m0-6h0m2-11h0m0 1h0m0-3h0m4 8h0m8 3h0m0 3h0m5-18h0m4-7h0m9 38h0m0-25h0m2-13h0m0 4h0m4 2h0m1 1h0m0 9h0m2 7h0m0 13h0m9 2h0m3-30h0m20-4h0m10 18h0m4-8h0m-103 33h0m2 21h0m0-5h0m0-18h0m1 32h0m1-22h0m1 21h0m1 0h0m0-32h0m1 5h0m8 0h0m0 16h0m4-25h0m3 24h0m1 0h0m1-23h0m1 32h0m0-33h0m1 19h0m0 11h0m1-28h0m0 32h0m2-2h0m3-13h0m5 11h0m3-10h0m1-18h0m0 30h0m13-1h0m1-23h0m4-7h0m11 0h0m1 13h0m5-7h0m2 21h0m61-3h0m79-18h0m-216 55h0m0-1h0m0-10h0m0 23h0m0 3h0m1-33h0m3 18h0m2-12h0m1-9h0m0 32h0m2-23h0m0 18h0m2 3h0m1-9h0m1 0h0m2 8h0m1-2h0m1-14h0m1 10h0m4-9h0m1 11h0m4 12h0m1-31h0m1 10h0m2-9h0m3 23h0m9-1h0m0-21h0m2 17h0m5-20h0m2-5h0m8 27h0m4-27h0m2 14h0m2-10h0m11-3h0m4 13h0m58-5h0m2-3h0m-144 54h0m3 9h0m1-8h0m1 1h0m0-18h0m0 17h0m2-20h0m1 20h0m1 8h0m1 4h0m2-31h0m1 32h0m1-26h0m1 16h0m0 4h0m3-25h0m1 21h0m2-19h0m0-2h0m2 19h0m2-17h0m0-1h0m2 21h0m1-16h0m2-11h0m0 38h0m6-21h0m1 16h0m3-2h0m1-11h0m3 12h0m9-21h0m6-6h0m13 7h0m12 25h0m6-35h0m4 1h0m76 5h0m-171 52h0m3-5h0m1 4h0m0-2h0m1-14h0m3 16h0m1-4h0m1-11h0m0 0h0m2 16h0m0-11h0m1 8h0m0-2h0m2-7h0m1 18h0m1-3h0m4-19h0m1 10h0m2 1h0m1 5h0m1-1h0m0-13h0m1 11h0m1 3h0m3-17h0m1 21h0m0-8h0m3-16h0m3 2h0m3 19h0m4-21h0m3 20h0m1-8h0m1-11h0m2 22h0m1-21h0m0 8h0m3-5h0m34-3h0m20 12h0" stroke="#ff2424" stroke-opacity="0.45" stroke-width="8.8" stroke-linecap="round" fill="none"/>
<path d="M1506 121h0m18 23h0m-17 21h0m3 31h0m-34 34h0m11-3h0m-12 21h0m2 23h0m7 7h0m1-26h0m0 10h0m2 5h0m1-5h0m3 5h0m0-4h0m6 11h0m3-6h0m-24 23h0m0-9h0m2 28h0m0 7h0m1-23h0m1 18h0m4-24h0m1 7h0m1 11h0m1-3h0m1-3h0m1 4h0m1-4h0m2 12h0m0 5h0m1-23h0m6-7h0m1 28h0m0-23h0m1 24h0m10-2h0m5-7h0m30-7h0m-73 34h0m2-7h0m1 18h0m0-10h0m0-12h0m0 28h0m1 1h0m2 1h0m0-8h0m3-10h0m1 0h0m1 20h0m3-5h0m1-23h0m2 14h0m2-12h0m1 5h0m7 21h0m0-3h0m3 2h0m1-24h0m3-6h0m0 13h0m3 18h0m2-13h0m4 5h0m1-18h0m1 6h0m3 20h0m18-23h0m7-6h0m23 32h0m7-1h0m-101 6h0m0 0h0m1 11h0m0-8h0m1 4h0m1 27h0m1-16h0m0-21h0m1 16h0m2 22h0m0-31h0m0 1h0m2-3h0m2 5h0m2 1h0m1 3h0m2-11h0m0 1h0m0-3h0m3 1h0m0 21h0m1-15h0m3-7h0m2 28h0m1 0h0m2-19h0m0 2h0m1 6h0m1-9h0m1 17h0m0-17h0m5 29h0m6-10h0m1-18h0m5 20h0m0 3h0m3 2h0m9-30h0m3 11h0m4-12h0m1 31h0m5-26h0m17 22h0m9-1h0m11-12h0m21-6h0m3-1h0m-135 39h0m2 3h0m0-5h0m1-2h0m1 9h0m0 16h0m0-12h0m0-17h0m2 20h0m1 9h0m0-9h0m1 7h0m0-4h0m1 11h0m0-27h0m0-9h0m0 4h0m1 25h0m0 7h0m1-4h0m0-15h0m0-9h0m1 31h0m2-29h0m3-5h0m4 8h0m1-8h0m1-1h0m3 1h0m0 11h0m0-3h0m0-6h0m2 25h0m2-15h0m3 13h0m2 1h0m2 0h0m6-8h0m0 14h0m1-27h0m2 15h0m3-16h0m13-4h0m4-2h0m4 32h0m41-3h0m17-2h0m26-10h0m-152 34h0m0 0h0m0 4h0m4-9h0m0-5h0m1 35h0m0-38h0m0 5h0m0 32h0m2-12h0m2-20h0m1-5h0m0 2h0m1 33h0m0-22h0m2 24h0m0-33h0m0 30h0m2-14h0m1 9h0m3 7h0m4-15h0m1 16h0m2-30h0m2-3h0m2 11h0m3-10h0m2 17h0m1-22h0m6 8h0m3-4h0m10 25h0m1-4h0m7-20h0m12 12h0m5 7h0m1-22h0m54-3h0m14 11h0m-151 53h0m1-9h0m1 5h0m0 10h0m2-15h0m2-5h0m0 28h0m0-2h0m0-9h0m2-11h0m1 14h0m0-13h0m4-17h0m1 24h0m0-7h0m0 13h0m2-7h0m1-19h0m2-1h0m4 2h0m1 15h0m0 19h0m1-31h0m0 27h0m2-35h0m1 21h0m1-16h0m1 34h0m1-26h0m2 10h0m1 16h0m2-3h0m4-2h0m1-8h0m0-22h0m2-1h0m5 8h0m1 12h0m3 15h0m8-38h0m4 16h0m6 19h0m35-34h0m4 2h0m2 16h0m28-6h0m46-8h0m-186 44h0m1-6h0m1 18h0m0-13h0m0 14h0m0 8h0m1-8h0m1 14h0m2-2h0m0-18h0m1-3h0m1 3h0m1-16h0m1 10h0m0 10h0m2-2h0m0-3h0m1-8h0m0 30h0m0-24h0m1 8h0m1-18h0m3 1h0m1 17h0m3-15h0m2 17h0m2 16h0m3-34h0m6-4h0m5 15h0m1 0h0m6 20h0m5-15h0m6 11h0m5-16h0m16 20h0m2-15h0m2 1h0m0 17h0m24-24h0m3 3h0m67-2h0m-176 31h0m0-4h0m1 6h0m2 17h0m0-2h0m2-15h0m6 4h0m4 1h0m5 1h0m8 2h0m0-9h0m0 18h0m0-17h0m6 6h0m2-5h0m10 7h0m6 1h0m8-9h0m5-6h0m66 4h0m1-4h0m45-3h0" stroke="#ff2424" stroke-opacity="0.45" stroke-width="8.8" stroke-linecap="round" fill="none"/>
<path d="M1475 163h0m13 31h0m-15 9h0m4 32h0m22-20h0m-25 64h0m1-8h0m8 3h0m5-31h0m10 26h0m1-13h0m20-10h0m7 23h0m-53 32h0m1 16h0m0-9h0m1-18h0m1-4h0m0-2h0m1 28h0m0-21h0m0 8h0m3-10h0m1 8h0m1 14h0m0-6h0m2 14h0m0-5h0m2-13h0m2 7h0m1-26h0m0 33h0m0-13h0m1 9h0m0-10h0m0 15h0m1-18h0m5 3h0m1 9h0m3-15h0m1 16h0m1 3h0m11-8h0m14-9h0m3 11h0m3-5h0m11 15h0m-71 34h0m0 4h0m3-5h0m0-14h0m0-16h0m1 2h0m1-3h0m0 11h0m2 14h0m2 5h0m2-14h0m0 15h0m1-24h0m0 14h0m1-18h0m0 26h0m2 1h0m1-1h0m1-10h0m3 8h0m1-23h0m0-4h0m7 27h0m3-6h0m1-3h0m1-2h0m2 14h0m3-22h0m5 2h0m2 26h0m0-18h0m3 2h0m4 16h0m5 3h0m0-18h0m5 7h0m1-9h0m4 2h0m4-9h0m4 8h0m0 10h0m-75 19h0m1 23h0m0-27h0m1-3h0m1 21h0m0 4h0m2 4h0m0-10h0m1 11h0m1-12h0m3 6h0m1 10h0m1-5h0m1-4h0m3-16h0m1-2h0m1 8h0m0 3h0m0-20h0m0 39h0m1-39h0m1 1h0m2 13h0m1 18h0m1-1h0m1-13h0m3-11h0m1 27h0m0-21h0m0-3h0m3 16h0m1 10h0m1-11h0m1-23h0m2 26h0m0-4h0m0-17h0m1 3h0m0 11h0m1 10h0m0-15h0m1-6h0m1 22h0m5-14h0m1 16h0m1-14h0m4 13h0m8-8h0m2 4h0m11-26h0m1 35h0m12-12h0m9 6h0m16-29h0m23 16h0m4 20h0m-134 2h0m0 19h0m0-16h0m1 34h0m0-9h0m1-9h0m0 5h0m0-24h0m1 33h0m1-23h0m0 10h0m1 5h0m9 9h0m7-20h0m0 5h0m5 5h0m3-3h0m4 14h0m4-22h0m0 24h0m2-26h0m2 25h0m3-2h0m16-2h0m34-16h0m2 13h0m-99 42h0m1-25h0m1 13h0m1 4h0m0-21h0m2 31h0m1-25h0m0 21h0m2-16h0m1 17h0m0-17h0m0-9h0m0 0h0m3 33h0m2-38h0m1 1h0m1 11h0m1 5h0m1-3h0m0 22h0m0-33h0m1 23h0m0-7h0m0-1h0m1 18h0m6-20h0m3 17h0m0 5h0m1-23h0m3-7h0m0 16h0m2-17h0m0-1h0m3 25h0m7-7h0m16-1h0m1-7h0m14-15h0m24 11h0m95 3h0m-195 25h0m0 8h0m1 28h0m2-11h0m3 0h0m0-6h0m3 14h0m1-27h0m0 31h0m0-20h0m2 11h0m4 2h0m1 9h0m4-24h0m5 3h0m0 18h0m0-5h0m0-4h0m0-5h0m1 13h0m5 3h0m0-23h0m4-2h0m6-7h0m1 12h0m5 17h0m1-8h0m1 11h0m2-24h0m1 12h0m2-12h0m2 12h0m2-19h0m5 1h0m1 18h0m2-14h0m4-11h0m1 12h0m9 0h0m2 11h0m-82 28h0m0 22h0m1-20h0m3 4h0m0-5h0m1-3h0m0 8h0m1 20h0m2-36h0m1 8h0m1 13h0m0-7h0m2 15h0m1-25h0m3 14h0m0 6h0m1 7h0m1-1h0m2-10h0m0 14h0m0-6h0m1-10h0m10 10h0m0-5h0m3-5h0m3-12h0m3 27h0m3-32h0m1 0h0m0 8h0m2 5h0m5 12h0m10-22h0m0 22h0m2 3h0m1-23h0m4 30h0m-70 5h0m3 13h0m1 0h0m5-10h0m2 15h0m6 1h0m0-9h0m1 10h0m5-12h0m0-10h0m1 4h0m7 3h0m8 7h0m18 8h0m9-16h0m7 10h0" stroke="#ff2424" stroke-opacity="0.45" stroke-width="8.8" stroke-linecap="round" fill="none"/>
<path d="M1479 186h0m20 8h0m-25 42h0m101-18h0m-97 61h0m6-12h0m3 4h0m1-6h0m3 14h0m0-39h0m3 16h0m12-6h0m1 0h0m10 22h0m30 7h0m34-8h0m-107 23h0m0 19h0m1-25h0m1 10h0m2 11h0m1-24h0m0 20h0m1 8h0m0-29h0m2 31h0m0-8h0m1-16h0m4 15h0m2-24h0m3 11h0m3 7h0m0 15h0m0-17h0m1 2h0m21 18h0m2 1h0m1-15h0m6 6h0m-51 23h0m1 24h0m1-27h0m1 24h0m1-8h0m2 11h0m0-11h0m1-16h0m0 24h0m0-14h0m2-11h0m0 5h0m8 13h0m0-20h0m1 23h0m0 9h0m1-5h0m1-17h0m7-11h0m5 22h0m1-2h0m0-8h0m1 4h0m4 5h0m2 10h0m3-12h0m1-17h0m1 1h0m11 19h0m17-28h0m6 33h0m4-14h0m6-3h0m0 5h0m19-7h0m-109 65h0m1-31h0m0 0h0m1 11h0m0-18h0m0 5h0m0 33h0m1-27h0m0 0h0m2-10h0m1 14h0m0-3h0m0 10h0m2-14h0m1 20h0m0-3h0m1 3h0m4 3h0m0-3h0m0 9h0m1-3h0m2-23h0m0 3h0m1-13h0m2 32h0m4-6h0m6-19h0m21 25h0m1-18h0m7-8h0m5 3h0m2 24h0m19 2h0m4-22h0m12-10h0m11 6h0m1 22h0m2-2h0m19-4h0m-134 51h0m0-3h0m0-12h0m2 14h0m1-23h0m0-9h0m2 11h0m0 1h0m0-4h0m0 6h0m1-1h0m1-7h0m0-4h0m0 28h0m1 1h0m1 3h0m1 0h0m0-6h0m1-16h0m7-2h0m1 8h0m5 8h0m0-12h0m1 1h0m2-10h0m2 4h0m2 25h0m2-29h0m1 21h0m1-7h0m4 5h0m0 5h0m1 1h0m0-28h0m1-2h0m3 16h0m1 13h0m4-4h0m4-3h0m1-8h0m1 20h0m4-19h0m7-5h0m2 12h0m5-2h0m6-3h0m4-20h0m19 11h0m32 21h0m11-10h0m10 14h0m24-9h0m-179 36h0m1-4h0m0 14h0m2-18h0m2 13h0m1-7h0m1-13h0m0 21h0m5-10h0m0 18h0m0-35h0m2 18h0m1-17h0m1 33h0m1-31h0m1 18h0m0 13h0m0-9h0m1-16h0m1-1h0m1 14h0m0-3h0m1 14h0m2-24h0m5 6h0m3-11h0m0 28h0m0-13h0m4 13h0m2-26h0m5-5h0m4 24h0m2 6h0m2 2h0m1-1h0m2-27h0m7 13h0m5-5h0m6-6h0m6 15h0m7 11h0m-85 28h0m0-6h0m1 5h0m3 3h0m0-16h0m0-6h0m2-1h0m1 1h0m2-1h0m0 23h0m2-27h0m0 9h0m0 21h0m0 3h0m2-23h0m0-4h0m1 33h0m0-4h0m3-20h0m0 0h0m5 22h0m3-29h0m0 29h0m5-17h0m2-9h0m1 2h0m1 16h0m10-22h0m5 19h0m4-23h0m1 27h0m0-25h0m15-5h0m-67 73h0m1-13h0m0-16h0m0 18h0m1-17h0m1 15h0m4 5h0m1-8h0m1 0h0m1 17h0m1-32h0m1 23h0m0-24h0m0 24h0m1 2h0m1-11h0m1 22h0m1-26h0m1 0h0m1-11h0m3 25h0m0-7h0m4-3h0m1-15h0m2 33h0m1-20h0m1 5h0m0 19h0m0-6h0m2 0h0m5 4h0m6-36h0m1 24h0m9-15h0m11 17h0m4-18h0m16 15h0m2-11h0m55 9h0m71 18h0m-215 24h0m2-18h0m0 3h0m1-2h0m0-4h0m1 20h0m4-16h0m1-2h0m0 20h0m1-16h0m1 6h0m2 3h0m2-3h0m7-14h0m7 13h0m8 2h0m10-4h0m8 15h0m10-17h0m17-8h0m34 12h0m88 5h0" stroke="#ff2424" stroke-opacity="0.45" stroke-width="8.8" stroke-linecap="round" fill="none"/>
<path d="M1493 130h0m-19 109h0m7-23h0m5 18h0m10 2h0m49-18h0m-71 59h0m0-1h0m3-3h0m3 4h0m9 1h0m6-2h0m7-16h0m84 18h0m5-13h0m-117 18h0m1 27h0m3-5h0m1-22h0m5 11h0m1 23h0m1-3h0m0-1h0m0-21h0m1 25h0m2-17h0m1 10h0m1-18h0m1 7h0m1 5h0m3 0h0m2 2h0m2-12h0m1 4h0m3 8h0m0-4h0m3-21h0m8 31h0m19 6h0m-61 33h0m1-10h0m0-1h0m0 17h0m2-30h0m2 0h0m1 19h0m0-4h0m3-19h0m1 20h0m1 0h0m0 0h0m0-12h0m4-11h0m3 30h0m3-1h0m1-2h0m1-10h0m5-6h0m0 2h0m1 18h0m4-4h0m3 8h0m1-30h0m8 16h0m4-21h0m2 10h0m12-5h0m1 33h0m4-5h0m18-5h0m1-6h0m2-22h0m-87 57h0m1 22h0m1-28h0m1 3h0m0-1h0m0 20h0m1-21h0m0 24h0m1 3h0m0-13h0m1 9h0m2-13h0m0-19h0m3 31h0m1 1h0m1-17h0m3 20h0m1-18h0m0-18h0m1 5h0m1 4h0m3 14h0m0-13h0m4 24h0m1-21h0m1-10h0m5 27h0m11-20h0m3-11h0m3 33h0m1-22h0m15-6h0m8 29h0m4-25h0m4 21h0m1-28h0m2 27h0m-86 33h0m1-19h0m1 31h0m0-22h0m1 8h0m1 9h0m0 7h0m0 1h0m1-17h0m0 4h0m2 1h0m1-13h0m1 0h0m0-6h0m2 12h0m4 4h0m0 14h0m2-12h0m0-1h0m2 7h0m2-26h0m2-1h0m3 31h0m1 4h0m0-20h0m6-1h0m1 21h0m2-5h0m3-9h0m0 12h0m4-4h0m4-25h0m10 20h0m10-25h0m1 8h0m3-6h0m3 17h0m20-8h0m12-11h0m-107 50h0m3-8h0m0 21h0m1-13h0m0 26h0m2-3h0m4-18h0m2 14h0m0-19h0m3-2h0m2 13h0m1-12h0m1 5h0m4 15h0m4-3h0m0-3h0m1-8h0m2-4h0m4 9h0m1 8h0m4-14h0m3 18h0m3-19h0m1 1h0m5-16h0m0 7h0m4 0h0m3 18h0m4 6h0m6 4h0m3-2h0m1 5h0m6-10h0m15-24h0m7 16h0m-99 29h0m1 5h0m1 11h0m1 3h0m2-1h0m0-18h0m1 8h0m1-14h0m0-3h0m2 20h0m1-16h0m1 9h0m0 21h0m0-3h0m0-18h0m2 14h0m0-21h0m2-3h0m1 0h0m1 20h0m1 7h0m0 5h0m1-14h0m1-7h0m1 3h0m2-14h0m3 4h0m1 17h0m2 13h0m12-6h0m12 3h0m0-1h0m6-2h0m5-5h0m0-19h0m6 16h0m10-16h0m24 24h0m11 7h0m16-6h0m9-24h0m-141 31h0m1 35h0m0-17h0m1 10h0m1-5h0m0-4h0m3-6h0m0 16h0m1 10h0m2-10h0m2-15h0m1 3h0m0 21h0m3-9h0m1-19h0m5 20h0m0-14h0m2 15h0m0-26h0m2 18h0m1 7h0m3-28h0m5 25h0m1-14h0m0 25h0m5-4h0m1 0h0m0-5h0m3-12h0m0-1h0m1 8h0m1 15h0m5-17h0m4 13h0m3-22h0m1-5h0m3 29h0m6 0h0m7-36h0m9 7h0m2 0h0m10 17h0m7-15h0m-98 43h0m0-1h0m1 13h0m6-24h0m1-1h0m1 23h0m1-2h0m10-4h0m1-3h0m3-8h0m2 13h0m4 6h0m2-19h0m0 10h0m2 7h0m1-17h0m6 11h0m7-10h0m12-3h0m7 14h0m25 5h0m65-15h0m28 0h0" stroke="#ff2424" stroke-opacity="0.45" stroke-width="8.8" stroke-linecap="round" fill="none"/>
<path d="M1450.7 673.7 L1451.8 628.0 L1452.9 586.4 L1455.2 528.2 L1458.1 453.4 L1460.8 411.9 L1440.6 411.9 L1443.3 453.4 L1446.2 528.2 L1448.0 586.4 L1450.0 628.0Z" fill="#fff"/>
<rect x="1146.5" y="87.5" width="573.3" height="696.4" fill="none" stroke="#333" stroke-width="1.6"/>
<line x1="1226.1" y1="783.9" x2="1226.1" y2="789.9" stroke="#333" stroke-width="1.6"/>
<line x1="1338.4" y1="783.9" x2="1338.4" y2="789.9" stroke="#333" stroke-width="1.6"/>
<line x1="1450.7" y1="783.9" x2="1450.7" y2="789.9" stroke="#333" stroke-width="1.6"/>
<line x1="1563.0" y1="783.9" x2="1563.0" y2="789.9" stroke="#333" stroke-width="1.6"/>
<line x1="1675.3" y1="783.9" x2="1675.3" y2="789.9" stroke="#333" stroke-width="1.6"/>
<line x1="1140.5" y1="752.6" x2="1146.5" y2="752.6" stroke="#333" stroke-width="1.6"/>
<line x1="1140.5" y1="586.4" x2="1146.5" y2="586.4" stroke="#333" stroke-width="1.6"/>
<line x1="1140.5" y1="420.2" x2="1146.5" y2="420.2" stroke="#333" stroke-width="1.6"/>
<line x1="1140.5" y1="254.0" x2="1146.5" y2="254.0" stroke="#333" stroke-width="1.6"/>
<text x="1440.1" y="68" font-size="51" text-anchor="middle" >U87</text>
<text x="1217.1" y="835" font-size="51" text-anchor="middle" >-10</text>
<text x="1329.4" y="835" font-size="51" text-anchor="middle" >-5</text>
<text x="1450.7" y="835" font-size="51" text-anchor="middle" >0</text>
<text x="1563" y="835" font-size="51" text-anchor="middle" >5</text>
<text x="1675.3" y="835" font-size="51" text-anchor="middle" >10</text>
<text x="1139" y="770.6" font-size="51" text-anchor="end" >0</text>
<text x="1139" y="604.4" font-size="51" text-anchor="end" >2</text>
<text x="1139" y="438.2" font-size="51" text-anchor="end" >4</text>
<text x="1139" y="272" font-size="51" text-anchor="end" >6</text>
<text x="1445.7" y="884.5" font-size="51" text-anchor="middle" >log2(fold change)</text>
<text transform="translate(1091.5,466.8) rotate(-90)" font-size="51" text-anchor="middle">-log10(p-value)</text>
<rect x="1600" y="87.5" width="119.8" height="127.8" fill="#fff" stroke="#111" stroke-width="1.8"/>
<circle cx="1617" cy="107" r="8.8" fill="#ff0000"/>
<text x="1629" y="118" font-size="31" text-anchor="start" >Up</text>
<circle cx="1617" cy="149.2" r="8.8" fill="#0000ff"/>
<text x="1633" y="160.2" font-size="31" text-anchor="start" >Down</text>
<circle cx="1617" cy="191.4" r="8.8" fill="#a7afb6"/>
<text x="1630" y="202.4" font-size="31" text-anchor="start" >Non</text>
<text x="95" y="1099.4" font-size="76" text-anchor="start" textLength="45" lengthAdjust="spacingAndGlyphs">B</text>
<path d="M529.4 1344.2h0M539.6 1337.7h0M545.1 1351.6h0M569.1 1335.9h0M575.6 1331.2h0M581.1 1361.7h0M610.7 1341.4h0M606.1 1354.3h0M619.0 1350.6h0M666.1 1339.6h0M657.8 1360.8h0M668.9 1365.4h0M677.2 1359.0h0M692.9 1362.7h0M704.9 1358.0h0M705.8 1334.0h0M715.1 1342.3h0M728.0 1356.2h0M733.5 1331.2h0M731.7 1341.4h0M752.0 1337.7h0M763.1 1330.3h0M770.5 1337.7h0M781.6 1334.0h0M766.8 1358.0h0M776.0 1359.9h0M766.8 1372.8h0M796.3 1345.1h0M688.3 1381.1h0M692.0 1403.3h0M720.6 1405.1h0M732.6 1405.1h0M755.7 1407.9h0M775.1 1395.9h0M650.4 1407.9h0M790.8 1428.2h0M810.2 1443.0h0M761.2 1488.3h0M831.8 1372.0h0M821.7 1397.4h0M823.7 1409.6h0M833.9 1415.7h0M852.1 1422.8h0M855.2 1434.0h0M791.2 1427.9h0M837.9 1470.5h0M900.9 1396.4h0M892.8 1413.6h0M913.1 1368.9h0M883.6 1380.1h0M879.6 1373.0h0M895.8 1368.9h0M934.4 1382.1h0M950.7 1379.1h0M944.6 1386.2h0M958.8 1401.4h0M976.1 1387.2h0M1002.5 1401.4h0M1009.6 1386.2h0M1013.7 1391.3h0M1028.9 1393.3h0M1045.2 1392.3h0M1037.1 1380.1h0M1056.4 1365.9h0M1072.6 1374.0h0M1079.7 1358.8h0M938.5 1363.9h0M975.1 1364.9h0M1103.1 1332.4h0M745.0 1360.0h0M758.0 1352.0h0M786.0 1352.0h0M700.0 1350.0h0M690.0 1345.0h0M826.0 1346.8h0M976.9 1331.1h0M832.2 1336.3h0M807.5 1328.9h0M1087.5 1352.0h0M902.7 1330.0h0M996.4 1325.8h0M829.0 1335.3h0M998.8 1326.6h0M1045.5 1334.2h0M1097.9 1348.3h0M961.6 1333.8h0M897.7 1339.6h0M860.1 1345.5h0M1061.7 1326.7h0M934.0 1329.9h0M811.5 1333.4h0M922.2 1331.5h0M999.8 1337.6h0M1072.6 1337.6h0M795.6 1330.6h0M895.3 1345.9h0M1074.1 1338.0h0M893.2 1330.9h0M836.0 1339.2h0M931.6 1337.7h0M802.4 1333.0h0M1054.8 1343.2h0M883.5 1337.5h0M813.5 1333.0h0M792.8 1337.3h0M933.8 1327.1h0M1020.8 1337.9h0M804.8 1335.7h0M1070.7 1333.3h0M1041.8 1339.2h0M814.6 1330.9h0M878.5 1346.1h0M942.3 1346.7h0M854.3 1336.0h0M867.3 1343.1h0M1085.2 1344.2h0M924.1 1344.4h0M1023.1 1328.3h0M806.5 1331.2h0M863.2 1356.3h0M1021.6 1331.8h0M996.0 1344.6h0M1034.2 1334.4h0M832.8 1329.7h0M830.8 1338.9h0M1035.8 1328.8h0M1027.2 1327.3h0M899.7 1335.3h0M1103.6 1331.4h0M862.9 1347.3h0M804.4 1355.4h0M988.0 1330.1h0M943.9 1343.4h0M979.9 1335.0h0M797.3 1335.2h0M962.1 1328.6h0M888.6 1331.9h0M897.3 1329.3h0M885.6 1335.0h0M1076.1 1355.0h0M812.5 1338.8h0M1092.3 1335.8h0M1008.4 1341.2h0M1042.2 1338.3h0M830.9 1338.4h0M800.7 1334.1h0M1014.2 1331.2h0M1027.6 1327.7h0M1036.9 1349.9h0M829.0 1332.2h0M943.8 1333.7h0M978.2 1333.8h0M861.5 1339.8h0M899.0 1356.7h0M877.6 1334.8h0M917.4 1335.2h0M999.8 1326.6h0M867.2 1349.5h0M815.6 1343.4h0M960.2 1326.8h0M834.4 1337.5h0M1035.0 1328.8h0M1072.7 1328.2h0M880.3 1331.9h0M893.5 1334.3h0M1064.6 1334.0h0M1022.6 1335.8h0M1034.8 1334.3h0M965.5 1332.3h0M962.1 1332.6h0M1010.1 1335.0h0M943.3 1326.8h0M819.5 1328.9h0M903.4 1352.0h0M982.6 1330.5h0M921.7 1346.5h0M829.0 1342.2h0M917.0 1331.3h0M944.3 1327.2h0M948.3 1330.3h0M788.7 1335.1h0M931.7 1337.3h0M799.1 1341.8h0M956.0 1347.4h0M918.5 1334.5h0M1012.8 1330.0h0M876.9 1331.0h0M1061.6 1328.8h0M924.1 1336.5h0M1020.3 1344.0h0M810.4 1339.0h0M900.6 1329.2h0M807.8 1331.6h0M855.0 1331.9h0M1020.8 1329.8h0M794.3 1334.7h0M929.2 1346.3h0M1068.1 1329.4h0M914.7 1340.9h0M901.5 1334.3h0M968.5 1337.0h0M996.6 1337.6h0M1077.0 1336.9h0M822.4 1339.4h0M1062.6 1353.2h0M974.5 1332.4h0M904.1 1333.5h0M878.1 1349.8h0M888.7 1336.0h0M945.2 1341.6h0M1093.7 1332.9h0M940.4 1334.2h0M1084.0 1352.5h0M890.9 1332.8h0M974.5 1326.7h0M825.6 1335.2h0M909.8 1343.7h0M950.5 1329.6h0M1075.8 1340.9h0M1040.1 1344.9h0M952.1 1329.3h0M912.5 1334.5h0M1039.8 1333.7h0M794.4 1347.8h0M1014.0 1330.8h0M901.2 1331.8h0M837.0 1331.6h0M974.0 1329.7h0M1061.2 1342.9h0M1035.8 1328.8h0M793.7 1350.8h0M857.2 1336.0h0M825.8 1350.4h0M964.8 1327.2h0M901.7 1338.8h0M969.4 1325.2h0M907.8 1339.5h0M908.6 1338.3h0M961.8 1359.4h0M1090.4 1364.3h0M994.4 1335.4h0M853.6 1332.2h0M1022.9 1336.4h0M1047.1 1327.8h0M825.8 1333.6h0M848.3 1336.8h0M1004.4 1340.6h0M948.8 1326.9h0M807.5 1335.5h0M800.5 1364.0h0M1002.9 1331.4h0M879.0 1343.4h0M872.6 1334.7h0M863.9 1333.0h0M1043.6 1346.1h0M1095.7 1347.0h0M882.6 1358.2h0M883.3 1330.0h0M818.2 1330.4h0M793.0 1346.7h0M1075.1 1332.9h0M871.4 1335.9h0M1066.6 1330.7h0M905.0 1338.5h0M1037.7 1332.0h0M842.1 1352.4h0M1026.8 1337.3h0M1070.9 1334.2h0M919.4 1329.4h0M1069.1 1334.7h0M968.9 1332.5h0M907.9 1349.3h0M968.6 1330.5h0M1011.2 1329.7h0M1055.3 1330.6h0M903.8 1333.3h0M910.9 1333.2h0M814.6 1335.6h0M949.7 1336.4h0M1065.0 1329.4h0M981.9 1324.9h0M833.3 1348.4h0M961.6 1341.6h0M844.4 1331.2h0M888.2 1333.1h0M979.0 1325.8h0M888.6 1329.9h0M903.7 1330.9h0M932.2 1343.4h0M867.5 1331.0h0M1089.3 1337.8h0M1062.0 1345.5h0M1097.8 1337.5h0M1085.4 1330.2h0M966.2 1341.8h0M1015.5 1333.9h0M987.4 1343.9h0M791.8 1339.3h0M936.4 1332.3h0M869.2 1343.6h0M1099.6 1334.6h0M1092.6 1334.1h0M837.7 1333.6h0M900.3 1350.9h0M833.1 1332.0h0M1082.7 1352.2h0M984.7 1338.0h0M1022.0 1333.7h0M907.2 1331.1h0M816.1 1337.9h0M856.1 1339.5h0M888.5 1338.8h0M891.2 1341.5h0M1050.2 1328.5h0M786.7 1337.0h0M1061.1 1327.4h0M1017.2 1340.3h0M854.5 1335.4h0M862.4 1331.4h0M1002.3 1328.2h0M864.1 1343.6h0M799.5 1332.3h0M1097.9 1332.8h0M970.7 1327.5h0M1072.8 1343.3h0M1097.8 1338.1h0M835.7 1332.7h0M974.4 1337.7h0M999.0 1328.6h0M988.9 1333.8h0M998.8 1334.2h0M948.2 1339.4h0M829.7 1330.8h0M924.2 1327.9h0M887.3 1345.8h0M1011.9 1334.2h0M1094.6 1350.5h0M817.5 1336.5h0M1089.5 1342.0h0M883.8 1349.9h0M928.0 1333.2h0M934.4 1341.4h0M872.0 1330.2h0M877.0 1342.2h0M896.3 1340.6h0M835.9 1334.0h0M1080.6 1341.5h0M1053.9 1333.1h0M1068.4 1344.2h0M842.6 1342.9h0M1100.6 1342.7h0M1025.0 1327.1h0M1099.9 1333.5h0M831.1 1346.6h0M911.3 1336.2h0M944.8 1333.9h0M791.0 1329.1h0M975.1 1345.3h0M1085.2 1329.9h0M1019.1 1341.7h0M811.0 1340.3h0M1027.5 1337.8h0M1037.0 1346.9h0M787.2 1343.4h0M926.3 1341.9h0M868.3 1342.7h0M895.3 1344.1h0M838.4 1337.2h0M978.6 1334.6h0M821.7 1339.2h0M846.2 1353.2h0M836.9 1351.2h0M851.8 1353.2h0M938.0 1331.7h0M732.7 1331.7h0M708.5 1333.8h0M715.4 1338.6h0M778.4 1343.8h0M718.3 1328.8h0M706.1 1337.6h0M732.7 1343.0h0M707.6 1333.6h0M761.7 1340.5h0M746.5 1347.8h0M710.2 1332.3h0M750.9 1340.4h0M788.2 1349.5h0M752.9 1344.7h0M762.8 1330.9h0M754.2 1334.7h0M732.3 1331.4h0M700.8 1346.8h0M764.5 1344.5h0M725.9 1337.2h0M715.8 1341.2h0M775.5 1345.1h0M784.0 1333.7h0M763.1 1330.8h0M748.3 1330.4h0" stroke="#6aa6e6" stroke-width="17" stroke-linecap="round" fill="none"/>
<path d="M529.4 1344.2h0M539.6 1337.7h0M545.1 1351.6h0M569.1 1335.9h0M575.6 1331.2h0M581.1 1361.7h0M610.7 1341.4h0M606.1 1354.3h0M619.0 1350.6h0M666.1 1339.6h0M657.8 1360.8h0M668.9 1365.4h0M677.2 1359.0h0M692.9 1362.7h0M704.9 1358.0h0M705.8 1334.0h0M715.1 1342.3h0M728.0 1356.2h0M733.5 1331.2h0M731.7 1341.4h0M752.0 1337.7h0M763.1 1330.3h0M770.5 1337.7h0M781.6 1334.0h0M766.8 1358.0h0M776.0 1359.9h0M766.8 1372.8h0M796.3 1345.1h0M688.3 1381.1h0M692.0 1403.3h0M720.6 1405.1h0M732.6 1405.1h0M755.7 1407.9h0M775.1 1395.9h0M650.4 1407.9h0M790.8 1428.2h0M810.2 1443.0h0M761.2 1488.3h0M831.8 1372.0h0M821.7 1397.4h0M823.7 1409.6h0M833.9 1415.7h0M852.1 1422.8h0M855.2 1434.0h0M791.2 1427.9h0M837.9 1470.5h0M900.9 1396.4h0M892.8 1413.6h0M913.1 1368.9h0M883.6 1380.1h0M879.6 1373.0h0M895.8 1368.9h0M934.4 1382.1h0M950.7 1379.1h0M944.6 1386.2h0M958.8 1401.4h0M976.1 1387.2h0M1002.5 1401.4h0M1009.6 1386.2h0M1013.7 1391.3h0M1028.9 1393.3h0M1045.2 1392.3h0M1037.1 1380.1h0M1056.4 1365.9h0M1072.6 1374.0h0M1079.7 1358.8h0M938.5 1363.9h0M975.1 1364.9h0M1103.1 1332.4h0M745.0 1360.0h0M758.0 1352.0h0M786.0 1352.0h0M700.0 1350.0h0M690.0 1345.0h0M826.0 1346.8h0M976.9 1331.1h0M832.2 1336.3h0M807.5 1328.9h0M1087.5 1352.0h0M902.7 1330.0h0M996.4 1325.8h0M829.0 1335.3h0M998.8 1326.6h0M1045.5 1334.2h0M1097.9 1348.3h0M961.6 1333.8h0M897.7 1339.6h0M860.1 1345.5h0M1061.7 1326.7h0M934.0 1329.9h0M811.5 1333.4h0M922.2 1331.5h0M999.8 1337.6h0M1072.6 1337.6h0M795.6 1330.6h0M895.3 1345.9h0M1074.1 1338.0h0M893.2 1330.9h0M836.0 1339.2h0M931.6 1337.7h0M802.4 1333.0h0M1054.8 1343.2h0M883.5 1337.5h0M813.5 1333.0h0M792.8 1337.3h0M933.8 1327.1h0M1020.8 1337.9h0M804.8 1335.7h0M1070.7 1333.3h0M1041.8 1339.2h0M814.6 1330.9h0M878.5 1346.1h0M942.3 1346.7h0M854.3 1336.0h0M867.3 1343.1h0M1085.2 1344.2h0M924.1 1344.4h0M1023.1 1328.3h0M806.5 1331.2h0M863.2 1356.3h0M1021.6 1331.8h0M996.0 1344.6h0M1034.2 1334.4h0M832.8 1329.7h0M830.8 1338.9h0M1035.8 1328.8h0M1027.2 1327.3h0M899.7 1335.3h0M1103.6 1331.4h0M862.9 1347.3h0M804.4 1355.4h0M988.0 1330.1h0M943.9 1343.4h0M979.9 1335.0h0M797.3 1335.2h0M962.1 1328.6h0M888.6 1331.9h0M897.3 1329.3h0M885.6 1335.0h0M1076.1 1355.0h0M812.5 1338.8h0M1092.3 1335.8h0M1008.4 1341.2h0M1042.2 1338.3h0M830.9 1338.4h0M800.7 1334.1h0M1014.2 1331.2h0M1027.6 1327.7h0M1036.9 1349.9h0M829.0 1332.2h0M943.8 1333.7h0M978.2 1333.8h0M861.5 1339.8h0M899.0 1356.7h0M877.6 1334.8h0M917.4 1335.2h0M999.8 1326.6h0M867.2 1349.5h0M815.6 1343.4h0M960.2 1326.8h0M834.4 1337.5h0M1035.0 1328.8h0M1072.7 1328.2h0M880.3 1331.9h0M893.5 1334.3h0M1064.6 1334.0h0M1022.6 1335.8h0M1034.8 1334.3h0M965.5 1332.3h0M962.1 1332.6h0M1010.1 1335.0h0M943.3 1326.8h0M819.5 1328.9h0M903.4 1352.0h0M982.6 1330.5h0M921.7 1346.5h0M829.0 1342.2h0M917.0 1331.3h0M944.3 1327.2h0M948.3 1330.3h0M788.7 1335.1h0M931.7 1337.3h0M799.1 1341.8h0M956.0 1347.4h0M918.5 1334.5h0M1012.8 1330.0h0M876.9 1331.0h0M1061.6 1328.8h0M924.1 1336.5h0M1020.3 1344.0h0M810.4 1339.0h0M900.6 1329.2h0M807.8 1331.6h0M855.0 1331.9h0M1020.8 1329.8h0M794.3 1334.7h0M929.2 1346.3h0M1068.1 1329.4h0M914.7 1340.9h0M901.5 1334.3h0M968.5 1337.0h0M996.6 1337.6h0M1077.0 1336.9h0M822.4 1339.4h0M1062.6 1353.2h0M974.5 1332.4h0M904.1 1333.5h0M878.1 1349.8h0M888.7 1336.0h0M945.2 1341.6h0M1093.7 1332.9h0M940.4 1334.2h0M1084.0 1352.5h0M890.9 1332.8h0M974.5 1326.7h0M825.6 1335.2h0M909.8 1343.7h0M950.5 1329.6h0M1075.8 1340.9h0M1040.1 1344.9h0M952.1 1329.3h0M912.5 1334.5h0M1039.8 1333.7h0M794.4 1347.8h0M1014.0 1330.8h0M901.2 1331.8h0M837.0 1331.6h0M974.0 1329.7h0M1061.2 1342.9h0M1035.8 1328.8h0M793.7 1350.8h0M857.2 1336.0h0M825.8 1350.4h0M964.8 1327.2h0M901.7 1338.8h0M969.4 1325.2h0M907.8 1339.5h0M908.6 1338.3h0M961.8 1359.4h0M1090.4 1364.3h0M994.4 1335.4h0M853.6 1332.2h0M1022.9 1336.4h0M1047.1 1327.8h0M825.8 1333.6h0M848.3 1336.8h0M1004.4 1340.6h0M948.8 1326.9h0M807.5 1335.5h0M800.5 1364.0h0M1002.9 1331.4h0M879.0 1343.4h0M872.6 1334.7h0M863.9 1333.0h0M1043.6 1346.1h0M1095.7 1347.0h0M882.6 1358.2h0M883.3 1330.0h0M818.2 1330.4h0M793.0 1346.7h0M1075.1 1332.9h0M871.4 1335.9h0M1066.6 1330.7h0M905.0 1338.5h0M1037.7 1332.0h0M842.1 1352.4h0M1026.8 1337.3h0M1070.9 1334.2h0M919.4 1329.4h0M1069.1 1334.7h0M968.9 1332.5h0M907.9 1349.3h0M968.6 1330.5h0M1011.2 1329.7h0M1055.3 1330.6h0M903.8 1333.3h0M910.9 1333.2h0M814.6 1335.6h0M949.7 1336.4h0M1065.0 1329.4h0M981.9 1324.9h0M833.3 1348.4h0M961.6 1341.6h0M844.4 1331.2h0M888.2 1333.1h0M979.0 1325.8h0M888.6 1329.9h0M903.7 1330.9h0M932.2 1343.4h0M867.5 1331.0h0M1089.3 1337.8h0M1062.0 1345.5h0M1097.8 1337.5h0M1085.4 1330.2h0M966.2 1341.8h0M1015.5 1333.9h0M987.4 1343.9h0M791.8 1339.3h0M936.4 1332.3h0M869.2 1343.6h0M1099.6 1334.6h0M1092.6 1334.1h0M837.7 1333.6h0M900.3 1350.9h0M833.1 1332.0h0M1082.7 1352.2h0M984.7 1338.0h0M1022.0 1333.7h0M907.2 1331.1h0M816.1 1337.9h0M856.1 1339.5h0M888.5 1338.8h0M891.2 1341.5h0M1050.2 1328.5h0M786.7 1337.0h0M1061.1 1327.4h0M1017.2 1340.3h0M854.5 1335.4h0M862.4 1331.4h0M1002.3 1328.2h0M864.1 1343.6h0M799.5 1332.3h0M1097.9 1332.8h0M970.7 1327.5h0M1072.8 1343.3h0M1097.8 1338.1h0M835.7 1332.7h0M974.4 1337.7h0M999.0 1328.6h0M988.9 1333.8h0M998.8 1334.2h0M948.2 1339.4h0M829.7 1330.8h0M924.2 1327.9h0M887.3 1345.8h0M1011.9 1334.2h0M1094.6 1350.5h0M817.5 1336.5h0M1089.5 1342.0h0M883.8 1349.9h0M928.0 1333.2h0M934.4 1341.4h0M872.0 1330.2h0M877.0 1342.2h0M896.3 1340.6h0M835.9 1334.0h0M1080.6 1341.5h0M1053.9 1333.1h0M1068.4 1344.2h0M842.6 1342.9h0M1100.6 1342.7h0M1025.0 1327.1h0M1099.9 1333.5h0M831.1 1346.6h0M911.3 1336.2h0M944.8 1333.9h0M791.0 1329.1h0M975.1 1345.3h0M1085.2 1329.9h0M1019.1 1341.7h0M811.0 1340.3h0M1027.5 1337.8h0M1037.0 1346.9h0M787.2 1343.4h0M926.3 1341.9h0M868.3 1342.7h0M895.3 1344.1h0M838.4 1337.2h0M978.6 1334.6h0M821.7 1339.2h0M846.2 1353.2h0M836.9 1351.2h0M851.8 1353.2h0M938.0 1331.7h0M732.7 1331.7h0M708.5 1333.8h0M715.4 1338.6h0M778.4 1343.8h0M718.3 1328.8h0M706.1 1337.6h0M732.7 1343.0h0M707.6 1333.6h0M761.7 1340.5h0M746.5 1347.8h0M710.2 1332.3h0M750.9 1340.4h0M788.2 1349.5h0M752.9 1344.7h0M762.8 1330.9h0M754.2 1334.7h0M732.3 1331.4h0M700.8 1346.8h0M764.5 1344.5h0M725.9 1337.2h0M715.8 1341.2h0M775.5 1345.1h0M784.0 1333.7h0M763.1 1330.8h0M748.3 1330.4h0" stroke="#0a8ff0" stroke-width="15.4" stroke-linecap="round" fill="none"/>
<path d="M1331.7 1120.5h0M1366.8 1163.7h0M1484.5 1124.8h0M1526.5 1101.3h0M1571.9 1157.3h0M1543.8 1171.0h0M1226.6 1168.8h0M1247.2 1164.4h0M1299.1 1178.1h0M1235.9 1195.4h0M1334.6 1188.8h0M1405.0 1185.4h0M1426.1 1182.1h0M1432.8 1188.8h0M1471.1 1181.5h0M1406.2 1192.1h0M1420.6 1204.3h0M1423.9 1208.7h0M1500.4 1202.1h0M1464.9 1210.9h0M1442.7 1212.0h0M1437.2 1219.8h0M1499.3 1219.8h0M1522.5 1218.7h0M1529.2 1228.7h0M1232.1 1219.8h0M1234.4 1235.3h0M1258.7 1215.4h0M1280.9 1216.5h0M1270.9 1224.2h0M1257.6 1235.3h0M1266.5 1237.5h0M1275.4 1235.3h0M1288.7 1235.3h0M1304.2 1230.9h0M1310.8 1206.5h0M1319.7 1206.5h0M1315.3 1228.7h0M1333.0 1210.9h0M1328.6 1224.2h0M1346.3 1202.1h0M1353.0 1206.5h0M1341.9 1219.8h0M1350.7 1228.7h0M1353.0 1235.3h0M1337.4 1230.9h0M1324.1 1230.9h0M1368.5 1224.2h0M1381.8 1215.4h0M1372.9 1228.7h0M1366.3 1233.1h0M1384.0 1237.5h0M1388.4 1239.8h0M1401.7 1238.6h0M1412.8 1233.1h0M1412.8 1238.6h0M1435.0 1237.5h0M1456.0 1229.8h0M1467.1 1237.5h0M1476.0 1235.3h0M1299.3 1177.7h0M1334.8 1189.2h0M1420.1 1205.3h0M1501.0 1202.2h0M1499.3 1219.7h0M1523.4 1218.5h0M1529.4 1225.7h0M1465.0 1210.8h0M1441.7 1213.7h0M1438.0 1220.0h0M1279.6 1216.1h0M1292.0 1226.0h0M1300.0 1236.0h0M1318.0 1238.0h0M1330.0 1226.0h0M1345.0 1238.0h0M1360.0 1236.0h0M1296.0 1214.0h0M1310.0 1220.0h0M1340.0 1212.0h0M1362.0 1214.0h0M1392.0 1232.0h0M1244.0 1236.0h0M1250.0 1226.0h0M1322.0 1215.0h0M1305.0 1240.0h0M1284.0 1240.0h0M1358.0 1226.0h0" stroke="#8a9ee0" stroke-width="17" stroke-linecap="round" fill="none"/>
<path d="M1331.7 1120.5h0M1366.8 1163.7h0M1484.5 1124.8h0M1526.5 1101.3h0M1571.9 1157.3h0M1543.8 1171.0h0M1226.6 1168.8h0M1247.2 1164.4h0M1299.1 1178.1h0M1235.9 1195.4h0M1334.6 1188.8h0M1405.0 1185.4h0M1426.1 1182.1h0M1432.8 1188.8h0M1471.1 1181.5h0M1406.2 1192.1h0M1420.6 1204.3h0M1423.9 1208.7h0M1500.4 1202.1h0M1464.9 1210.9h0M1442.7 1212.0h0M1437.2 1219.8h0M1499.3 1219.8h0M1522.5 1218.7h0M1529.2 1228.7h0M1232.1 1219.8h0M1234.4 1235.3h0M1258.7 1215.4h0M1280.9 1216.5h0M1270.9 1224.2h0M1257.6 1235.3h0M1266.5 1237.5h0M1275.4 1235.3h0M1288.7 1235.3h0M1304.2 1230.9h0M1310.8 1206.5h0M1319.7 1206.5h0M1315.3 1228.7h0M1333.0 1210.9h0M1328.6 1224.2h0M1346.3 1202.1h0M1353.0 1206.5h0M1341.9 1219.8h0M1350.7 1228.7h0M1353.0 1235.3h0M1337.4 1230.9h0M1324.1 1230.9h0M1368.5 1224.2h0M1381.8 1215.4h0M1372.9 1228.7h0M1366.3 1233.1h0M1384.0 1237.5h0M1388.4 1239.8h0M1401.7 1238.6h0M1412.8 1233.1h0M1412.8 1238.6h0M1435.0 1237.5h0M1456.0 1229.8h0M1467.1 1237.5h0M1476.0 1235.3h0M1299.3 1177.7h0M1334.8 1189.2h0M1420.1 1205.3h0M1501.0 1202.2h0M1499.3 1219.7h0M1523.4 1218.5h0M1529.4 1225.7h0M1465.0 1210.8h0M1441.7 1213.7h0M1438.0 1220.0h0M1279.6 1216.1h0M1292.0 1226.0h0M1300.0 1236.0h0M1318.0 1238.0h0M1330.0 1226.0h0M1345.0 1238.0h0M1360.0 1236.0h0M1296.0 1214.0h0M1310.0 1220.0h0M1340.0 1212.0h0M1362.0 1214.0h0M1392.0 1232.0h0M1244.0 1236.0h0M1250.0 1226.0h0M1322.0 1215.0h0M1305.0 1240.0h0M1284.0 1240.0h0M1358.0 1226.0h0" stroke="#fb2b2f" stroke-width="15.4" stroke-linecap="round" fill="none"/>
<line x1="338" y1="1284.4" x2="1721.6" y2="1284.4" stroke="#000" stroke-width="4.6"/>
<line x1="1168" y1="1056.3" x2="1168" y2="1511" stroke="#000" stroke-width="3.5"/>
<text x="330.2" y="1320.5" font-size="40" text-anchor="middle" >-15</text>
<text x="608.3" y="1320.5" font-size="40" text-anchor="middle" >-10</text>
<text x="886.1" y="1320.5" font-size="40" text-anchor="middle" >-5</text>
<text x="1443" y="1320.5" font-size="40" text-anchor="middle" >5</text>
<text x="1720" y="1320.5" font-size="40" text-anchor="middle" >10</text>
<text x="1159" y="1074.7" font-size="40" text-anchor="end" >5</text>
<text x="1159" y="1163" font-size="40" text-anchor="end" >3</text>
<text x="1159" y="1249.1" font-size="40" text-anchor="end" >1</text>
<text x="1159" y="1342.9" font-size="40" text-anchor="end" >-1</text>
<text x="1159" y="1433.9" font-size="40" text-anchor="end" >-3</text>
<text x="1159" y="1522.9" font-size="40" text-anchor="end" >-5</text>
<text x="1455.9" y="1348.3" font-size="30" text-anchor="middle" >log2(fold change)</text>
<text x="1457" y="1379.9" font-size="30" text-anchor="middle" >U87</text>
<text transform="translate(1090.9,1150.7) rotate(-90)" font-size="30" text-anchor="middle">LN229</text>
<text transform="translate(1121.7,1150.2) rotate(-90)" font-size="30" text-anchor="middle">log2(fold change)</text>
<text x="1284.8" y="1094.8" font-size="24" text-anchor="start" >CCL2</text>
<line x1="1323.3" y1="1098.4" x2="1328.4" y2="1110.4" stroke="#222" stroke-width="2.4"/>
<text x="1412.1" y="1101.3" font-size="24" text-anchor="start" >WNT7B</text>
<line x1="1471.2" y1="1104" x2="1478.5" y2="1116.4" stroke="#222" stroke-width="2.4"/>
<text x="1547.3" y="1089.3" font-size="24" text-anchor="start" >BEX1</text>
<line x1="1534.2" y1="1092.4" x2="1545" y2="1085.2" stroke="#222" stroke-width="2.4"/>
<text x="1574.2" y="1134.4" font-size="24" text-anchor="start" >KRT15</text>
<line x1="1578.6" y1="1148.9" x2="1588.2" y2="1137.6" stroke="#222" stroke-width="2.4"/>
<text x="1546.6" y="1213.7" font-size="24" text-anchor="start" >IL7R</text>
<line x1="1550.5" y1="1181.3" x2="1556.2" y2="1193.3" stroke="#222" stroke-width="2.4"/>
<text x="444.8" y="1320.6" font-size="24" text-anchor="start" >PALD1</text>
<line x1="523.1" y1="1319.8" x2="534.7" y2="1328.9" stroke="#222" stroke-width="2.4"/>
<text x="505.5" y="1405" font-size="24" text-anchor="start" >CNTN1</text>
<line x1="564.4" y1="1379.1" x2="575.2" y2="1368.4" stroke="#222" stroke-width="2.4"/>
<text x="572.3" y="1450.3" font-size="24" text-anchor="start" >TUBB4A</text>
<line x1="634.7" y1="1426.6" x2="645" y2="1415.8" stroke="#222" stroke-width="2.4"/>
<text x="721.9" y="1469.7" font-size="24" text-anchor="start" >NKD1</text>
<line x1="791.6" y1="1454.6" x2="805.8" y2="1448.1" stroke="#222" stroke-width="2.4"/>
<text x="838.3" y="1508.4" font-size="24" text-anchor="start" >COL9A1</text>
<line x1="846.7" y1="1476.1" x2="857.5" y2="1486" stroke="#222" stroke-width="2.4"/>
<text x="679.2" y="1530" font-size="24" text-anchor="start" >SLC13A3</text>
<line x1="754" y1="1495.5" x2="745.4" y2="1507.6" stroke="#222" stroke-width="2.4"/>
<text x="1338.5" y="1144" font-size="28.5" text-anchor="start" font-weight="bold">ALDH1A3</text>
<line x1="1379.3" y1="1148.9" x2="1374.5" y2="1156.1" stroke="#222" stroke-width="2.4"/>
<text x="87" y="1659.6" font-size="78" text-anchor="start" >C</text>
<rect x="276.9" y="1987.1" width="127.3" height="144.1" fill="#000"/>
<line x1="340.5" y1="1987.1" x2="340.5" y2="1985.4" stroke="#000" stroke-width="3.4"/>
<line x1="309.0" y1="1985.4" x2="372.0" y2="1985.4" stroke="#000" stroke-width="3.4"/>
<line x1="340.5" y1="2131.2" x2="340.5" y2="2145.2" stroke="#000" stroke-width="3.4"/>
<rect x="471.7" y="1811.4" width="123.1" height="319.8" fill="#a5a4aa" stroke="#000" stroke-width="3.6"/>
<line x1="533.2" y1="1809.6" x2="533.2" y2="1805.2" stroke="#000" stroke-width="3.4"/>
<line x1="501.8" y1="1805.2" x2="564.8" y2="1805.2" stroke="#000" stroke-width="3.4"/>
<line x1="533.2" y1="2131.2" x2="533.2" y2="2145.2" stroke="#000" stroke-width="3.4"/>
<line x1="212.4" y1="1769.2" x2="212.4" y2="2132.9" stroke="#000" stroke-width="3.4"/>
<line x1="200.9" y1="2131.2" x2="662.2" y2="2131.2" stroke="#000" stroke-width="3.4"/>
<line x1="200.9" y1="2131.2" x2="212.4" y2="2131.2" stroke="#000" stroke-width="3.4"/>
<text x="197.1" y="2146.2" font-size="41.5" text-anchor="end" >0</text>
<line x1="200.9" y1="2059.1" x2="212.4" y2="2059.1" stroke="#000" stroke-width="3.4"/>
<text x="197.1" y="2074.15" font-size="41.5" text-anchor="end" >0.5</text>
<line x1="200.9" y1="1987.1" x2="212.4" y2="1987.1" stroke="#000" stroke-width="3.4"/>
<text x="197.1" y="2002.1" font-size="41.5" text-anchor="end" >1</text>
<line x1="200.9" y1="1915.0" x2="212.4" y2="1915.0" stroke="#000" stroke-width="3.4"/>
<text x="197.1" y="1930.05" font-size="41.5" text-anchor="end" >1.5</text>
<line x1="200.9" y1="1843.0" x2="212.4" y2="1843.0" stroke="#000" stroke-width="3.4"/>
<text x="197.1" y="1858" font-size="41.5" text-anchor="end" >2</text>
<line x1="200.9" y1="1770.9" x2="212.4" y2="1770.9" stroke="#000" stroke-width="3.4"/>
<text x="197.1" y="1785.95" font-size="41.5" text-anchor="end" >2.5</text>
<text x="404.5" y="1744.2" font-size="51" text-anchor="middle" >LN229</text>
<text transform="translate(534.3,1799.3) scale(1,0.83)" font-size="36" text-anchor="middle">****</text>
<text transform="translate(126.9,1944.6) rotate(-90)" font-size="42" text-anchor="middle">Expression of ALDH1A3</text>
<text transform="translate(368.5,2175.2) rotate(-30)" font-size="42" text-anchor="end">EGFRvIII(-)</text>
<text transform="translate(561.8,2174.6) rotate(-30)" font-size="42" text-anchor="end">EGFRvIII(+)</text>
<rect x="962.0" y="1986.1" width="127.7" height="144.0" fill="#000"/>
<line x1="1025.8" y1="1986.1" x2="1025.8" y2="1977.0" stroke="#000" stroke-width="3.4"/>
<line x1="994.3" y1="1977.0" x2="1057.3" y2="1977.0" stroke="#000" stroke-width="3.4"/>
<line x1="1025.8" y1="2130.1" x2="1025.8" y2="2144.1" stroke="#000" stroke-width="3.4"/>
<rect x="1158.5" y="1848.9" width="121.1" height="281.2" fill="#a5a4aa" stroke="#000" stroke-width="3.6"/>
<line x1="1219.1" y1="1847.1" x2="1219.1" y2="1827.7" stroke="#000" stroke-width="3.4"/>
<line x1="1187.6" y1="1827.7" x2="1250.6" y2="1827.7" stroke="#000" stroke-width="3.4"/>
<line x1="1219.1" y1="2130.1" x2="1219.1" y2="2144.1" stroke="#000" stroke-width="3.4"/>
<line x1="896.8" y1="1768.4" x2="896.8" y2="2131.8" stroke="#000" stroke-width="3.4"/>
<line x1="885.3" y1="2130.1" x2="1348.0" y2="2130.1" stroke="#000" stroke-width="3.4"/>
<line x1="885.3" y1="2130.1" x2="896.8" y2="2130.1" stroke="#000" stroke-width="3.4"/>
<text x="881.9" y="2145.1" font-size="41.5" text-anchor="end" >0</text>
<line x1="885.3" y1="2058.1" x2="896.8" y2="2058.1" stroke="#000" stroke-width="3.4"/>
<text x="881.9" y="2073.1" font-size="41.5" text-anchor="end" >0.5</text>
<line x1="885.3" y1="1986.1" x2="896.8" y2="1986.1" stroke="#000" stroke-width="3.4"/>
<text x="881.9" y="2001.1" font-size="41.5" text-anchor="end" >1</text>
<line x1="885.3" y1="1914.1" x2="896.8" y2="1914.1" stroke="#000" stroke-width="3.4"/>
<text x="881.9" y="1929.1" font-size="41.5" text-anchor="end" >1.5</text>
<line x1="885.3" y1="1842.1" x2="896.8" y2="1842.1" stroke="#000" stroke-width="3.4"/>
<text x="881.9" y="1857.1" font-size="41.5" text-anchor="end" >2</text>
<line x1="885.3" y1="1770.1" x2="896.8" y2="1770.1" stroke="#000" stroke-width="3.4"/>
<text x="881.9" y="1785.1" font-size="41.5" text-anchor="end" >2.5</text>
<text x="1119.6" y="1744.2" font-size="51" text-anchor="middle" >U87</text>
<text transform="translate(1219.8,1812.3) scale(1.05,0.81)" font-size="36" text-anchor="middle">****</text>
<text transform="translate(811.1,1944.6) rotate(-90)" font-size="42" text-anchor="middle">Expression of ALDH1A3</text>
<text transform="translate(1049.9,2175.6) rotate(-30)" font-size="42" text-anchor="end">EGFRvIII(-)</text>
<text transform="translate(1244.0,2176.0) rotate(-30)" font-size="42" text-anchor="end">EGFRvIII(+)</text>
<rect x="1691.4" y="2042.1" width="128.2" height="88.6" fill="#000"/>
<line x1="1755.5" y1="2042.1" x2="1755.5" y2="2040.3" stroke="#000" stroke-width="3.6"/>
<line x1="1724.0" y1="2040.3" x2="1787.0" y2="2040.3" stroke="#000" stroke-width="3.6"/>
<line x1="1755.5" y1="2130.7" x2="1755.5" y2="2144.7" stroke="#000" stroke-width="3.6"/>
<rect x="1888.0" y="1864.8" width="121.2" height="265.9" fill="#a5a4aa" stroke="#000" stroke-width="3.6"/>
<line x1="1948.6" y1="1863.0" x2="1948.6" y2="1816.7" stroke="#000" stroke-width="3.6"/>
<line x1="1917.1" y1="1816.7" x2="1980.1" y2="1816.7" stroke="#000" stroke-width="3.6"/>
<line x1="1948.6" y1="2130.7" x2="1948.6" y2="2144.7" stroke="#000" stroke-width="3.6"/>
<line x1="1626.0" y1="1769.0" x2="1626.0" y2="2132.5" stroke="#000" stroke-width="3.6"/>
<line x1="1599.0" y1="2130.7" x2="2078.5" y2="2130.7" stroke="#000" stroke-width="3.6"/>
<line x1="1599.0" y1="2130.7" x2="1626.0" y2="2130.7" stroke="#000" stroke-width="3.6"/>
<text x="1589.6" y="2145.7" font-size="41.5" text-anchor="end" >0.8</text>
<line x1="1599.0" y1="2040.7" x2="1626.0" y2="2040.7" stroke="#000" stroke-width="3.6"/>
<text x="1589.6" y="2055.72" font-size="41.5" text-anchor="end" >1</text>
<line x1="1599.0" y1="1950.7" x2="1626.0" y2="1950.7" stroke="#000" stroke-width="3.6"/>
<text x="1589.6" y="1965.74" font-size="41.5" text-anchor="end" >1.2</text>
<line x1="1599.0" y1="1860.8" x2="1626.0" y2="1860.8" stroke="#000" stroke-width="3.6"/>
<text x="1589.6" y="1875.76" font-size="41.5" text-anchor="end" >1.4</text>
<line x1="1599.0" y1="1770.8" x2="1626.0" y2="1770.8" stroke="#000" stroke-width="3.6"/>
<text x="1589.6" y="1785.78" font-size="41.5" text-anchor="end" >1.6</text>
<text x="1822.5" y="1744.2" font-size="51" text-anchor="middle" >BNI-21-1-S</text>
<text transform="translate(1950.2,1801.9) scale(1.44,0.65)" font-size="36" text-anchor="middle">**</text>
<text transform="translate(1513.9,1944.6) rotate(-90)" font-size="42" text-anchor="middle">Expression of ALDH1A3</text>
<text transform="translate(1779.6,2179.0) rotate(-30)" font-size="42" text-anchor="end">EGFRvIII(-)</text>
<text transform="translate(1966.8,2177.0) rotate(-30)" font-size="42" text-anchor="end">EGFRvIII(+)</text>
<text x="94.5" y="2402.4" font-size="77" text-anchor="start" >D</text>
<text x="386.2" y="2481.7" font-size="45.7" text-anchor="middle" font-family="'Noto Sans CJK SC', 'Liberation Sans', sans-serif" font-weight="700" textLength="133.7" lengthAdjust="spacingAndGlyphs">LN229</text>
<text x="688" y="2481.7" font-size="45.7" text-anchor="middle" font-family="'Noto Sans CJK SC', 'Liberation Sans', sans-serif" font-weight="700" textLength="85.3" lengthAdjust="spacingAndGlyphs">U87</text>
<text x="961.7" y="2481.7" font-size="45.7" text-anchor="middle" font-family="'Noto Sans CJK SC', 'Liberation Sans', sans-serif" font-weight="700" textLength="222.8" lengthAdjust="spacingAndGlyphs">BNI-21-1-S</text>
<text x="18.5" y="2583.4" font-size="45" text-anchor="start" >ALDH1A3</text>
<text x="73" y="2690.5" font-size="46" text-anchor="start" >β-actin</text>
<rect x="236.6" y="2511.5" width="287.6" height="97" fill="#dedede" filter="url(#grain)"/>
<rect x="547.2" y="2511.5" width="263" height="97" fill="#e1e1e1" filter="url(#grain)"/>
<rect x="833.2" y="2511.5" width="262" height="97" fill="#fcfcfc"/>
<rect x="236.6" y="2626.5" width="287.6" height="98" fill="#e4e4e4" filter="url(#grain)"/>
<rect x="547.2" y="2626.5" width="263" height="98" fill="#e2e2e2" filter="url(#grain)"/>
<rect x="833.2" y="2628.8" width="262" height="94.8" fill="#eeeeee"/>
<clipPath id="cpU87"><rect x="547.2" y="2511.5" width="263" height="97"/></clipPath>
<g clip-path="url(#cpU87)"><ellipse cx="760" cy="2566" rx="85" ry="52" fill="#8a8a8a" opacity="0.6" filter="url(#blur6)"/></g>
<path d="M394 2562 Q396 2556 410 2556 L485 2557 Q494 2558 494 2563 Q494 2569 485 2569 L410 2570 Q394 2570 394 2562Z" fill="#8a8a8a" filter="url(#blur2)"/>
<path d="M697 2566 Q704 2556 730 2553 Q770 2550 790 2555 Q797 2560 795 2568 Q792 2578 770 2579 Q730 2581 710 2576 Q699 2572 697 2566Z" fill="#050505" filter="url(#blur1)"/>
<path d="M972 2573 Q975 2569 985 2570 L1000 2571 Q1010 2568 1030 2568 L1066 2569 Q1071 2572 1068 2576 L1030 2578 Q1010 2578 1000 2575 L985 2576 Q973 2577 972 2573Z" fill="#111" filter="url(#blur1)"/>
<clipPath id="cpBot"><rect x="236.6" y="2626.5" width="287.6" height="98"/><rect x="547.2" y="2626.5" width="263" height="98"/><rect x="833.2" y="2628.8" width="262" height="94.8"/></clipPath>
<g clip-path="url(#cpBot)">
<path d="M247.8 2659.5 Q247.8 2653.5 255.8 2653.5 L381.5 2653.5 Q389.5 2653.5 389.5 2659.5 L389.5 2673.1 C389.5 2697.0 347.0 2697.0 318.6 2697.0 C290.3 2697.0 247.8 2697.0 247.8 2673.1Z" fill="#606060" opacity="0.45" filter="url(#blur6)"/>
<path d="M399.6 2663.0 Q399.6 2657.0 407.6 2657.0 L513.6 2657.0 Q521.6 2657.0 521.6 2663.0 L521.6 2676.2 C521.6 2699.6 485.0 2699.6 460.6 2699.6 C436.2 2699.6 399.6 2699.6 399.6 2676.2Z" fill="#606060" opacity="0.45" filter="url(#blur6)"/>
<path d="M837.0 2681.0 Q837.0 2675.0 845.0 2675.0 L937.2 2675.0 Q945.2 2675.0 945.2 2681.0 L945.2 2689.8 C945.2 2707.9 912.7 2707.9 891.1 2707.9 C869.5 2707.9 837.0 2707.9 837.0 2689.8Z" fill="#606060" opacity="0.45" filter="url(#blur6)"/>
<path d="M953.1 2689.3 Q953.1 2683.3 961.1 2683.3 L1069.8 2683.3 Q1077.8 2683.3 1077.8 2689.3 L1077.8 2698.3 C1077.8 2716.6 1040.4 2716.6 1015.5 2716.6 C990.5 2716.6 953.1 2716.6 953.1 2698.3Z" fill="#606060" opacity="0.45" filter="url(#blur6)"/>
<path d="M555 2670 Q556 2659 572 2659 L662 2658 Q672 2659 678 2666 L688 2672 L689 2664 Q691 2656 706 2656 L795 2656 Q806 2659 805 2670 Q803 2684 790 2685 L712 2686 Q694 2686 686 2684 Q676 2699 652 2700 L585 2700 Q557 2698 555 2684Z" fill="#606060" opacity="0.45" filter="url(#blur6)"/>
</g>
<path d="M251.8 2662.5 Q251.8 2656.5 259.8 2656.5 L377.5 2656.5 Q385.5 2656.5 385.5 2662.5 L385.5 2672.9 C385.5 2693.0 345.4 2693.0 318.6 2693.0 C291.9 2693.0 251.8 2693.0 251.8 2672.9Z" fill="#020202" filter="url(#blur1)"/>
<path d="M403.6 2666.0 Q403.6 2660.0 411.6 2660.0 L509.6 2660.0 Q517.6 2660.0 517.6 2666.0 L517.6 2676.0 C517.6 2695.6 483.4 2695.6 460.6 2695.6 C437.8 2695.6 403.6 2695.6 403.6 2676.0Z" fill="#020202" filter="url(#blur1)"/>
<path d="M841.0 2684.0 Q841.0 2678.0 849.0 2678.0 L933.2 2678.0 Q941.2 2678.0 941.2 2684.0 L941.2 2689.7 C941.2 2703.9 911.1 2703.9 891.1 2703.9 C871.1 2703.9 841.0 2703.9 841.0 2689.7Z" fill="#020202" filter="url(#blur1)"/>
<path d="M957.1 2692.3 Q957.1 2686.3 965.1 2686.3 L1065.8 2686.3 Q1073.8 2686.3 1073.8 2692.3 L1073.8 2698.1 C1073.8 2712.6 1038.8 2712.6 1015.5 2712.6 C992.1 2712.6 957.1 2712.6 957.1 2698.1Z" fill="#020202" filter="url(#blur1)"/>
<path d="M555 2670 Q556 2659 572 2659 L662 2658 Q672 2659 678 2666 L688 2672 L689 2664 Q691 2656 706 2656 L795 2656 Q806 2659 805 2670 Q803 2684 790 2685 L712 2686 Q694 2686 686 2684 Q676 2699 652 2700 L585 2700 Q557 2698 555 2684Z" fill="#020202" filter="url(#blur1)"/>
<rect x="236.6" y="2511.5" width="287.6" height="97" fill="none" stroke="#000" stroke-width="2.4"/>
<rect x="547.2" y="2511.5" width="263" height="97" fill="none" stroke="#000" stroke-width="2.4"/>
<rect x="833.2" y="2511.5" width="262" height="97" fill="none" stroke="#000" stroke-width="2.4"/>
<rect x="236.6" y="2626.5" width="287.6" height="98" fill="none" stroke="#000" stroke-width="2.4"/>
<rect x="547.2" y="2626.5" width="263" height="98" fill="none" stroke="#000" stroke-width="2.4"/>
<rect x="833.2" y="2628.8" width="262" height="94.8" fill="none" stroke="#222" stroke-width="3"/>
<text transform="translate(327.7,2783.2) rotate(-29)" font-size="45" text-anchor="end">EGFRvIII(-)</text>
<text transform="translate(478.3,2787.9) rotate(-29)" font-size="45" text-anchor="end">EGFRvIII(+)</text>
<text transform="translate(643.5,2786.3) rotate(-29)" font-size="45" text-anchor="end">EGFRvIII(-)</text>
<text transform="translate(791.7,2789.4) rotate(-29)" font-size="45" text-anchor="end">EGFRvIII(+)</text>
<text transform="translate(929.0,2787.8) rotate(-29)" font-size="45" text-anchor="end">EGFRvIII(-)</text>
<text transform="translate(1080.2,2791.0) rotate(-29)" font-size="45" text-anchor="end">EGFRvIII(+)</text>
<defs><filter id="ihc1" x="0" y="0" width="100%" height="100%" color-interpolation-filters="sRGB"><feTurbulence type="fractalNoise" baseFrequency="0.02" numOctaves="2" seed="3" result="low"/><feColorMatrix in="low" type="matrix" values="0 0 0 0 0  0 0 0 0 0  0 0 0 0 0  1.4 0 0 0 -0.5" result="lowA"/><feFlood flood-color="#8a8aa8"/><feComposite in2="lowA" operator="in" result="var"/><feTurbulence type="fractalNoise" baseFrequency="0.19 0.16" numOctaves="2" seed="5" result="hi"/><feColorMatrix in="hi" type="matrix" values="0 0 0 0 0  0 0 0 0 0  0 0 0 0 0  1 0 0 0 0" result="hiA"/><feComponentTransfer in="hiA" result="n1"><feFuncA type="table" tableValues="0.00 0.00 0.00 0.00 0.00 0.00 0.00 0.00 0.00 0.00 0.00 0.00 0.00 0.00 0.00 0.00 0.00 0.00 0.17 0.58 1.00 1.00 1.00 1.00 1.00 1.00 1.00 1.00 1.00 1.00 1.00 1.00 1.00 1.00 1.00 1.00 1.00 1.00 1.00 1.00 1.00"/></feComponentTransfer><feFlood flood-color="#626294"/><feComposite in2="n1" operator="in" result="nuc"/><feComponentTransfer in="hiA" result="n2"><feFuncA type="table" tableValues="0.00 0.00 0.00 0.00 0.00 0.00 0.00 0.00 0.00 0.00 0.00 0.00 0.00 0.00 0.00 0.00 0.00 0.00 0.00 0.00 0.00 0.00 0.00 0.36 0.71 1.00 1.00 1.00 1.00 1.00 1.00 1.00 1.00 1.00 1.00 1.00 1.00 1.00 1.00 1.00 1.00"/></feComponentTransfer><feFlood flood-color="#3a3b6c"/><feComposite in2="n2" operator="in" result="nucd"/><feFlood flood-color="#cdcdd8" result="bg"/><feMerge><feMergeNode in="bg"/><feMergeNode in="var"/><feMergeNode in="nuc"/><feMergeNode in="nucd"/></feMerge></filter>
<filter id="ihc2" x="0" y="0" width="100%" height="100%" color-interpolation-filters="sRGB"><feTurbulence type="fractalNoise" baseFrequency="0.05" numOctaves="2" seed="7" result="low"/><feColorMatrix in="low" type="matrix" values="0 0 0 0 0  0 0 0 0 0  0 0 0 0 0  2.2 0 0 0 -0.72" result="lowA"/><feFlood flood-color="#7a5234"/><feComposite in2="lowA" operator="in" result="var"/><feTurbulence type="fractalNoise" baseFrequency="0.18 0.16" numOctaves="2" seed="9" result="hi"/><feColorMatrix in="hi" type="matrix" values="0 0 0 0 0  0 0 0 0 0  0 0 0 0 0  1 0 0 0 0" result="hiA"/><feComponentTransfer in="hiA" result="n1"><feFuncA type="table" tableValues="0.00 0.00 0.00 0.00 0.00 0.00 0.00 0.00 0.00 0.00 0.00 0.00 0.00 0.00 0.00 0.00 0.00 0.00 0.00 0.00 0.00 0.00 0.20 0.70 1.00 1.00 1.00 1.00 1.00 1.00 1.00 1.00 1.00 1.00 1.00 1.00 1.00 1.00 1.00 1.00 1.00"/></feComponentTransfer><feFlood flood-color="#6a58b8"/><feComposite in2="n1" operator="in" result="nuc"/><feComponentTransfer in="hiA" result="n2"><feFuncA type="table" tableValues="0.00 0.00 0.00 0.00 0.00 0.00 0.00 0.00 0.00 0.00 0.00 0.00 0.00 0.00 0.00 0.00 0.00 0.00 0.00 0.00 0.00 0.00 0.00 0.00 0.00 0.08 0.50 0.92 1.00 1.00 1.00 1.00 1.00 1.00 1.00 1.00 1.00 1.00 1.00 1.00 1.00"/></feComponentTransfer><feFlood flood-color="#483888"/><feComposite in2="n2" operator="in" result="nucd"/><feFlood flood-color="#c49e82" result="bg"/><feMerge><feMergeNode in="bg"/><feMergeNode in="var"/><feMergeNode in="nuc"/><feMergeNode in="nucd"/></feMerge></filter>
<filter id="ihc3" x="0" y="0" width="100%" height="100%" color-interpolation-filters="sRGB"><feTurbulence type="fractalNoise" baseFrequency="0.02" numOctaves="2" seed="11" result="low"/><feColorMatrix in="low" type="matrix" values="0 0 0 0 0  0 0 0 0 0  0 0 0 0 0  1.4 0 0 0 -0.55" result="lowA"/><feFlood flood-color="#7aa2b4"/><feComposite in2="lowA" operator="in" result="var"/><feTurbulence type="fractalNoise" baseFrequency="0.21 0.2" numOctaves="2" seed="13" result="hi"/><feColorMatrix in="hi" type="matrix" values="0 0 0 0 0  0 0 0 0 0  0 0 0 0 0  1 0 0 0 0" result="hiA"/><feComponentTransfer in="hiA" result="n1"><feFuncA type="table" tableValues="0.00 0.00 0.00 0.00 0.00 0.00 0.00 0.00 0.00 0.00 0.00 0.00 0.00 0.00 0.00 0.00 0.00 0.00 0.00 0.00 0.00 0.30 0.80 1.00 1.00 1.00 1.00 1.00 1.00 1.00 1.00 1.00 1.00 1.00 1.00 1.00 1.00 1.00 1.00 1.00 1.00"/></feComponentTransfer><feFlood flood-color="#3a6a98"/><feComposite in2="n1" operator="in" result="nuc"/><feComponentTransfer in="hiA" result="n2"><feFuncA type="table" tableValues="0.00 0.00 0.00 0.00 0.00 0.00 0.00 0.00 0.00 0.00 0.00 0.00 0.00 0.00 0.00 0.00 0.00 0.00 0.00 0.00 0.00 0.00 0.00 0.00 0.33 0.75 1.00 1.00 1.00 1.00 1.00 1.00 1.00 1.00 1.00 1.00 1.00 1.00 1.00 1.00 1.00"/></feComponentTransfer><feFlood flood-color="#235082"/><feComposite in2="n2" operator="in" result="nucd"/><feFlood flood-color="#a4c4cb" result="bg"/><feMerge><feMergeNode in="bg"/><feMergeNode in="var"/><feMergeNode in="nuc"/><feMergeNode in="nucd"/></feMerge></filter>
<filter id="ihc4" x="0" y="0" width="100%" height="100%" color-interpolation-filters="sRGB"><feTurbulence type="fractalNoise" baseFrequency="0.02" numOctaves="2" seed="17" result="low"/><feColorMatrix in="low" type="matrix" values="0 0 0 0 0  0 0 0 0 0  0 0 0 0 0  1.4 0 0 0 -0.55" result="lowA"/><feFlood flood-color="#b0a48a"/><feComposite in2="lowA" operator="in" result="var"/><feTurbulence type="fractalNoise" baseFrequency="0.19 0.15" numOctaves="2" seed="19" result="hi"/><feColorMatrix in="hi" type="matrix" values="0 0 0 0 0  0 0 0 0 0  0 0 0 0 0  1 0 0 0 0" result="hiA"/><feComponentTransfer in="hiA" result="n1"><feFuncA type="table" tableValues="0.00 0.00 0.00 0.00 0.00 0.00 0.00 0.00 0.00 0.00 0.00 0.00 0.00 0.00 0.00 0.00 0.00 0.00 0.00 0.00 0.00 0.30 0.80 1.00 1.00 1.00 1.00 1.00 1.00 1.00 1.00 1.00 1.00 1.00 1.00 1.00 1.00 1.00 1.00 1.00 1.00"/></feComponentTransfer><feFlood flood-color="#625c98"/><feComposite in2="n1" operator="in" result="nuc"/><feComponentTransfer in="hiA" result="n2"><feFuncA type="table" tableValues="0.00 0.00 0.00 0.00 0.00 0.00 0.00 0.00 0.00 0.00 0.00 0.00 0.00 0.00 0.00 0.00 0.00 0.00 0.00 0.00 0.00 0.00 0.00 0.00 0.17 0.58 1.00 1.00 1.00 1.00 1.00 1.00 1.00 1.00 1.00 1.00 1.00 1.00 1.00 1.00 1.00"/></feComponentTransfer><feFlood flood-color="#3e3878"/><feComposite in2="n2" operator="in" result="nucd"/><feFlood flood-color="#d8cea6" result="bg"/><feMerge><feMergeNode in="bg"/><feMergeNode in="var"/><feMergeNode in="nuc"/><feMergeNode in="nucd"/></feMerge></filter></defs>
<text x="1142.5" y="2402.3" font-size="78" text-anchor="start" textLength="40" lengthAdjust="spacingAndGlyphs">E</text>
<rect x="1263.5" y="2339.1" width="388.4" height="246.4" fill="#888" filter="url(#ihc1)"/>
<rect x="1675.9" y="2339.1" width="387.6" height="246.4" fill="#888" filter="url(#ihc2)"/>
<rect x="1264.2" y="2647.4" width="389.5" height="247.6" fill="#888" filter="url(#ihc3)"/>
<rect x="1675.9" y="2647.4" width="387.6" height="244.6" fill="#888" filter="url(#ihc4)"/>
<line x1="1534.7" y1="2567.4" x2="1621.8" y2="2567.4" stroke="#fff" stroke-width="4"/>
<line x1="1949.3" y1="2567.4" x2="2039.5" y2="2567.4" stroke="#fff" stroke-width="4"/>
<line x1="1535.9" y1="2872" x2="1626" y2="2872" stroke="#fff" stroke-width="4"/>
<line x1="1949.3" y1="2872" x2="2038.3" y2="2872" stroke="#fff" stroke-width="4"/>
<text x="1461.6" y="2630.5" font-size="43" text-anchor="middle" >EGFRvIII(-)</text>
<text x="1868.2" y="2630.5" font-size="43" text-anchor="middle" >EGFRvIII(+)</text>
<text x="1461.6" y="2937" font-size="43" text-anchor="middle" >EGFRvIII(-)</text>
<text x="1868.2" y="2937" font-size="43" text-anchor="middle" >EGFRvIII(+)</text>
<text transform="translate(1248.8,2464.3) rotate(-90)" font-size="42.5" text-anchor="middle">EGFRvIII</text>
<text transform="translate(1251.5,2772.5) rotate(-90)" font-size="42.5" text-anchor="middle">ALDH1A3</text>
</svg></body></html>
